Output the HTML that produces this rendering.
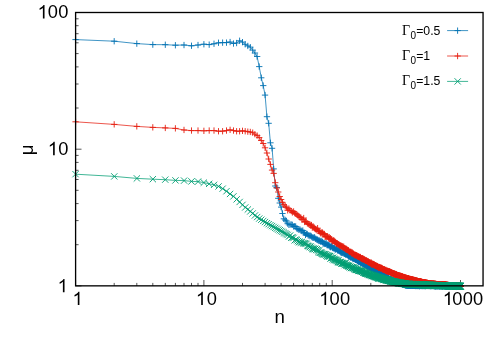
<!DOCTYPE html>
<html><head><meta charset="utf-8"><style>
html,body{margin:0;padding:0;background:#fff}
body{width:498px;height:337px;position:relative;overflow:hidden;font-family:"Liberation Sans",sans-serif;color:#000}
.t{position:absolute;font-size:18px;line-height:20px;height:20px;white-space:nowrap;letter-spacing:-0.25px;transform:scaleY(1.055);transform-origin:center;will-change:transform}
.k{position:absolute;font-size:12.3px;line-height:14px;height:14px;white-space:nowrap;transform:scaleY(1.09);transform-origin:center;will-change:transform}
.k i{font-style:normal;font-family:"Liberation Serif",serif;font-size:14px}
.k sub{font-size:10px;vertical-align:baseline;position:relative;top:3px;margin:0 0 0 0.5px}
</style></head><body>
<svg width="498" height="337" viewBox="0 0 498 337" style="position:absolute;left:0;top:0;will-change:transform">
<path d="M75.6 285.9h5.9M75.6 244.7h3M75.6 220.6h3M75.6 203.6h3M75.6 190.3h3M75.6 179.5h3M75.6 170.3h3M75.6 162.4h3M75.6 155.4h3M75.6 149.2h5.9M75.6 108h3M75.6 84h3M75.6 66.9h3M75.6 53.6h3M75.6 42.8h3M75.6 33.7h3M75.6 25.7h3M75.6 18.8h3M75.6 12.5h5.9M75.6 285.9v-5.9M114.2 285.9v-3M136.8 285.9v-3M152.8 285.9v-3M165.3 285.9v-3M175.4 285.9v-3M184 285.9v-3M191.5 285.9v-3M198 285.9v-3M203.9 285.9v-5.9M242.5 285.9v-3M265.1 285.9v-3M281.1 285.9v-3M293.6 285.9v-3M303.7 285.9v-3M312.3 285.9v-3M319.7 285.9v-3M326.3 285.9v-3M332.2 285.9v-5.9M370.8 285.9v-3M393.4 285.9v-3M409.4 285.9v-3M421.8 285.9v-3M432 285.9v-3M440.6 285.9v-3M448 285.9v-3M454.6 285.9v-3M460.5 285.9v-5.9" stroke="#000" stroke-width="0.67" fill="none"/>
<path d="M75.6 39.6 L114.2 41.2 L136.8 43.6 L152.8 44.6 L165.3 44.7 L175.4 45.2 L184 45 L191.5 45.8 L198 45 L203.9 44.2 L209.2 44.6 L214 43.8 L218.5 42.8 L222.6 42.6 L226.5 42.6 L230.1 42 L233.5 43.5 L236.6 43 L239.6 40.8 L242.5 42.1 L245.2 44.3 L247.8 45.9 L250.3 47.1 L252.7 50.1 L254.9 53 L257.1 56.5 L259.2 66.6 L261.3 77.8 L263.2 85.6 L265.1 95.1 L266.9 116.7 L268.7 123.3 L270.4 142.8 L272.1 148.3 L273.7 168.9 L275.3 186 L276.8 187.5 L278.3 198.3 L279.7 203 L281.1 207.1 L282.5 213.5 L283.8 218.8 L285.2 220 L286.4 220.9 L287.7 223.7 L288.9 224.9 L290.1 224.5 L291.3 224.5 L292.4 224.8 L293.6 226.4 L294.7 226.2 L295.7 226.5 L296.8 228.4 L297.8 229 L298.9 229.9 L299.9 229.3 L300.9 230.6 L301.8 231.1 L302.8 230.5 L303.7 232.6 L304.6 232.9 L305.5 234.9 L306.4 233.8 L307.3 234 L308.2 235.5 L309 235.2 L309.9 236.1 L310.7 235.7 L311.5 236.5 L312.3 237.5 L313.1 237.7 L313.9 237.7 L314.6 237.3 L315.4 238.7 L316.1 238.9 L316.9 239.7 L317.6 239.8 L318.3 240.7 L319 240.4 L319.7 240.9 L320.4 241.5 L321.1 240.8 L321.8 241.6 L322.5 241.9 L323.1 243.7 L323.8 242.8 L324.4 243.6 L325.1 243.9 L325.7 243.7 L326.3 243.3 L326.9 245.1 L327.5 244.6 L328.1 245.6 L328.7 244.8 L329.3 245.6 L329.9 246.8 L330.5 247.2 L331 246 L331.6 246.3 L332.2 247.3 L332.7 248 L333.3 248 L333.8 248.3 L334.4 247.9 L334.9 249 L335.4 249.6 L335.9 249.1 L336.5 248.8 L337 249.4 L337.5 250.5 L338 249.5 L338.5 250.6 L339 250.4 L339.5 251.1 L340 251.3 L340.4 251.6 L340.9 252.6 L341.4 252.3 L341.9 253 L342.3 252.6 L342.8 252.7 L343.3 253.3 L343.7 252.1 L344.2 253.6 L344.6 253.9 L345 253.5 L345.5 254.5 L345.9 254.3 L346.4 253.7 L346.8 254.9 L347.2 254.8 L347.6 255.2 L348.1 255.6 L348.5 256.4 L348.9 256.1 L349.3 256.3 L349.7 256.7 L350.1 256 L350.5 257.5 L350.9 256.7 L351.3 257.6 L351.7 257.1 L352.1 257.4 L352.5 257.8 L352.9 259 L353.3 258.7 L353.6 258.4 L354 258.7 L354.4 258.6 L354.8 259.2 L355.1 259.2 L355.5 259.9 L355.9 259.3 L356.2 259.9 L356.6 259.9 L356.9 260.1 L357.3 260.8 L357.7 260.8 L358 261.2 L358.4 261.6 L358.7 261.8 L359.1 261 L359.4 261.9 L359.7 261.2 L360.1 262 L360.4 262.9 L360.7 262.4 L361.1 262.5 L361.4 262.8 L361.7 263 L362.1 263.2 L362.4 263 L362.7 263.9 L363 264 L363.4 263.8 L363.7 264.1 L364 264.4 L364.3 264.7 L364.6 264.7 L364.9 264.9 L365.2 264.8 L365.5 264.7 L365.8 265 L366.1 265.7 L366.4 265.9 L366.7 265.8 L367 265.7 L367.3 266.1 L367.6 266.8 L367.9 266.8 L368.2 266.3 L368.5 266.7 L368.8 266.4 L369.1 266.6 L369.4 267.2 L369.7 267.3 L369.9 267.8 L370.2 268 L370.5 268.1 L370.8 268.4 L371.1 267.9 L371.3 267.9 L371.6 268.6 L371.9 269.4 L372.2 268.8 L372.4 268.5 L372.7 269.1 L373 269.6 L373.2 269 L373.5 269.7 L373.8 269.4 L374 270.2 L374.3 270.2 L374.6 270.2 L374.8 270.8 L375.1 270.2 L375.3 270.3 L375.6 271.2 L375.8 270.5 L376.1 271.6 L376.4 271.1 L376.6 270.9 L376.9 271.4 L377.1 271.6 L377.4 271.7 L377.6 271.7 L377.8 272.3 L378.1 271.4 L378.3 272.1 L378.6 272.3 L378.8 273 L379.1 272.1 L379.3 272.7 L379.5 272.6 L379.8 272.9 L380 273.4 L380.2 273.4 L380.5 273.9 L380.7 273.4 L380.9 273.8 L381.2 274.2 L381.4 274.3 L381.6 274.1 L381.9 274.6 L382.1 274.2 L382.3 275.1 L382.6 274.8 L382.8 274.8 L383 275.1 L383.2 275.4 L383.4 275.8 L383.7 275.4 L383.9 275.5 L384.1 275.9 L384.3 275.6 L384.5 275.5 L384.8 276.3 L385 276.2 L385.2 276.7 L385.4 276.2 L385.6 275.9 L385.8 276.9 L386 277 L386.3 277.5 L386.5 277.3 L386.7 277.4 L386.9 277.6 L387.1 277.4 L387.3 277.7 L387.5 277.4 L387.7 278 L387.9 277.8 L388.1 278 L388.3 278.4 L388.5 278.6 L388.7 278.2 L388.9 279.1 L389.1 278.5 L389.3 279 L389.5 279.1 L389.7 279 L389.9 279.1 L390.1 279.6 L390.3 279.5 L390.5 279.4 L390.7 279 L390.9 279.3 L391.1 279.9 L391.3 279.7 L391.5 279.5 L391.7 279.7 L391.9 279.8 L392.1 280.2 L392.3 280.2 L392.4 280.4 L392.6 280 L392.8 280.6 L393 280.3 L393.2 280.4 L393.4 281 L393.6 280.6 L393.8 280.6 L393.9 280.7 L394.1 280.7 L394.3 281.3 L394.5 281.3 L394.7 281.2 L394.8 281.1 L395 281.4 L395.2 281.2 L395.4 281.4 L395.6 281.5 L395.7 281.4 L395.9 281.9 L396.1 282 L396.3 281.9 L396.5 281.2 L396.6 282.2 L396.8 282 L397 281.8 L397.2 281.9 L397.3 282.3 L397.5 282.3 L397.7 282.3 L397.8 282.2 L398 282.3 L398.2 282.5 L398.4 282.4 L398.5 282.2 L398.7 282.4 L398.9 282.5 L399 282.7 L399.2 283.2 L399.4 282.4 L399.5 282.9 L399.7 282.9 L399.9 283 L400 283.3 L400.2 283.4 L400.4 283.1 L400.5 283.1 L400.7 283 L400.8 283.3 L401 283.7 L401.2 283.4 L401.3 283.7 L401.5 283.8 L401.7 283.8 L401.8 284 L402 283.8 L402.1 283.7 L402.3 283.7 L402.4 284.3 L402.6 284 L402.8 284.1 L402.9 284.4 L403.1 284.1 L403.2 284.8 L403.4 284.6 L403.5 284.4 L403.7 284.4 L403.8 284.8 L404 284.4 L404.2 284.6 L404.3 284.7 L404.5 284.8 L404.6 284.8 L404.8 284.9 L404.9 284.8 L405.1 284.9 L405.2 285.2 L405.4 285.1 L405.5 284.9 L405.7 285.4 L405.8 284.6 L406 285.1 L406.1 285.2 L406.3 285.3 L406.4 285.2 L406.6 285.1 L406.7 285.3 L406.8 285.2 L407 285.3 L407.1 284.7 L407.3 285.3 L407.4 285.1 L407.6 285.5 L407.7 285.5 L407.9 285.5 L408 285.3 L408.1 285.5 L408.3 285.3 L408.4 285.4 L408.6 285.4 L408.7 285.2 L408.8 285.8 L409 285.6 L409.1 285 L409.3 285.6 L409.4 285.2 L409.5 285.4 L409.7 285.4 L409.8 285.4 L410 285.5 L410.1 285.4 L410.2 285.2 L410.4 285.5 L410.5 285.6 L410.6 285.9 L410.8 285.4 L410.9 285.3 L411.1 285.5 L411.2 285.7 L411.3 285.4 L411.5 285.4 L411.6 285.7 L411.7 285.5 L411.9 285.6 L412 285.4 L412.1 285.4 L412.3 285.5 L412.4 285.5 L412.5 285.5 L412.7 285.7 L412.8 285.7 L412.9 285.7 L413 285.7 L413.2 285.4 L413.3 285.4 L413.4 285.7 L413.6 285.6 L413.7 285.6 L413.8 285.4 L414 285.6 L414.1 285.5 L414.2 285.4 L414.3 285.5 L414.5 285.3 L414.6 285.6 L414.7 285.8 L414.8 285.5 L415 285.6 L415.1 285.4 L415.2 285.8 L415.3 286 L415.5 285.4 L415.6 285.6 L415.7 285.9 L415.8 285.7 L416 285.7 L416.1 285.3 L416.2 285.6 L416.3 285.8 L416.5 285.9 L416.6 285.8 L416.7 285.6 L416.8 285.5 L417 285.3 L417.1 285.5 L417.2 285.9 L417.3 285.6 L417.4 285.4 L417.6 285.9 L417.7 285.4 L417.8 285.9 L417.9 285.6 L418 285.7 L418.2 285.8 L418.3 285.7 L418.4 285.9 L418.5 285.7 L418.6 285.6 L418.7 285.6 L418.9 285.4 L419 285.6 L419.1 285.9 L419.2 285.8 L419.3 285.9 L419.5 286.2 L419.6 285.8 L419.7 285.8 L419.8 285.5 L419.9 285.7 L420 286.1 L420.1 285.8 L420.3 285.7 L420.4 285.8 L420.5 285.4 L420.6 285.6 L420.7 285.5 L420.8 285.3 L420.9 285.8 L421.1 285.9 L421.2 285.7 L421.3 285.8 L421.4 285.5 L421.5 285.8 L421.6 285.9 L421.7 286 L421.8 286 L422 285.8 L422.1 285.7 L422.2 285.6 L422.3 285.6 L422.4 285.8 L422.5 285.8 L422.6 285.7 L422.7 286 L422.8 285.8 L422.9 285.7 L423.1 285.7 L423.2 285.8 L423.3 285.6 L423.4 285.6 L423.5 285.8 L423.6 285.6 L423.7 285.7 L423.8 285.9 L423.9 285.7 L424 286 L424.1 285.7 L424.2 286 L424.3 285.8 L424.5 285.5 L424.6 286 L424.7 285.7 L424.8 285.4 L424.9 285.8 L425 285.8 L425.1 285.5 L425.2 285.7 L425.3 285.8 L425.4 286 L425.5 285.9 L425.6 286 L425.7 285.9 L425.8 285.4 L425.9 285.6 L426 285.8 L426.1 285.3 L426.2 285.9 L426.3 285.9 L426.4 285.6 L426.5 285.7 L426.6 285.6 L426.7 285.8 L426.8 285.8 L426.9 285.8 L427.1 285.6 L427.2 285.8 L427.3 285.7 L427.4 285.9 L427.5 285.8 L427.6 285.5 L427.7 285.6 L427.8 285.8 L427.9 285.7 L428 285.9 L428.1 285.9 L428.2 285.8 L428.3 285.5 L428.4 285.6 L428.5 285.9 L428.6 285.6 L428.7 286 L428.7 285.8 L428.8 285.9 L428.9 285.7 L429 285.8 L429.1 285.3 L429.2 285.8 L429.3 285.9 L429.4 285.7 L429.5 285.7 L429.6 285.8 L429.7 285.8 L429.8 285.7 L429.9 285.9 L430 285.5 L430.1 286 L430.2 285.6 L430.3 285.7 L430.4 286 L430.5 285.7 L430.6 285.6 L430.7 285.8 L430.8 285.7 L430.9 285.6 L431 285.7 L431.1 285.7 L431.2 285.7 L431.3 285.7 L431.3 286.1 L431.4 285.7 L431.5 286 L431.6 285.6 L431.7 285.9 L431.8 285.6 L431.9 285.7 L432 285.9 L432.1 285.7 L432.2 285.5 L432.3 285.7 L432.4 285.8 L432.5 285.9 L432.6 285.7 L432.6 285.8 L432.7 285.8 L432.8 285.6 L432.9 285.8 L433 285.7 L433.1 285.9 L433.2 285.8 L433.3 285.8 L433.4 285.5 L433.5 285.8 L433.6 285.8 L433.6 285.7 L433.7 285.8 L433.8 285.7 L433.9 285.9 L434 285.9 L434.1 285.9 L434.2 285.8 L434.3 286.1 L434.4 286 L434.5 285.7 L434.5 285.8 L434.6 285.6 L434.7 285.8 L434.8 285.9 L434.9 286 L435 285.8 L435.1 285.6 L435.2 285.8 L435.2 286 L435.3 285.9 L435.4 286 L435.5 286 L435.6 286.1 L435.7 285.9 L435.8 285.8 L435.9 285.9 L435.9 286.2 L436 285.8 L436.1 285.6 L436.2 286.2 L436.3 285.9 L436.4 285.8 L436.5 285.8 L436.5 285.6 L436.6 286 L436.7 285.9 L436.8 285.8 L436.9 285.8 L437 285.8 L437.1 286 L437.1 285.8 L437.2 286.1 L437.3 285.7 L437.4 285.8 L437.5 285.8 L437.6 285.8 L437.6 285.9 L437.7 286 L437.8 286 L437.9 285.7 L438 286 L438.1 285.9 L438.1 286.1 L438.2 285.9 L438.3 285.8 L438.4 286 L438.5 286 L438.6 285.8 L438.6 285.9 L438.7 285.9 L438.8 285.9 L438.9 285.6 L439 285.7 L439.1 285.9 L439.1 285.9 L439.2 285.8 L439.3 285.6 L439.4 286.1 L439.5 285.8 L439.5 285.7 L439.6 286.1 L439.7 286 L439.8 286 L439.9 286 L439.9 286 L440 285.8 L440.1 285.9 L440.2 285.9 L440.3 286 L440.3 286 L440.4 285.8 L440.5 285.8 L440.6 285.8 L440.7 285.9 L440.7 285.8 L440.8 285.7 L440.9 285.7 L441 285.9 L441.1 285.9 L441.1 286 L441.2 285.6 L441.3 285.8 L441.4 286 L441.5 285.6 L441.5 285.8 L441.6 285.7 L441.7 286.1 L441.8 285.9 L441.8 285.8 L441.9 285.9 L442 285.9 L442.1 286 L442.2 286.1 L442.2 286 L442.3 286 L442.4 286 L442.5 286 L442.5 286.1 L442.6 285.7 L442.7 286 L442.8 285.9 L442.8 285.9 L442.9 285.9 L443 285.9 L443.1 286 L443.2 285.9 L443.2 285.9 L443.3 285.8 L443.4 285.8 L443.5 285.8 L443.5 285.7 L443.6 285.9 L443.7 285.8 L443.8 285.7 L443.8 285.7 L443.9 285.9 L444 285.8 L444.1 286.2 L444.1 286 L444.2 285.8 L444.3 285.9 L444.4 285.8 L444.4 285.8 L444.5 285.9 L444.6 285.9 L444.7 285.8 L444.7 286 L444.8 286 L444.9 286.2 L444.9 285.8 L445 286 L445.1 285.9 L445.2 285.7 L445.2 285.9 L445.3 285.7 L445.4 285.9 L445.5 286.3 L445.5 286.1 L445.6 286.2 L445.7 286.1 L445.8 285.7 L445.8 286 L445.9 286 L446 286 L446 285.8 L446.1 285.7 L446.2 286.2 L446.3 286.1 L446.3 286 L446.4 285.9 L446.5 286 L446.5 285.8 L446.6 286.1 L446.7 286 L446.8 285.9 L446.8 285.9 L446.9 285.9 L447 286 L447 285.9 L447.1 286.1 L447.2 286 L447.3 285.9 L447.3 285.8 L447.4 286.1 L447.5 286.1 L447.5 286 L447.6 285.7 L447.7 285.9 L447.7 286.1 L447.8 286 L447.9 286.1 L448 285.9 L448 286 L448.1 286 L448.2 285.7 L448.2 285.9 L448.3 285.9 L448.4 285.9 L448.4 285.8 L448.5 286.1 L448.6 285.9 L448.7 286 L448.7 285.8 L448.8 285.7 L448.9 285.9 L448.9 286 L449 285.9 L449.1 286 L449.1 286.1 L449.2 285.9 L449.3 285.9 L449.3 285.9 L449.4 286.1 L449.5 286.2 L449.5 286 L449.6 285.9 L449.7 285.9 L449.7 285.9 L449.8 286.1 L449.9 285.9 L449.9 286.1 L450 285.8 L450.1 286 L450.1 286.1 L450.2 286.2 L450.3 285.9 L450.3 286.1 L450.4 286.3 L450.5 286.1 L450.5 285.7 L450.6 286 L450.7 286.2 L450.7 285.8 L450.8 286.1 L450.9 285.7 L450.9 286.2 L451 285.9 L451.1 286.1 L451.1 286.1 L451.2 285.6 L451.3 285.8 L451.3 286 L451.4 285.8 L451.5 286 L451.5 285.9 L451.6 286.1 L451.7 285.9 L451.7 285.9 L451.8 286 L451.9 286.1 L451.9 286 L452 286 L452.1 286 L452.1 285.9 L452.2 285.8 L452.3 286 L452.3 285.9 L452.4 285.8 L452.4 286.1 L452.5 286 L452.6 286 L452.6 285.9 L452.7 285.9 L452.8 286 L452.8 286 L452.9 285.9 L453 285.9 L453 286 L453.1 286 L453.1 286.1 L453.2 285.8 L453.3 286.1 L453.3 286.2 L453.4 286.1 L453.5 286 L453.5 286.1 L453.6 285.8 L453.7 285.9 L453.7 286.2 L453.8 285.8 L453.8 285.8 L453.9 286.1 L454 285.9 L454 285.9 L454.1 285.9 L454.2 286.2 L454.2 285.9 L454.3 286 L454.3 285.8 L454.4 286.1 L454.5 286 L454.5 286 L454.6 286.2 L454.7 286 L454.7 285.9 L454.8 285.9 L454.8 286 L454.9 286.1 L455 285.9 L455 286 L455.1 286 L455.1 286.1 L455.2 285.9 L455.3 286 L455.3 286.1 L455.4 286 L455.4 286 L455.5 286.1 L455.6 286.1 L455.6 286.1 L455.7 285.9 L455.8 286.1 L455.8 286 L455.9 285.9 L455.9 285.9 L456 285.9 L456.1 286 L456.1 286.1 L456.2 285.7 L456.2 285.9 L456.3 286.1 L456.4 286 L456.4 286.1 L456.5 285.8 L456.5 286 L456.6 285.7 L456.7 285.9 L456.7 286.1 L456.8 286.1 L456.8 286.2 L456.9 286 L457 285.9 L457 286 L457.1 285.8 L457.1 286.1 L457.2 286.1 L457.2 285.9 L457.3 286.2 L457.4 285.8 L457.4 286.1 L457.5 285.9 L457.5 285.8 L457.6 286 L457.7 285.9 L457.7 286.1 L457.8 285.9 L457.8 286 L457.9 285.9 L458 286 L458 285.9 L458.1 286.1 L458.1 286.1 L458.2 286 L458.2 286 L458.3 286.2 L458.4 285.9 L458.4 285.9 L458.5 286.1 L458.5 286 L458.6 285.8 L458.6 286 L458.7 286 L458.8 285.9 L458.8 286 L458.9 285.9 L458.9 286 L459 285.9 L459 286.2 L459.1 286 L459.2 286 L459.2 286 L459.3 286.1 L459.3 286 L459.4 286.1 L459.4 286 L459.5 285.7 L459.6 286 L459.6 285.9 L459.7 286.1 L459.7 286 L459.8 286 L459.8 285.7 L459.9 285.8 L460 285.9 L460 286 L460.1 285.9 L460.1 286.2 L460.2 286 L460.2 286 L460.3 285.9 L460.3 286 L460.4 286 L460.5 286" stroke="#0072b2" stroke-width="0.75" fill="none" stroke-linejoin="round"/>
<path d="M72.4 39.6h6.3M75.6 36.5v6.3M111.1 41.2h6.3M114.2 38.1v6.3M133.7 43.6h6.3M136.8 40.5v6.3M149.7 44.6h6.3M152.8 41.5v6.3M162.1 44.7h6.3M165.3 41.6v6.3M172.3 45.2h6.3M175.4 42.1v6.3M180.9 45h6.3M184 41.9v6.3M188.3 45.8h6.3M191.5 42.6v6.3M194.9 45h6.3M198 41.9v6.3M200.7 44.2h6.3M203.9 41.1v6.3M206 44.6h6.3M209.2 41.5v6.3M210.9 43.8h6.3M214 40.6v6.3M215.4 42.8h6.3M218.5 39.6v6.3M219.5 42.6h6.3M222.6 39.5v6.3M223.3 42.6h6.3M226.5 39.5v6.3M226.9 42h6.3M230.1 38.9v6.3M230.3 43.5h6.3M233.5 40.4v6.3M233.5 43h6.3M236.6 39.9v6.3M236.5 40.8h6.3M239.6 37.6v6.3M239.4 42.1h6.3M242.5 39v6.3M242.1 44.3h6.3M245.2 41.1v6.3M244.7 45.9h6.3M247.8 42.8v6.3M247.1 47.1h6.3M250.3 44v6.3M249.5 50.1h6.3M252.7 47v6.3M251.8 53h6.3M254.9 49.9v6.3M254 56.5h6.3M257.1 53.4v6.3M256.1 66.6h6.3M259.2 63.4v6.3M258.1 77.8h6.3M261.3 74.6v6.3M260.1 85.6h6.3M263.2 82.4v6.3M261.9 95.1h6.3M265.1 91.9v6.3M263.8 116.7h6.3M266.9 113.5v6.3M265.5 123.3h6.3M268.7 120.1v6.3M267.3 142.8h6.3M270.4 139.7v6.3M268.9 148.3h6.3M272.1 145.2v6.3M270.5 168.9h6.3M273.7 165.8v6.3M272.1 186h6.3M275.3 182.8v6.3M273.6 187.5h6.3M276.8 184.3v6.3M275.1 198.3h6.3M278.3 195.2v6.3M276.6 203h6.3M279.7 199.8v6.3M278 207.1h6.3M281.1 203.9v6.3M279.3 213.5h6.3M282.5 210.3v6.3M280.7 218.8h6.3M283.8 215.7v6.3M282 220h6.3M285.2 216.8v6.3M283.3 220.9h6.3M286.4 217.8v6.3M284.5 223.7h6.3M287.7 220.5v6.3M285.8 224.9h6.3M288.9 221.7v6.3M287 224.5h6.3M290.1 221.4v6.3M288.1 224.5h6.3M291.3 221.4v6.3M289.3 224.8h6.3M292.4 221.7v6.3M290.4 226.4h6.3M293.6 223.3v6.3M291.5 226.2h6.3M294.7 223v6.3M292.6 226.5h6.3M295.7 223.3v6.3M293.7 228.4h6.3M296.8 225.3v6.3M294.7 229h6.3M297.8 225.8v6.3M295.7 229.9h6.3M298.9 226.7v6.3M296.7 229.3h6.3M299.9 226.2v6.3M297.7 230.6h6.3M300.9 227.4v6.3M298.7 231.1h6.3M301.8 227.9v6.3M299.6 230.5h6.3M302.8 227.4v6.3M300.6 232.6h6.3M303.7 229.4v6.3M301.5 232.9h6.3M304.6 229.7v6.3M302.4 234.9h6.3M305.5 231.8v6.3M303.3 233.8h6.3M306.4 230.6v6.3M304.2 234h6.3M307.3 230.9v6.3M305 235.5h6.3M308.2 232.3v6.3M305.9 235.2h6.3M309 232v6.3M306.7 236.1h6.3M309.9 233v6.3M307.5 235.7h6.3M310.7 232.5v6.3M308.3 236.5h6.3M311.5 233.4v6.3M309.2 237.5h6.3M312.3 234.3v6.3M309.9 237.7h6.3M313.1 234.5v6.3M310.7 237.7h6.3M313.9 234.6v6.3M311.5 237.3h6.3M314.6 234.2v6.3M312.2 238.7h6.3M315.4 235.6v6.3M313 238.9h6.3M316.1 235.8v6.3M313.7 239.7h6.3M316.9 236.6v6.3M314.5 239.8h6.3M317.6 236.6v6.3M315.2 240.7h6.3M318.3 237.5v6.3M315.9 240.4h6.3M319 237.2v6.3M316.6 240.9h6.3M319.7 237.7v6.3M317.3 241.5h6.3M320.4 238.4v6.3M318 240.8h6.3M321.1 237.7v6.3M318.6 241.6h6.3M321.8 238.5v6.3M319.3 241.9h6.3M322.5 238.8v6.3M320 243.7h6.3M323.1 240.6v6.3M320.6 242.8h6.3M323.8 239.7v6.3M321.3 243.6h6.3M324.4 240.5v6.3M321.9 243.9h6.3M325.1 240.8v6.3M322.5 243.7h6.3M325.7 240.6v6.3M323.2 243.3h6.3M326.3 240.2v6.3M323.8 245.1h6.3M326.9 241.9v6.3M324.4 244.6h6.3M327.5 241.5v6.3M325 245.6h6.3M328.1 242.4v6.3M325.6 244.8h6.3M328.7 241.6v6.3M326.2 245.6h6.3M329.3 242.4v6.3M326.7 246.8h6.3M329.9 243.6v6.3M327.3 247.2h6.3M330.5 244v6.3M327.9 246h6.3M331 242.9v6.3M328.5 246.3h6.3M331.6 243.2v6.3M329 247.3h6.3M332.2 244.1v6.3M329.6 248h6.3M332.7 244.8v6.3M330.1 248h6.3M333.3 244.8v6.3M330.7 248.3h6.3M333.8 245.2v6.3M331.2 247.9h6.3M334.4 244.8v6.3M331.7 249h6.3M334.9 245.9v6.3M332.3 249.6h6.3M335.4 246.4v6.3M332.8 249.1h6.3M335.9 245.9v6.3M333.3 248.8h6.3M336.5 245.7v6.3M333.8 249.4h6.3M337 246.3v6.3M334.3 250.5h6.3M337.5 247.3v6.3M334.8 249.5h6.3M338 246.4v6.3M335.3 250.6h6.3M338.5 247.4v6.3M335.8 250.4h6.3M339 247.2v6.3M336.3 251.1h6.3M339.5 247.9v6.3M336.8 251.3h6.3M340 248.1v6.3M337.3 251.6h6.3M340.4 248.5v6.3M337.8 252.6h6.3M340.9 249.4v6.3M338.2 252.3h6.3M341.4 249.2v6.3M338.7 253h6.3M341.9 249.9v6.3M339.2 252.6h6.3M342.3 249.4v6.3M339.6 252.7h6.3M342.8 249.5v6.3M340.1 253.3h6.3M343.3 250.1v6.3M340.6 252.1h6.3M343.7 248.9v6.3M341 253.6h6.3M344.2 250.4v6.3M341.5 253.9h6.3M344.6 250.7v6.3M341.9 253.5h6.3M345 250.4v6.3M342.3 254.5h6.3M345.5 251.3v6.3M342.8 254.3h6.3M345.9 251.1v6.3M343.2 253.7h6.3M346.4 250.5v6.3M343.6 254.9h6.3M346.8 251.7v6.3M344.1 254.8h6.3M347.2 251.6v6.3M344.5 255.2h6.3M347.6 252v6.3M344.9 255.6h6.3M348.1 252.4v6.3M345.3 256.4h6.3M348.5 253.2v6.3M345.7 256.1h6.3M348.9 253v6.3M346.2 256.3h6.3M349.3 253.1v6.3M346.6 256.7h6.3M349.7 253.5v6.3M347 256h6.3M350.1 252.8v6.3M347.4 257.5h6.3M350.5 254.3v6.3M347.8 256.7h6.3M350.9 253.6v6.3M348.2 257.6h6.3M351.3 254.4v6.3M348.6 257.1h6.3M351.7 254v6.3M349 257.4h6.3M352.1 254.2v6.3M349.3 257.8h6.3M352.5 254.7v6.3M349.7 259h6.3M352.9 255.8v6.3M350.1 258.7h6.3M353.3 255.5v6.3M350.5 258.4h6.3M353.6 255.2v6.3M350.9 258.7h6.3M354 255.5v6.3M351.2 258.6h6.3M354.4 255.4v6.3M351.6 259.2h6.3M354.8 256v6.3M352 259.2h6.3M355.1 256v6.3M352.4 259.9h6.3M355.5 256.7v6.3M352.7 259.3h6.3M355.9 256.1v6.3M353.1 259.9h6.3M356.2 256.7v6.3M353.4 259.9h6.3M356.6 256.7v6.3M353.8 260.1h6.3M356.9 257v6.3M354.2 260.8h6.3M357.3 257.7v6.3M354.5 260.8h6.3M357.7 257.7v6.3M354.9 261.2h6.3M358 258v6.3M355.2 261.6h6.3M358.4 258.4v6.3M355.6 261.8h6.3M358.7 258.6v6.3M355.9 261h6.3M359.1 257.8v6.3M356.2 261.9h6.3M359.4 258.7v6.3M356.6 261.2h6.3M359.7 258.1v6.3M356.9 262h6.3M360.1 258.9v6.3M357.3 262.9h6.3M360.4 259.8v6.3M357.6 262.4h6.3M360.7 259.2v6.3M357.9 262.5h6.3M361.1 259.3v6.3M358.3 262.8h6.3M361.4 259.7v6.3M358.6 263h6.3M361.7 259.8v6.3M358.9 263.2h6.3M362.1 260v6.3M359.2 263h6.3M362.4 259.9v6.3M359.6 263.9h6.3M362.7 260.7v6.3M359.9 264h6.3M363 260.8v6.3M360.2 263.8h6.3M363.4 260.6v6.3M360.5 264.1h6.3M363.7 261v6.3M360.8 264.4h6.3M364 261.3v6.3M361.1 264.7h6.3M364.3 261.6v6.3M361.5 264.7h6.3M364.6 261.5v6.3M361.8 264.9h6.3M364.9 261.8v6.3M362.1 264.8h6.3M365.2 261.6v6.3M362.4 264.7h6.3M365.5 261.5v6.3M362.7 265h6.3M365.8 261.9v6.3M363 265.7h6.3M366.1 262.6v6.3M363.3 265.9h6.3M366.4 262.7v6.3M363.6 265.8h6.3M366.7 262.6v6.3M363.9 265.7h6.3M367 262.5v6.3M364.2 266.1h6.3M367.3 263v6.3M364.5 266.8h6.3M367.6 263.6v6.3M364.8 266.8h6.3M367.9 263.7v6.3M365.1 266.3h6.3M368.2 263.1v6.3M365.4 266.7h6.3M368.5 263.5v6.3M365.7 266.4h6.3M368.8 263.2v6.3M365.9 266.6h6.3M369.1 263.5v6.3M366.2 267.2h6.3M369.4 264.1v6.3M366.5 267.3h6.3M369.7 264.2v6.3M366.8 267.8h6.3M369.9 264.6v6.3M367.1 268h6.3M370.2 264.9v6.3M367.4 268.1h6.3M370.5 264.9v6.3M367.6 268.4h6.3M370.8 265.2v6.3M367.9 267.9h6.3M371.1 264.8v6.3M368.2 267.9h6.3M371.3 264.7v6.3M368.5 268.6h6.3M371.6 265.4v6.3M368.7 269.4h6.3M371.9 266.3v6.3M369 268.8h6.3M372.2 265.7v6.3M369.3 268.5h6.3M372.4 265.4v6.3M369.6 269.1h6.3M372.7 265.9v6.3M369.8 269.6h6.3M373 266.5v6.3M370.1 269h6.3M373.2 265.9v6.3M370.4 269.7h6.3M373.5 266.6v6.3M370.6 269.4h6.3M373.8 266.3v6.3M370.9 270.2h6.3M374 267v6.3M371.1 270.2h6.3M374.3 267v6.3M371.4 270.2h6.3M374.6 267v6.3M371.7 270.8h6.3M374.8 267.7v6.3M371.9 270.2h6.3M375.1 267.1v6.3M372.2 270.3h6.3M375.3 267.1v6.3M372.4 271.2h6.3M375.6 268.1v6.3M372.7 270.5h6.3M375.8 267.4v6.3M373 271.6h6.3M376.1 268.5v6.3M373.2 271.1h6.3M376.4 267.9v6.3M373.5 270.9h6.3M376.6 267.8v6.3M373.7 271.4h6.3M376.9 268.2v6.3M374 271.6h6.3M377.1 268.4v6.3M374.2 271.7h6.3M377.4 268.6v6.3M374.5 271.7h6.3M377.6 268.6v6.3M374.7 272.3h6.3M377.8 269.1v6.3M374.9 271.4h6.3M378.1 268.2v6.3M375.2 272.1h6.3M378.3 268.9v6.3M375.4 272.3h6.3M378.6 269.1v6.3M375.7 273h6.3M378.8 269.9v6.3M375.9 272.1h6.3M379.1 268.9v6.3M376.2 272.7h6.3M379.3 269.5v6.3M376.4 272.6h6.3M379.5 269.4v6.3M376.6 272.9h6.3M379.8 269.7v6.3M376.9 273.4h6.3M380 270.2v6.3M377.1 273.4h6.3M380.2 270.3v6.3M377.3 273.9h6.3M380.5 270.7v6.3M377.6 273.4h6.3M380.7 270.3v6.3M377.8 273.8h6.3M380.9 270.7v6.3M378 274.2h6.3M381.2 271.1v6.3M378.3 274.3h6.3M381.4 271.1v6.3M378.5 274.1h6.3M381.6 270.9v6.3M378.7 274.6h6.3M381.9 271.5v6.3M378.9 274.2h6.3M382.1 271v6.3M379.2 275.1h6.3M382.3 271.9v6.3M379.4 274.8h6.3M382.6 271.6v6.3M379.6 274.8h6.3M382.8 271.7v6.3M379.9 275.1h6.3M383 271.9v6.3M380.1 275.4h6.3M383.2 272.2v6.3M380.3 275.8h6.3M383.4 272.6v6.3M380.5 275.4h6.3M383.7 272.2v6.3M380.7 275.5h6.3M383.9 272.3v6.3M381 275.9h6.3M384.1 272.7v6.3M381.2 275.6h6.3M384.3 272.5v6.3M381.4 275.5h6.3M384.5 272.4v6.3M381.6 276.3h6.3M384.8 273.2v6.3M381.8 276.2h6.3M385 273v6.3M382 276.7h6.3M385.2 273.5v6.3M382.3 276.2h6.3M385.4 273.1v6.3M382.5 275.9h6.3M385.6 272.7v6.3M382.7 276.9h6.3M385.8 273.7v6.3M382.9 277h6.3M386 273.8v6.3M383.1 277.5h6.3M386.3 274.3v6.3M383.3 277.3h6.3M386.5 274.2v6.3M383.5 277.4h6.3M386.7 274.2v6.3M383.7 277.6h6.3M386.9 274.4v6.3M383.9 277.4h6.3M387.1 274.3v6.3M384.2 277.7h6.3M387.3 274.5v6.3M384.4 277.4h6.3M387.5 274.3v6.3M384.6 278h6.3M387.7 274.9v6.3M384.8 277.8h6.3M387.9 274.7v6.3M385 278h6.3M388.1 274.9v6.3M385.2 278.4h6.3M388.3 275.3v6.3M385.4 278.6h6.3M388.5 275.4v6.3M385.6 278.2h6.3M388.7 275v6.3M385.8 279.1h6.3M388.9 275.9v6.3M386 278.5h6.3M389.1 275.4v6.3M386.2 279h6.3M389.3 275.8v6.3M386.4 279.1h6.3M389.5 276v6.3M386.6 279h6.3M389.7 275.9v6.3M386.8 279.1h6.3M389.9 276v6.3M387 279.6h6.3M390.1 276.5v6.3M387.2 279.5h6.3M390.3 276.3v6.3M387.4 279.4h6.3M390.5 276.3v6.3M387.6 279h6.3M390.7 275.8v6.3M387.8 279.3h6.3M390.9 276.2v6.3M388 279.9h6.3M391.1 276.7v6.3M388.2 279.7h6.3M391.3 276.6v6.3M388.3 279.5h6.3M391.5 276.4v6.3M388.5 279.7h6.3M391.7 276.5v6.3M388.7 279.8h6.3M391.9 276.7v6.3M388.9 280.2h6.3M392.1 277v6.3M389.1 280.2h6.3M392.3 277v6.3M389.3 280.4h6.3M392.4 277.3v6.3M389.5 280h6.3M392.6 276.9v6.3M389.7 280.6h6.3M392.8 277.4v6.3M389.9 280.3h6.3M393 277.1v6.3M390 280.4h6.3M393.2 277.2v6.3M390.2 281h6.3M393.4 277.8v6.3M390.4 280.6h6.3M393.6 277.5v6.3M390.6 280.6h6.3M393.8 277.5v6.3M390.8 280.7h6.3M393.9 277.5v6.3M391 280.7h6.3M394.1 277.6v6.3M391.2 281.3h6.3M394.3 278.1v6.3M391.3 281.3h6.3M394.5 278.1v6.3M391.5 281.2h6.3M394.7 278v6.3M391.7 281.1h6.3M394.8 278v6.3M391.9 281.4h6.3M395 278.3v6.3M392.1 281.2h6.3M395.2 278.1v6.3M392.2 281.4h6.3M395.4 278.3v6.3M392.4 281.5h6.3M395.6 278.3v6.3M392.6 281.4h6.3M395.7 278.3v6.3M392.8 281.9h6.3M395.9 278.7v6.3M392.9 282h6.3M396.1 278.8v6.3M393.1 281.9h6.3M396.3 278.8v6.3M393.3 281.2h6.3M396.5 278.1v6.3M393.5 282.2h6.3M396.6 279v6.3M393.7 282h6.3M396.8 278.8v6.3M393.8 281.8h6.3M397 278.6v6.3M394 281.9h6.3M397.2 278.8v6.3M394.2 282.3h6.3M397.3 279.1v6.3M394.3 282.3h6.3M397.5 279.2v6.3M394.5 282.3h6.3M397.7 279.2v6.3M394.7 282.2h6.3M397.8 279.1v6.3M394.9 282.3h6.3M398 279.1v6.3M395 282.5h6.3M398.2 279.4v6.3M395.2 282.4h6.3M398.4 279.2v6.3M395.4 282.2h6.3M398.5 279.1v6.3M395.5 282.4h6.3M398.7 279.2v6.3M395.7 282.5h6.3M398.9 279.4v6.3M395.9 282.7h6.3M399 279.6v6.3M396 283.2h6.3M399.2 280.1v6.3M396.2 282.4h6.3M399.4 279.3v6.3M396.4 282.9h6.3M399.5 279.8v6.3M396.5 282.9h6.3M399.7 279.7v6.3M396.7 283h6.3M399.9 279.9v6.3M396.9 283.3h6.3M400 280.2v6.3M397 283.4h6.3M400.2 280.2v6.3M397.2 283.1h6.3M400.4 280v6.3M397.4 283.1h6.3M400.5 279.9v6.3M397.5 283h6.3M400.7 279.8v6.3M397.7 283.3h6.3M400.8 280.2v6.3M397.9 283.7h6.3M401 280.5v6.3M398 283.4h6.3M401.2 280.3v6.3M398.2 283.7h6.3M401.3 280.6v6.3M398.3 283.8h6.3M401.5 280.6v6.3M398.5 283.8h6.3M401.7 280.6v6.3M398.7 284h6.3M401.8 280.9v6.3M398.8 283.8h6.3M402 280.7v6.3M399 283.7h6.3M402.1 280.6v6.3M399.1 283.7h6.3M402.3 280.6v6.3M399.3 284.3h6.3M402.4 281.1v6.3M399.5 284h6.3M402.6 280.9v6.3M399.6 284.1h6.3M402.8 281v6.3M399.8 284.4h6.3M402.9 281.3v6.3M399.9 284.1h6.3M403.1 281v6.3M400.1 284.8h6.3M403.2 281.6v6.3M400.2 284.6h6.3M403.4 281.4v6.3M400.4 284.4h6.3M403.5 281.2v6.3M400.5 284.4h6.3M403.7 281.3v6.3M400.7 284.8h6.3M403.8 281.7v6.3M400.9 284.4h6.3M404 281.2v6.3M401 284.6h6.3M404.2 281.4v6.3M401.2 284.7h6.3M404.3 281.6v6.3M401.3 284.8h6.3M404.5 281.7v6.3M401.5 284.8h6.3M404.6 281.7v6.3M401.6 284.9h6.3M404.8 281.8v6.3M401.8 284.8h6.3M404.9 281.7v6.3M401.9 284.9h6.3M405.1 281.7v6.3M402.1 285.2h6.3M405.2 282.1v6.3M402.2 285.1h6.3M405.4 282v6.3M402.4 284.9h6.3M405.5 281.7v6.3M402.5 285.4h6.3M405.7 282.2v6.3M402.7 284.6h6.3M405.8 281.5v6.3M402.8 285.1h6.3M406 281.9v6.3M403 285.2h6.3M406.1 282.1v6.3M403.1 285.3h6.3M406.3 282.2v6.3M403.3 285.2h6.3M406.4 282v6.3M403.4 285.1h6.3M406.6 281.9v6.3M403.5 285.3h6.3M406.7 282.2v6.3M403.7 285.2h6.3M406.8 282v6.3M403.8 285.3h6.3M407 282.2v6.3M404 284.7h6.3M407.1 281.5v6.3M404.1 285.3h6.3M407.3 282.2v6.3M404.3 285.1h6.3M407.4 282v6.3M404.4 285.5h6.3M407.6 282.3v6.3M404.6 285.5h6.3M407.7 282.3v6.3M404.7 285.5h6.3M407.9 282.3v6.3M404.8 285.3h6.3M408 282.1v6.3M405 285.5h6.3M408.1 282.3v6.3M405.1 285.3h6.3M408.3 282.2v6.3M405.3 285.4h6.3M408.4 282.3v6.3M405.4 285.4h6.3M408.6 282.2v6.3M405.6 285.2h6.3M408.7 282.1v6.3M405.7 285.8h6.3M408.8 282.7v6.3M405.8 285.6h6.3M409 282.4v6.3M406 285h6.3M409.1 281.9v6.3M406.1 285.6h6.3M409.3 282.5v6.3M406.3 285.2h6.3M409.4 282v6.3M406.4 285.4h6.3M409.5 282.3v6.3M406.5 285.4h6.3M409.7 282.2v6.3M406.7 285.4h6.3M409.8 282.2v6.3M406.8 285.5h6.3M410 282.4v6.3M407 285.4h6.3M410.1 282.3v6.3M407.1 285.2h6.3M410.2 282.1v6.3M407.2 285.5h6.3M410.4 282.4v6.3M407.4 285.6h6.3M410.5 282.4v6.3M407.5 285.9h6.3M410.6 282.7v6.3M407.6 285.4h6.3M410.8 282.3v6.3M407.8 285.3h6.3M410.9 282.1v6.3M407.9 285.5h6.3M411.1 282.3v6.3M408 285.7h6.3M411.2 282.5v6.3M408.2 285.4h6.3M411.3 282.2v6.3M408.3 285.4h6.3M411.5 282.3v6.3M408.4 285.7h6.3M411.6 282.5v6.3M408.6 285.5h6.3M411.7 282.4v6.3M408.7 285.6h6.3M411.9 282.4v6.3M408.8 285.4h6.3M412 282.3v6.3M409 285.4h6.3M412.1 282.3v6.3M409.1 285.5h6.3M412.3 282.4v6.3M409.2 285.5h6.3M412.4 282.4v6.3M409.4 285.5h6.3M412.5 282.4v6.3M409.5 285.7h6.3M412.7 282.5v6.3M409.6 285.7h6.3M412.8 282.5v6.3M409.8 285.7h6.3M412.9 282.5v6.3M409.9 285.7h6.3M413 282.5v6.3M410 285.4h6.3M413.2 282.3v6.3M410.2 285.4h6.3M413.3 282.2v6.3M410.3 285.7h6.3M413.4 282.6v6.3M410.4 285.6h6.3M413.6 282.4v6.3M410.5 285.6h6.3M413.7 282.5v6.3M410.7 285.4h6.3M413.8 282.2v6.3M410.8 285.6h6.3M414 282.4v6.3M410.9 285.5h6.3M414.1 282.3v6.3M411.1 285.4h6.3M414.2 282.3v6.3M411.2 285.5h6.3M414.3 282.3v6.3M411.3 285.3h6.3M414.5 282.2v6.3M411.4 285.6h6.3M414.6 282.5v6.3M411.6 285.8h6.3M414.7 282.7v6.3M411.7 285.5h6.3M414.8 282.3v6.3M411.8 285.6h6.3M415 282.5v6.3M411.9 285.4h6.3M415.1 282.3v6.3M412.1 285.8h6.3M415.2 282.6v6.3M412.2 286h6.3M415.3 282.8v6.3M412.3 285.4h6.3M415.5 282.3v6.3M412.4 285.6h6.3M415.6 282.4v6.3M412.6 285.9h6.3M415.7 282.8v6.3M412.7 285.7h6.3M415.8 282.6v6.3M412.8 285.7h6.3M416 282.5v6.3M412.9 285.3h6.3M416.1 282.1v6.3M413.1 285.6h6.3M416.2 282.5v6.3M413.2 285.8h6.3M416.3 282.7v6.3M413.3 285.9h6.3M416.5 282.8v6.3M413.4 285.8h6.3M416.6 282.6v6.3M413.6 285.6h6.3M416.7 282.4v6.3M413.7 285.5h6.3M416.8 282.4v6.3M413.8 285.3h6.3M417 282.2v6.3M413.9 285.5h6.3M417.1 282.3v6.3M414 285.9h6.3M417.2 282.7v6.3M414.2 285.6h6.3M417.3 282.5v6.3M414.3 285.4h6.3M417.4 282.3v6.3M414.4 285.9h6.3M417.6 282.8v6.3M414.5 285.4h6.3M417.7 282.2v6.3M414.6 285.9h6.3M417.8 282.8v6.3M414.8 285.6h6.3M417.9 282.5v6.3M414.9 285.7h6.3M418 282.6v6.3M415 285.8h6.3M418.2 282.7v6.3M415.1 285.7h6.3M418.3 282.6v6.3M415.2 285.9h6.3M418.4 282.8v6.3M415.4 285.7h6.3M418.5 282.5v6.3M415.5 285.6h6.3M418.6 282.5v6.3M415.6 285.6h6.3M418.7 282.4v6.3M415.7 285.4h6.3M418.9 282.3v6.3M415.8 285.6h6.3M419 282.4v6.3M416 285.9h6.3M419.1 282.7v6.3M416.1 285.8h6.3M419.2 282.7v6.3M416.2 285.9h6.3M419.3 282.8v6.3M416.3 286.2h6.3M419.5 283v6.3M416.4 285.8h6.3M419.6 282.7v6.3M416.5 285.8h6.3M419.7 282.6v6.3M416.6 285.5h6.3M419.8 282.3v6.3M416.8 285.7h6.3M419.9 282.5v6.3M416.9 286.1h6.3M420 282.9v6.3M417 285.8h6.3M420.1 282.6v6.3M417.1 285.7h6.3M420.3 282.5v6.3M417.2 285.8h6.3M420.4 282.6v6.3M417.3 285.4h6.3M420.5 282.2v6.3M417.5 285.6h6.3M420.6 282.4v6.3M417.6 285.5h6.3M420.7 282.3v6.3M417.7 285.3h6.3M420.8 282.2v6.3M417.8 285.8h6.3M420.9 282.7v6.3M417.9 285.9h6.3M421.1 282.7v6.3M418 285.7h6.3M421.2 282.5v6.3M418.1 285.8h6.3M421.3 282.6v6.3M418.2 285.5h6.3M421.4 282.4v6.3M418.4 285.8h6.3M421.5 282.6v6.3M418.5 285.9h6.3M421.6 282.7v6.3M418.6 286h6.3M421.7 282.8v6.3M418.7 286h6.3M421.8 282.8v6.3M418.8 285.8h6.3M422 282.7v6.3M418.9 285.7h6.3M422.1 282.6v6.3M419 285.6h6.3M422.2 282.4v6.3M419.1 285.6h6.3M422.3 282.5v6.3M419.2 285.8h6.3M422.4 282.7v6.3M419.4 285.8h6.3M422.5 282.7v6.3M419.5 285.7h6.3M422.6 282.6v6.3M419.6 286h6.3M422.7 282.9v6.3M419.7 285.8h6.3M422.8 282.7v6.3M419.8 285.7h6.3M422.9 282.6v6.3M419.9 285.7h6.3M423.1 282.6v6.3M420 285.8h6.3M423.2 282.6v6.3M420.1 285.6h6.3M423.3 282.4v6.3M420.2 285.6h6.3M423.4 282.4v6.3M420.3 285.8h6.3M423.5 282.7v6.3M420.4 285.6h6.3M423.6 282.5v6.3M420.6 285.7h6.3M423.7 282.5v6.3M420.7 285.9h6.3M423.8 282.8v6.3M420.8 285.7h6.3M423.9 282.6v6.3M420.9 286h6.3M424 282.8v6.3M421 285.7h6.3M424.1 282.6v6.3M421.1 286h6.3M424.2 282.8v6.3M421.2 285.8h6.3M424.3 282.7v6.3M421.3 285.5h6.3M424.5 282.3v6.3M421.4 286h6.3M424.6 282.8v6.3M421.5 285.7h6.3M424.7 282.6v6.3M421.6 285.4h6.3M424.8 282.3v6.3M421.7 285.8h6.3M424.9 282.6v6.3M421.8 285.8h6.3M425 282.6v6.3M421.9 285.5h6.3M425.1 282.4v6.3M422 285.7h6.3M425.2 282.5v6.3M422.1 285.8h6.3M425.3 282.7v6.3M422.3 286h6.3M425.4 282.8v6.3M422.4 285.9h6.3M425.5 282.8v6.3M422.5 286h6.3M425.6 282.8v6.3M422.6 285.9h6.3M425.7 282.8v6.3M422.7 285.4h6.3M425.8 282.2v6.3M422.8 285.6h6.3M425.9 282.5v6.3M422.9 285.8h6.3M426 282.6v6.3M423 285.3h6.3M426.1 282.2v6.3M423.1 285.9h6.3M426.2 282.7v6.3M423.2 285.9h6.3M426.3 282.8v6.3M423.3 285.6h6.3M426.4 282.5v6.3M423.4 285.7h6.3M426.5 282.6v6.3M423.5 285.6h6.3M426.6 282.5v6.3M423.6 285.8h6.3M426.7 282.6v6.3M423.7 285.8h6.3M426.8 282.6v6.3M423.8 285.8h6.3M426.9 282.6v6.3M423.9 285.6h6.3M427.1 282.5v6.3M424 285.8h6.3M427.2 282.7v6.3M424.1 285.7h6.3M427.3 282.6v6.3M424.2 285.9h6.3M427.4 282.8v6.3M424.3 285.8h6.3M427.5 282.7v6.3M424.4 285.5h6.3M427.6 282.4v6.3M424.5 285.6h6.3M427.7 282.4v6.3M424.6 285.8h6.3M427.8 282.6v6.3M424.7 285.7h6.3M427.9 282.6v6.3M424.8 285.9h6.3M428 282.7v6.3M424.9 285.9h6.3M428.1 282.8v6.3M425 285.8h6.3M428.2 282.6v6.3M425.1 285.5h6.3M428.3 282.4v6.3M425.2 285.6h6.3M428.4 282.4v6.3M425.3 285.9h6.3M428.5 282.7v6.3M425.4 285.6h6.3M428.6 282.5v6.3M425.5 286h6.3M428.7 282.8v6.3M425.6 285.8h6.3M428.7 282.6v6.3M425.7 285.9h6.3M428.8 282.7v6.3M425.8 285.7h6.3M428.9 282.5v6.3M425.9 285.8h6.3M429 282.6v6.3M426 285.3h6.3M429.1 282.2v6.3M426.1 285.8h6.3M429.2 282.6v6.3M426.2 285.9h6.3M429.3 282.7v6.3M426.3 285.7h6.3M429.4 282.5v6.3M426.4 285.7h6.3M429.5 282.5v6.3M426.5 285.8h6.3M429.6 282.6v6.3M426.6 285.8h6.3M429.7 282.7v6.3M426.7 285.7h6.3M429.8 282.5v6.3M426.8 285.9h6.3M429.9 282.8v6.3M426.9 285.5h6.3M430 282.4v6.3M427 286h6.3M430.1 282.8v6.3M427.1 285.6h6.3M430.2 282.4v6.3M427.2 285.7h6.3M430.3 282.5v6.3M427.2 286h6.3M430.4 282.9v6.3M427.3 285.7h6.3M430.5 282.5v6.3M427.4 285.6h6.3M430.6 282.4v6.3M427.5 285.8h6.3M430.7 282.7v6.3M427.6 285.7h6.3M430.8 282.5v6.3M427.7 285.6h6.3M430.9 282.5v6.3M427.8 285.7h6.3M431 282.6v6.3M427.9 285.7h6.3M431.1 282.5v6.3M428 285.7h6.3M431.2 282.5v6.3M428.1 285.7h6.3M431.3 282.5v6.3M428.2 286.1h6.3M431.3 282.9v6.3M428.3 285.7h6.3M431.4 282.6v6.3M428.4 286h6.3M431.5 282.8v6.3M428.5 285.6h6.3M431.6 282.5v6.3M428.6 285.9h6.3M431.7 282.7v6.3M428.7 285.6h6.3M431.8 282.5v6.3M428.8 285.7h6.3M431.9 282.6v6.3M428.8 285.9h6.3M432 282.8v6.3M428.9 285.7h6.3M432.1 282.6v6.3M429 285.5h6.3M432.2 282.4v6.3M429.1 285.7h6.3M432.3 282.6v6.3M429.2 285.8h6.3M432.4 282.6v6.3M429.3 285.9h6.3M432.5 282.8v6.3M429.4 285.7h6.3M432.6 282.5v6.3M429.5 285.8h6.3M432.6 282.6v6.3M429.6 285.8h6.3M432.7 282.7v6.3M429.7 285.6h6.3M432.8 282.4v6.3M429.8 285.8h6.3M432.9 282.7v6.3M429.9 285.7h6.3M433 282.6v6.3M430 285.9h6.3M433.1 282.7v6.3M430 285.8h6.3M433.2 282.7v6.3M430.1 285.8h6.3M433.3 282.7v6.3M430.2 285.5h6.3M433.4 282.3v6.3M430.3 285.8h6.3M433.5 282.7v6.3M430.4 285.8h6.3M433.6 282.6v6.3M430.5 285.7h6.3M433.6 282.5v6.3M430.6 285.8h6.3M433.7 282.6v6.3M430.7 285.7h6.3M433.8 282.5v6.3M430.8 285.9h6.3M433.9 282.7v6.3M430.9 285.9h6.3M434 282.8v6.3M430.9 285.9h6.3M434.1 282.8v6.3M431 285.8h6.3M434.2 282.6v6.3M431.1 286.1h6.3M434.3 282.9v6.3M431.2 286h6.3M434.4 282.8v6.3M431.3 285.7h6.3M434.5 282.6v6.3M431.4 285.8h6.3M434.5 282.7v6.3M431.5 285.6h6.3M434.6 282.5v6.3M431.6 285.8h6.3M434.7 282.7v6.3M431.7 285.9h6.3M434.8 282.8v6.3M431.7 286h6.3M434.9 282.9v6.3M431.8 285.8h6.3M435 282.6v6.3M431.9 285.6h6.3M435.1 282.4v6.3M432 285.8h6.3M435.2 282.7v6.3M432.1 286h6.3M435.2 282.9v6.3M432.2 285.9h6.3M435.3 282.7v6.3M432.3 286h6.3M435.4 282.9v6.3M432.4 286h6.3M435.5 282.8v6.3M432.4 286.1h6.3M435.6 282.9v6.3M432.5 285.9h6.3M435.7 282.8v6.3M432.6 285.8h6.3M435.8 282.6v6.3M432.7 285.9h6.3M435.9 282.8v6.3M432.8 286.2h6.3M435.9 283.1v6.3M432.9 285.8h6.3M436 282.6v6.3M433 285.6h6.3M436.1 282.4v6.3M433.1 286.2h6.3M436.2 283v6.3M433.1 285.9h6.3M436.3 282.8v6.3M433.2 285.8h6.3M436.4 282.6v6.3M433.3 285.8h6.3M436.5 282.6v6.3M433.4 285.6h6.3M436.5 282.5v6.3M433.5 286h6.3M436.6 282.8v6.3M433.6 285.9h6.3M436.7 282.7v6.3M433.7 285.8h6.3M436.8 282.6v6.3M433.7 285.8h6.3M436.9 282.7v6.3M433.8 285.8h6.3M437 282.7v6.3M433.9 286h6.3M437.1 282.9v6.3M434 285.8h6.3M437.1 282.7v6.3M434.1 286.1h6.3M437.2 282.9v6.3M434.2 285.7h6.3M437.3 282.6v6.3M434.2 285.8h6.3M437.4 282.6v6.3M434.3 285.8h6.3M437.5 282.7v6.3M434.4 285.8h6.3M437.6 282.6v6.3M434.5 285.9h6.3M437.6 282.7v6.3M434.6 286h6.3M437.7 282.9v6.3M434.7 286h6.3M437.8 282.9v6.3M434.7 285.7h6.3M437.9 282.6v6.3M434.8 286h6.3M438 282.9v6.3M434.9 285.9h6.3M438.1 282.7v6.3M435 286.1h6.3M438.1 282.9v6.3M435.1 285.9h6.3M438.2 282.7v6.3M435.2 285.8h6.3M438.3 282.6v6.3M435.2 286h6.3M438.4 282.8v6.3M435.3 286h6.3M438.5 282.8v6.3M435.4 285.8h6.3M438.6 282.7v6.3M435.5 285.9h6.3M438.6 282.7v6.3M435.6 285.9h6.3M438.7 282.7v6.3M435.7 285.9h6.3M438.8 282.8v6.3M435.7 285.6h6.3M438.9 282.5v6.3M435.8 285.7h6.3M439 282.6v6.3M435.9 285.9h6.3M439.1 282.7v6.3M436 285.9h6.3M439.1 282.8v6.3M436.1 285.8h6.3M439.2 282.7v6.3M436.1 285.6h6.3M439.3 282.5v6.3M436.2 286.1h6.3M439.4 282.9v6.3M436.3 285.8h6.3M439.5 282.7v6.3M436.4 285.7h6.3M439.5 282.6v6.3M436.5 286.1h6.3M439.6 283v6.3M436.6 286h6.3M439.7 282.9v6.3M436.6 286h6.3M439.8 282.9v6.3M436.7 286h6.3M439.9 282.9v6.3M436.8 286h6.3M439.9 282.8v6.3M436.9 285.8h6.3M440 282.6v6.3M437 285.9h6.3M440.1 282.7v6.3M437 285.9h6.3M440.2 282.8v6.3M437.1 286h6.3M440.3 282.8v6.3M437.2 286h6.3M440.3 282.8v6.3M437.3 285.8h6.3M440.4 282.6v6.3M437.4 285.8h6.3M440.5 282.7v6.3M437.4 285.8h6.3M440.6 282.7v6.3M437.5 285.9h6.3M440.7 282.7v6.3M437.6 285.8h6.3M440.7 282.6v6.3M437.7 285.7h6.3M440.8 282.5v6.3M437.8 285.7h6.3M440.9 282.6v6.3M437.8 285.9h6.3M441 282.8v6.3M437.9 285.9h6.3M441.1 282.7v6.3M438 286h6.3M441.1 282.8v6.3M438.1 285.6h6.3M441.2 282.5v6.3M438.1 285.8h6.3M441.3 282.7v6.3M438.2 286h6.3M441.4 282.9v6.3M438.3 285.6h6.3M441.5 282.5v6.3M438.4 285.8h6.3M441.5 282.6v6.3M438.5 285.7h6.3M441.6 282.5v6.3M438.5 286.1h6.3M441.7 282.9v6.3M438.6 285.9h6.3M441.8 282.8v6.3M438.7 285.8h6.3M441.8 282.7v6.3M438.8 285.9h6.3M441.9 282.8v6.3M438.9 285.9h6.3M442 282.7v6.3M438.9 286h6.3M442.1 282.9v6.3M439 286.1h6.3M442.2 282.9v6.3M439.1 286h6.3M442.2 282.9v6.3M439.2 286h6.3M442.3 282.8v6.3M439.2 286h6.3M442.4 282.9v6.3M439.3 286h6.3M442.5 282.9v6.3M439.4 286.1h6.3M442.5 282.9v6.3M439.5 285.7h6.3M442.6 282.5v6.3M439.5 286h6.3M442.7 282.8v6.3M439.6 285.9h6.3M442.8 282.8v6.3M439.7 285.9h6.3M442.8 282.8v6.3M439.8 285.9h6.3M442.9 282.7v6.3M439.9 285.9h6.3M443 282.8v6.3M439.9 286h6.3M443.1 282.8v6.3M440 285.9h6.3M443.2 282.8v6.3M440.1 285.9h6.3M443.2 282.8v6.3M440.2 285.8h6.3M443.3 282.6v6.3M440.2 285.8h6.3M443.4 282.6v6.3M440.3 285.8h6.3M443.5 282.7v6.3M440.4 285.7h6.3M443.5 282.5v6.3M440.5 285.9h6.3M443.6 282.7v6.3M440.5 285.8h6.3M443.7 282.7v6.3M440.6 285.7h6.3M443.8 282.5v6.3M440.7 285.7h6.3M443.8 282.5v6.3M440.8 285.9h6.3M443.9 282.7v6.3M440.8 285.8h6.3M444 282.7v6.3M440.9 286.2h6.3M444.1 283.1v6.3M441 286h6.3M444.1 282.9v6.3M441.1 285.8h6.3M444.2 282.7v6.3M441.1 285.9h6.3M444.3 282.7v6.3M441.2 285.8h6.3M444.4 282.6v6.3M441.3 285.8h6.3M444.4 282.7v6.3M441.4 285.9h6.3M444.5 282.7v6.3M441.4 285.9h6.3M444.6 282.8v6.3M441.5 285.8h6.3M444.7 282.7v6.3M441.6 286h6.3M444.7 282.9v6.3M441.7 286h6.3M444.8 282.9v6.3M441.7 286.2h6.3M444.9 283v6.3M441.8 285.8h6.3M444.9 282.6v6.3M441.9 286h6.3M445 282.9v6.3M441.9 285.9h6.3M445.1 282.7v6.3M442 285.7h6.3M445.2 282.6v6.3M442.1 285.9h6.3M445.2 282.7v6.3M442.2 285.7h6.3M445.3 282.6v6.3M442.2 285.9h6.3M445.4 282.8v6.3M442.3 286.3h6.3M445.5 283.1v6.3M442.4 286.1h6.3M445.5 282.9v6.3M442.5 286.2h6.3M445.6 283v6.3M442.5 286.1h6.3M445.7 282.9v6.3M442.6 285.7h6.3M445.8 282.6v6.3M442.7 286h6.3M445.8 282.8v6.3M442.7 286h6.3M445.9 282.8v6.3M442.8 286h6.3M446 282.8v6.3M442.9 285.8h6.3M446 282.7v6.3M443 285.7h6.3M446.1 282.5v6.3M443 286.2h6.3M446.2 283v6.3M443.1 286.1h6.3M446.3 282.9v6.3M443.2 286h6.3M446.3 282.8v6.3M443.3 285.9h6.3M446.4 282.7v6.3M443.3 286h6.3M446.5 282.8v6.3M443.4 285.8h6.3M446.5 282.6v6.3M443.5 286.1h6.3M446.6 282.9v6.3M443.5 286h6.3M446.7 282.8v6.3M443.6 285.9h6.3M446.8 282.8v6.3M443.7 285.9h6.3M446.8 282.7v6.3M443.8 285.9h6.3M446.9 282.8v6.3M443.8 286h6.3M447 282.8v6.3M443.9 285.9h6.3M447 282.7v6.3M444 286.1h6.3M447.1 282.9v6.3M444 286h6.3M447.2 282.8v6.3M444.1 285.9h6.3M447.3 282.8v6.3M444.2 285.8h6.3M447.3 282.7v6.3M444.2 286.1h6.3M447.4 282.9v6.3M444.3 286.1h6.3M447.5 283v6.3M444.4 286h6.3M447.5 282.9v6.3M444.5 285.7h6.3M447.6 282.6v6.3M444.5 285.9h6.3M447.7 282.8v6.3M444.6 286.1h6.3M447.7 282.9v6.3M444.7 286h6.3M447.8 282.8v6.3M444.7 286.1h6.3M447.9 283v6.3M444.8 285.9h6.3M448 282.7v6.3M444.9 286h6.3M448 282.9v6.3M444.9 286h6.3M448.1 282.9v6.3M445 285.7h6.3M448.2 282.5v6.3M445.1 285.9h6.3M448.2 282.8v6.3M445.2 285.9h6.3M448.3 282.8v6.3M445.2 285.9h6.3M448.4 282.7v6.3M445.3 285.8h6.3M448.4 282.7v6.3M445.4 286.1h6.3M448.5 283v6.3M445.4 285.9h6.3M448.6 282.8v6.3M445.5 286h6.3M448.7 282.9v6.3M445.6 285.8h6.3M448.7 282.6v6.3M445.6 285.7h6.3M448.8 282.6v6.3M445.7 285.9h6.3M448.9 282.7v6.3M445.8 286h6.3M448.9 282.9v6.3M445.8 285.9h6.3M449 282.7v6.3M445.9 286h6.3M449.1 282.9v6.3M446 286.1h6.3M449.1 282.9v6.3M446 285.9h6.3M449.2 282.8v6.3M446.1 285.9h6.3M449.3 282.8v6.3M446.2 285.9h6.3M449.3 282.7v6.3M446.3 286.1h6.3M449.4 282.9v6.3M446.3 286.2h6.3M449.5 283v6.3M446.4 286h6.3M449.5 282.9v6.3M446.5 285.9h6.3M449.6 282.7v6.3M446.5 285.9h6.3M449.7 282.7v6.3M446.6 285.9h6.3M449.7 282.8v6.3M446.7 286.1h6.3M449.8 282.9v6.3M446.7 285.9h6.3M449.9 282.7v6.3M446.8 286.1h6.3M449.9 283v6.3M446.9 285.8h6.3M450 282.7v6.3M446.9 286h6.3M450.1 282.8v6.3M447 286.1h6.3M450.1 283v6.3M447.1 286.2h6.3M450.2 283v6.3M447.1 285.9h6.3M450.3 282.8v6.3M447.2 286.1h6.3M450.3 282.9v6.3M447.3 286.3h6.3M450.4 283.1v6.3M447.3 286.1h6.3M450.5 283v6.3M447.4 285.7h6.3M450.5 282.6v6.3M447.5 286h6.3M450.6 282.8v6.3M447.5 286.2h6.3M450.7 283.1v6.3M447.6 285.8h6.3M450.7 282.7v6.3M447.7 286.1h6.3M450.8 282.9v6.3M447.7 285.7h6.3M450.9 282.6v6.3M447.8 286.2h6.3M450.9 283v6.3M447.9 285.9h6.3M451 282.7v6.3M447.9 286.1h6.3M451.1 282.9v6.3M448 286.1h6.3M451.1 282.9v6.3M448.1 285.6h6.3M451.2 282.5v6.3M448.1 285.8h6.3M451.3 282.7v6.3M448.2 286h6.3M451.3 282.9v6.3M448.3 285.8h6.3M451.4 282.6v6.3M448.3 286h6.3M451.5 282.8v6.3M448.4 285.9h6.3M451.5 282.7v6.3M448.5 286.1h6.3M451.6 283v6.3M448.5 285.9h6.3M451.7 282.8v6.3M448.6 285.9h6.3M451.7 282.7v6.3M448.6 286h6.3M451.8 282.9v6.3M448.7 286.1h6.3M451.9 283v6.3M448.8 286h6.3M451.9 282.8v6.3M448.8 286h6.3M452 282.9v6.3M448.9 286h6.3M452.1 282.9v6.3M449 285.9h6.3M452.1 282.8v6.3M449 285.8h6.3M452.2 282.7v6.3M449.1 286h6.3M452.3 282.9v6.3M449.2 285.9h6.3M452.3 282.8v6.3M449.2 285.8h6.3M452.4 282.7v6.3M449.3 286.1h6.3M452.4 282.9v6.3M449.4 286h6.3M452.5 282.9v6.3M449.4 286h6.3M452.6 282.8v6.3M449.5 285.9h6.3M452.6 282.7v6.3M449.6 285.9h6.3M452.7 282.8v6.3M449.6 286h6.3M452.8 282.9v6.3M449.7 286h6.3M452.8 282.9v6.3M449.7 285.9h6.3M452.9 282.7v6.3M449.8 285.9h6.3M453 282.7v6.3M449.9 286h6.3M453 282.9v6.3M449.9 286h6.3M453.1 282.8v6.3M450 286.1h6.3M453.1 282.9v6.3M450.1 285.8h6.3M453.2 282.7v6.3M450.1 286.1h6.3M453.3 282.9v6.3M450.2 286.2h6.3M453.3 283v6.3M450.3 286.1h6.3M453.4 282.9v6.3M450.3 286h6.3M453.5 282.8v6.3M450.4 286.1h6.3M453.5 282.9v6.3M450.4 285.8h6.3M453.6 282.7v6.3M450.5 285.9h6.3M453.7 282.8v6.3M450.6 286.2h6.3M453.7 283.1v6.3M450.6 285.8h6.3M453.8 282.6v6.3M450.7 285.8h6.3M453.8 282.7v6.3M450.8 286.1h6.3M453.9 282.9v6.3M450.8 285.9h6.3M454 282.8v6.3M450.9 285.9h6.3M454 282.8v6.3M450.9 285.9h6.3M454.1 282.7v6.3M451 286.2h6.3M454.2 283v6.3M451.1 285.9h6.3M454.2 282.8v6.3M451.1 286h6.3M454.3 282.8v6.3M451.2 285.8h6.3M454.3 282.6v6.3M451.3 286.1h6.3M454.4 282.9v6.3M451.3 286h6.3M454.5 282.8v6.3M451.4 286h6.3M454.5 282.9v6.3M451.4 286.2h6.3M454.6 283v6.3M451.5 286h6.3M454.7 282.9v6.3M451.6 285.9h6.3M454.7 282.7v6.3M451.6 285.9h6.3M454.8 282.7v6.3M451.7 286h6.3M454.8 282.8v6.3M451.7 286.1h6.3M454.9 283v6.3M451.8 285.9h6.3M455 282.7v6.3M451.9 286h6.3M455 282.8v6.3M451.9 286h6.3M455.1 282.8v6.3M452 286.1h6.3M455.1 282.9v6.3M452.1 285.9h6.3M455.2 282.7v6.3M452.1 286h6.3M455.3 282.9v6.3M452.2 286.1h6.3M455.3 282.9v6.3M452.2 286h6.3M455.4 282.8v6.3M452.3 286h6.3M455.4 282.8v6.3M452.4 286.1h6.3M455.5 282.9v6.3M452.4 286.1h6.3M455.6 282.9v6.3M452.5 286.1h6.3M455.6 283v6.3M452.5 285.9h6.3M455.7 282.7v6.3M452.6 286.1h6.3M455.8 283v6.3M452.7 286h6.3M455.8 282.8v6.3M452.7 285.9h6.3M455.9 282.7v6.3M452.8 285.9h6.3M455.9 282.8v6.3M452.8 285.9h6.3M456 282.7v6.3M452.9 286h6.3M456.1 282.8v6.3M453 286.1h6.3M456.1 283v6.3M453 285.7h6.3M456.2 282.6v6.3M453.1 285.9h6.3M456.2 282.7v6.3M453.1 286.1h6.3M456.3 282.9v6.3M453.2 286h6.3M456.4 282.8v6.3M453.3 286.1h6.3M456.4 282.9v6.3M453.3 285.8h6.3M456.5 282.7v6.3M453.4 286h6.3M456.5 282.8v6.3M453.4 285.7h6.3M456.6 282.6v6.3M453.5 285.9h6.3M456.7 282.7v6.3M453.6 286.1h6.3M456.7 282.9v6.3M453.6 286.1h6.3M456.8 283v6.3M453.7 286.2h6.3M456.8 283v6.3M453.7 286h6.3M456.9 282.8v6.3M453.8 285.9h6.3M457 282.7v6.3M453.9 286h6.3M457 282.8v6.3M453.9 285.8h6.3M457.1 282.6v6.3M454 286.1h6.3M457.1 283v6.3M454 286.1h6.3M457.2 283v6.3M454.1 285.9h6.3M457.2 282.7v6.3M454.2 286.2h6.3M457.3 283v6.3M454.2 285.8h6.3M457.4 282.7v6.3M454.3 286.1h6.3M457.4 282.9v6.3M454.3 285.9h6.3M457.5 282.8v6.3M454.4 285.8h6.3M457.5 282.7v6.3M454.5 286h6.3M457.6 282.9v6.3M454.5 285.9h6.3M457.7 282.7v6.3M454.6 286.1h6.3M457.7 283v6.3M454.6 285.9h6.3M457.8 282.7v6.3M454.7 286h6.3M457.8 282.9v6.3M454.7 285.9h6.3M457.9 282.8v6.3M454.8 286h6.3M458 282.9v6.3M454.9 285.9h6.3M458 282.8v6.3M454.9 286.1h6.3M458.1 282.9v6.3M455 286.1h6.3M458.1 282.9v6.3M455 286h6.3M458.2 282.9v6.3M455.1 286h6.3M458.2 282.8v6.3M455.2 286.2h6.3M458.3 283.1v6.3M455.2 285.9h6.3M458.4 282.8v6.3M455.3 285.9h6.3M458.4 282.8v6.3M455.3 286.1h6.3M458.5 282.9v6.3M455.4 286h6.3M458.5 282.8v6.3M455.4 285.8h6.3M458.6 282.7v6.3M455.5 286h6.3M458.6 282.8v6.3M455.6 286h6.3M458.7 282.8v6.3M455.6 285.9h6.3M458.8 282.7v6.3M455.7 286h6.3M458.8 282.9v6.3M455.7 285.9h6.3M458.9 282.7v6.3M455.8 286h6.3M458.9 282.8v6.3M455.8 285.9h6.3M459 282.7v6.3M455.9 286.2h6.3M459 283v6.3M456 286h6.3M459.1 282.8v6.3M456 286h6.3M459.2 282.9v6.3M456.1 286h6.3M459.2 282.9v6.3M456.1 286.1h6.3M459.3 282.9v6.3M456.2 286h6.3M459.3 282.8v6.3M456.2 286.1h6.3M459.4 282.9v6.3M456.3 286h6.3M459.4 282.9v6.3M456.4 285.7h6.3M459.5 282.6v6.3M456.4 286h6.3M459.6 282.9v6.3M456.5 285.9h6.3M459.6 282.7v6.3M456.5 286.1h6.3M459.7 282.9v6.3M456.6 286h6.3M459.7 282.9v6.3M456.6 286h6.3M459.8 282.8v6.3M456.7 285.7h6.3M459.8 282.6v6.3M456.7 285.8h6.3M459.9 282.6v6.3M456.8 285.9h6.3M460 282.7v6.3M456.9 286h6.3M460 282.8v6.3M456.9 285.9h6.3M460.1 282.7v6.3M457 286.2h6.3M460.1 283.1v6.3M457 286h6.3M460.2 282.9v6.3M457.1 286h6.3M460.2 282.8v6.3M457.1 285.9h6.3M460.3 282.7v6.3M457.2 286h6.3M460.3 282.8v6.3M457.3 286h6.3M460.4 282.8v6.3M457.3 286h6.3M460.5 282.8v6.3" stroke="#0072b2" stroke-width="0.9" fill="none"/>
<path d="M75.6 121.8 L114.2 124.4 L136.8 126.4 L152.8 127.4 L165.3 127.9 L175.4 128.4 L184 130 L191.5 130.6 L198 130.6 L203.9 130.8 L209.2 130.6 L214 130.6 L218.5 131.2 L222.6 131.2 L226.5 130.6 L230.1 129.8 L233.5 130.6 L236.6 131.2 L239.6 131.2 L242.5 130.8 L245.2 131.2 L247.8 131.7 L250.3 131.9 L252.7 132.7 L254.9 134.2 L257.1 135.6 L259.2 137.6 L261.3 140.5 L263.2 143.5 L265.1 147.8 L266.9 153 L268.7 159 L270.4 164.4 L272.1 170.1 L273.7 173.4 L275.3 182.7 L276.8 188 L278.3 192 L279.7 196.5 L281.1 199.5 L282.5 202.4 L283.8 204.7 L285.2 206.2 L286.4 207.4 L287.7 210.3 L288.9 208.7 L290.1 210.4 L291.3 211 L292.4 212.5 L293.6 211.5 L294.7 213.2 L295.7 213.8 L296.8 214.3 L297.8 215.3 L298.9 216.4 L299.9 217.3 L300.9 217.6 L301.8 219.4 L302.8 219.3 L303.7 218 L304.6 222 L305.5 221.5 L306.4 221.9 L307.3 223.3 L308.2 223.9 L309 224.3 L309.9 224.3 L310.7 225.6 L311.5 225 L312.3 227.6 L313.1 226.4 L313.9 227.7 L314.6 228.3 L315.4 229 L316.1 229.2 L316.9 230.2 L317.6 228.2 L318.3 230.8 L319 231.3 L319.7 231.6 L320.4 233.3 L321.1 232.2 L321.8 233.2 L322.5 232.5 L323.1 234.3 L323.8 233.7 L324.4 234.2 L325.1 236.9 L325.7 236.3 L326.3 236.4 L326.9 236.9 L327.5 236.4 L328.1 237 L328.7 238.2 L329.3 237.2 L329.9 238.9 L330.5 238.2 L331 239.6 L331.6 239.3 L332.2 241.2 L332.7 241.2 L333.3 240.7 L333.8 240.4 L334.4 241.3 L334.9 242 L335.4 241.9 L335.9 242.9 L336.5 243.6 L337 243.4 L337.5 243.5 L338 244.5 L338.5 244.3 L339 245.1 L339.5 244.9 L340 246.1 L340.4 245.5 L340.9 245.4 L341.4 246.3 L341.9 246.2 L342.3 246.4 L342.8 247.1 L343.3 247.8 L343.7 246.7 L344.2 247.9 L344.6 248.2 L345 248.5 L345.5 249.2 L345.9 248.5 L346.4 249.6 L346.8 249.5 L347.2 249.9 L347.6 250 L348.1 250.2 L348.5 250.4 L348.9 251 L349.3 252 L349.7 251.8 L350.1 252 L350.5 252.1 L350.9 251.9 L351.3 252.6 L351.7 253.4 L352.1 252.3 L352.5 253.4 L352.9 253.7 L353.3 253.6 L353.6 254 L354 254.5 L354.4 255 L354.8 254.9 L355.1 255.2 L355.5 254.9 L355.9 255.3 L356.2 255.3 L356.6 255.5 L356.9 255.4 L357.3 256.1 L357.7 256.6 L358 256.2 L358.4 256.5 L358.7 256.9 L359.1 256.8 L359.4 257.4 L359.7 257.3 L360.1 257 L360.4 257.2 L360.7 258 L361.1 258.2 L361.4 258.5 L361.7 258.4 L362.1 258.6 L362.4 258.1 L362.7 259.4 L363 258.7 L363.4 259.6 L363.7 259 L364 259.3 L364.3 259.8 L364.6 259.7 L364.9 259.8 L365.2 260.5 L365.5 260.6 L365.8 260.7 L366.1 260.6 L366.4 260.6 L366.7 260.9 L367 261 L367.3 261.3 L367.6 261.8 L367.9 261.6 L368.2 261.5 L368.5 261.8 L368.8 262.5 L369.1 262.3 L369.4 262.5 L369.7 262.7 L369.9 262.9 L370.2 262.9 L370.5 263.4 L370.8 263.4 L371.1 262.4 L371.3 263.4 L371.6 264.5 L371.9 263.3 L372.2 263.9 L372.4 264.3 L372.7 264.1 L373 264.7 L373.2 264 L373.5 264.1 L373.8 264.6 L374 264.6 L374.3 264.6 L374.6 265.2 L374.8 265.3 L375.1 265.3 L375.3 265.3 L375.6 265.6 L375.8 265.6 L376.1 265.6 L376.4 266.1 L376.6 266.2 L376.9 266.2 L377.1 266.5 L377.4 266.1 L377.6 266.5 L377.8 266.5 L378.1 267.2 L378.3 267 L378.6 267.6 L378.8 267.6 L379.1 267.1 L379.3 267 L379.5 267.6 L379.8 267.5 L380 267.6 L380.2 267.5 L380.5 268.1 L380.7 268.1 L380.9 268.2 L381.2 268.3 L381.4 268.1 L381.6 267.8 L381.9 268.5 L382.1 268.5 L382.3 268.6 L382.6 269.1 L382.8 268.9 L383 269.5 L383.2 269.2 L383.4 269.5 L383.7 269.5 L383.9 269.7 L384.1 269.2 L384.3 270 L384.5 269.8 L384.8 269.6 L385 270.1 L385.2 270.1 L385.4 270.5 L385.6 270.4 L385.8 270.4 L386 270 L386.3 271 L386.5 271 L386.7 270.9 L386.9 270.9 L387.1 271.2 L387.3 270.8 L387.5 271.3 L387.7 271.2 L387.9 271 L388.1 271.4 L388.3 271.5 L388.5 271.9 L388.7 271.8 L388.9 271.3 L389.1 271.3 L389.3 271.8 L389.5 271.9 L389.7 271.8 L389.9 271.7 L390.1 272.1 L390.3 272 L390.5 272.2 L390.7 272.6 L390.9 272.6 L391.1 272.4 L391.3 272.4 L391.5 272.7 L391.7 273.3 L391.9 272.8 L392.1 273.4 L392.3 272.9 L392.4 273.1 L392.6 273.4 L392.8 273.1 L393 273.4 L393.2 273.1 L393.4 273.7 L393.6 273.9 L393.8 273.5 L393.9 273.8 L394.1 273.7 L394.3 273.4 L394.5 274.6 L394.7 274.2 L394.8 274.3 L395 274.3 L395.2 274.3 L395.4 274.9 L395.6 274 L395.7 274.4 L395.9 274.5 L396.1 274.6 L396.3 274.9 L396.5 274.6 L396.6 274.5 L396.8 274.6 L397 275.1 L397.2 275.3 L397.3 275.3 L397.5 275.5 L397.7 275.1 L397.8 275.5 L398 275.5 L398.2 275.4 L398.4 275.3 L398.5 275.8 L398.7 275.5 L398.9 275.6 L399 275.5 L399.2 276.2 L399.4 275.8 L399.5 275.8 L399.7 275.9 L399.9 276 L400 276.1 L400.2 275.8 L400.4 275.9 L400.5 276.4 L400.7 276.6 L400.8 276.2 L401 276.5 L401.2 276.4 L401.3 276 L401.5 276.5 L401.7 276.4 L401.8 276.9 L402 276.7 L402.1 276.8 L402.3 276.5 L402.4 276.9 L402.6 276.5 L402.8 277.1 L402.9 277.4 L403.1 276.9 L403.2 277.3 L403.4 277.5 L403.5 277.2 L403.7 277.5 L403.8 277.4 L404 277.3 L404.2 277 L404.3 277.3 L404.5 277.2 L404.6 278.1 L404.8 277.7 L404.9 277.7 L405.1 277.5 L405.2 278.1 L405.4 277.6 L405.5 278.2 L405.7 278.1 L405.8 278 L406 277.9 L406.1 278 L406.3 277.8 L406.4 278.3 L406.6 278.5 L406.7 278.4 L406.8 278.5 L407 278.2 L407.1 278.4 L407.3 278.2 L407.4 278.4 L407.6 278.6 L407.7 279 L407.9 278.6 L408 278.6 L408.1 278.3 L408.3 278.7 L408.4 278.6 L408.6 278.5 L408.7 278.5 L408.8 278.9 L409 278.8 L409.1 279.1 L409.3 278.9 L409.4 279 L409.5 279.3 L409.7 279.3 L409.8 279.3 L410 279.5 L410.1 279.3 L410.2 279.1 L410.4 279.1 L410.5 279 L410.6 279.4 L410.8 279.3 L410.9 279.5 L411.1 279.6 L411.2 279.3 L411.3 279.6 L411.5 279.8 L411.6 279.6 L411.7 279.8 L411.9 279.7 L412 279.5 L412.1 279.7 L412.3 279.4 L412.4 280 L412.5 279.8 L412.7 280.2 L412.8 279.7 L412.9 280 L413 280.1 L413.2 280 L413.3 280.1 L413.4 280 L413.6 279.9 L413.7 279.9 L413.8 280.1 L414 280.1 L414.1 280.3 L414.2 280.2 L414.3 280.2 L414.5 280.2 L414.6 280.1 L414.7 280.4 L414.8 280.6 L415 280.3 L415.1 280.5 L415.2 280.7 L415.3 280.5 L415.5 280.7 L415.6 280.6 L415.7 281.2 L415.8 281 L416 281 L416.1 280.7 L416.2 280.9 L416.3 280.8 L416.5 280.9 L416.6 280.8 L416.7 281 L416.8 280.8 L417 281.1 L417.1 281.3 L417.2 280.8 L417.3 280.8 L417.4 281.2 L417.6 281.3 L417.7 281.1 L417.8 281.3 L417.9 281.3 L418 281.4 L418.2 281.5 L418.3 281.2 L418.4 281.5 L418.5 281.4 L418.6 281.3 L418.7 281.5 L418.9 281.2 L419 281.2 L419.1 281.7 L419.2 281.3 L419.3 281.9 L419.5 281.8 L419.6 281.5 L419.7 281.5 L419.8 281.3 L419.9 281.7 L420 281.4 L420.1 282 L420.3 281.5 L420.4 281.8 L420.5 281.3 L420.6 281.8 L420.7 282.1 L420.8 281.8 L420.9 281.8 L421.1 281.9 L421.2 282 L421.3 282.1 L421.4 282 L421.5 281.7 L421.6 282.1 L421.7 282.3 L421.8 282.5 L422 282.2 L422.1 282.2 L422.2 282.1 L422.3 282.3 L422.4 282.5 L422.5 282.1 L422.6 282.3 L422.7 282.1 L422.8 282.2 L422.9 282.3 L423.1 282.5 L423.2 282.3 L423.3 282.4 L423.4 282.7 L423.5 282.6 L423.6 282.6 L423.7 282.6 L423.8 282.5 L423.9 282.6 L424 282.7 L424.1 282.6 L424.2 282.8 L424.3 282.7 L424.5 282.8 L424.6 282.7 L424.7 282.8 L424.8 282.6 L424.9 282.7 L425 282.6 L425.1 283 L425.2 282.9 L425.3 282.9 L425.4 283 L425.5 282.8 L425.6 282.9 L425.7 282.8 L425.8 282.6 L425.9 282.9 L426 282.9 L426.1 283.2 L426.2 282.9 L426.3 283 L426.4 283.2 L426.5 283.1 L426.6 282.9 L426.7 283.2 L426.8 283 L426.9 283.4 L427.1 283 L427.2 283.1 L427.3 282.8 L427.4 283.1 L427.5 283.6 L427.6 283.3 L427.7 283.1 L427.8 283.4 L427.9 283.3 L428 283.3 L428.1 283.8 L428.2 283.7 L428.3 283.6 L428.4 283.7 L428.5 283.3 L428.6 283.1 L428.7 283.6 L428.7 283.5 L428.8 283.5 L428.9 283.5 L429 283.6 L429.1 283.6 L429.2 283.6 L429.3 283.6 L429.4 283.5 L429.5 283.5 L429.6 283.8 L429.7 283.6 L429.8 283.9 L429.9 283.7 L430 283.6 L430.1 283.8 L430.2 283.6 L430.3 283.6 L430.4 283.6 L430.5 283.7 L430.6 283.8 L430.7 284 L430.8 283.8 L430.9 283.6 L431 283.6 L431.1 283.5 L431.2 283.9 L431.3 283.9 L431.3 283.8 L431.4 283.8 L431.5 283.9 L431.6 283.9 L431.7 283.9 L431.8 283.9 L431.9 283.7 L432 284 L432.1 284.1 L432.2 283.6 L432.3 283.8 L432.4 283.7 L432.5 284 L432.6 283.9 L432.6 284.1 L432.7 284.1 L432.8 283.9 L432.9 283.9 L433 283.9 L433.1 284 L433.2 283.8 L433.3 284 L433.4 283.8 L433.5 284.1 L433.6 284.1 L433.6 283.8 L433.7 283.9 L433.8 284 L433.9 284.1 L434 283.6 L434.1 284.1 L434.2 284.3 L434.3 284 L434.4 283.9 L434.5 284.2 L434.5 284.1 L434.6 284.1 L434.7 284.2 L434.8 283.9 L434.9 284 L435 283.9 L435.1 283.9 L435.2 284.1 L435.2 284 L435.3 284.4 L435.4 284.2 L435.5 284.3 L435.6 283.9 L435.7 284.1 L435.8 284.1 L435.9 284.2 L435.9 284.2 L436 284.1 L436.1 284.1 L436.2 284.3 L436.3 284.5 L436.4 284.5 L436.5 284.2 L436.5 284.1 L436.6 284.3 L436.7 284.3 L436.8 284.5 L436.9 284.2 L437 284.2 L437.1 284.4 L437.1 284.2 L437.2 284.2 L437.3 284.4 L437.4 284.3 L437.5 284.2 L437.6 284.3 L437.6 284.3 L437.7 284.3 L437.8 284.2 L437.9 284.4 L438 284.3 L438.1 284.3 L438.1 284.5 L438.2 284.2 L438.3 284.5 L438.4 284.5 L438.5 284.3 L438.6 284.4 L438.6 284.2 L438.7 284.4 L438.8 284.3 L438.9 284.3 L439 284.5 L439.1 284.3 L439.1 284.4 L439.2 284.5 L439.3 284.6 L439.4 284.5 L439.5 284.6 L439.5 284.4 L439.6 284.4 L439.7 284.6 L439.8 284.6 L439.9 284.6 L439.9 284.4 L440 284.4 L440.1 284.4 L440.2 284.7 L440.3 284.4 L440.3 284.5 L440.4 284.6 L440.5 284.6 L440.6 284.5 L440.7 284.8 L440.7 284.6 L440.8 284.6 L440.9 284.7 L441 284.5 L441.1 284.7 L441.1 284.6 L441.2 284.5 L441.3 284.5 L441.4 284.7 L441.5 284.6 L441.5 284.6 L441.6 284.6 L441.7 284.6 L441.8 284.8 L441.8 284.8 L441.9 284.6 L442 284.7 L442.1 284.4 L442.2 284.5 L442.2 284.6 L442.3 284.6 L442.4 284.8 L442.5 284.4 L442.5 284.8 L442.6 284.8 L442.7 285 L442.8 284.7 L442.8 284.8 L442.9 284.9 L443 284.9 L443.1 284.6 L443.2 284.7 L443.2 284.6 L443.3 284.8 L443.4 284.9 L443.5 285 L443.5 284.9 L443.6 284.9 L443.7 284.9 L443.8 284.7 L443.8 284.9 L443.9 285 L444 284.8 L444.1 284.7 L444.1 284.9 L444.2 284.9 L444.3 284.9 L444.4 284.6 L444.4 284.8 L444.5 285.1 L444.6 285 L444.7 284.9 L444.7 284.9 L444.8 284.9 L444.9 284.8 L444.9 284.9 L445 284.9 L445.1 284.8 L445.2 284.9 L445.2 285 L445.3 284.8 L445.4 284.9 L445.5 284.8 L445.5 285 L445.6 285 L445.7 284.9 L445.8 285 L445.8 285 L445.9 285.1 L446 284.8 L446 285 L446.1 284.8 L446.2 284.8 L446.3 285.1 L446.3 285.1 L446.4 285.2 L446.5 285.1 L446.5 285 L446.6 285.1 L446.7 285 L446.8 285.2 L446.8 284.8 L446.9 285.1 L447 285 L447 285.2 L447.1 285.2 L447.2 285 L447.3 285.3 L447.3 285.2 L447.4 284.9 L447.5 285.3 L447.5 285 L447.6 285 L447.7 285.2 L447.7 285 L447.8 285.2 L447.9 285.1 L448 285 L448 285.3 L448.1 285.3 L448.2 285.2 L448.2 285.4 L448.3 285.2 L448.4 285.2 L448.4 285.1 L448.5 285 L448.6 285.2 L448.7 285.1 L448.7 285.3 L448.8 285.2 L448.9 285.1 L448.9 285.4 L449 285.3 L449.1 285.5 L449.1 285.2 L449.2 285.2 L449.3 285.2 L449.3 285.3 L449.4 285.2 L449.5 285.3 L449.5 285.5 L449.6 285.4 L449.7 285.2 L449.7 285.3 L449.8 285.3 L449.9 285.3 L449.9 285.3 L450 285.3 L450.1 285.4 L450.1 285.4 L450.2 285.3 L450.3 285.2 L450.3 285.3 L450.4 285.3 L450.5 285.3 L450.5 285.2 L450.6 285.3 L450.7 285.1 L450.7 285.5 L450.8 285.4 L450.9 285.5 L450.9 285.3 L451 285.4 L451.1 285.5 L451.1 285.4 L451.2 285.3 L451.3 285.4 L451.3 285.1 L451.4 285.5 L451.5 285.5 L451.5 285.2 L451.6 285.5 L451.7 285.6 L451.7 285.5 L451.8 285.5 L451.9 285.6 L451.9 285.5 L452 285.6 L452.1 285.4 L452.1 285.4 L452.2 285.4 L452.3 285.3 L452.3 285.5 L452.4 285.4 L452.4 285.5 L452.5 285.5 L452.6 285.7 L452.6 285.7 L452.7 285.4 L452.8 285.5 L452.8 285.5 L452.9 285.4 L453 285.7 L453 285.7 L453.1 285.5 L453.1 285.4 L453.2 285.5 L453.3 285.5 L453.3 285.7 L453.4 285.4 L453.5 285.7 L453.5 285.4 L453.6 285.6 L453.7 285.4 L453.7 285.5 L453.8 285.3 L453.8 285.6 L453.9 285.6 L454 285.5 L454 285.3 L454.1 285.6 L454.2 285.6 L454.2 285.4 L454.3 285.7 L454.3 285.6 L454.4 285.5 L454.5 285.5 L454.5 285.3 L454.6 285.7 L454.7 285.7 L454.7 285.6 L454.8 285.5 L454.8 285.5 L454.9 285.6 L455 285.5 L455 285.7 L455.1 285.6 L455.1 285.8 L455.2 285.8 L455.3 285.6 L455.3 285.6 L455.4 285.3 L455.4 285.7 L455.5 285.7 L455.6 285.6 L455.6 285.8 L455.7 285.6 L455.8 285.6 L455.8 285.8 L455.9 285.8 L455.9 285.5 L456 285.6 L456.1 285.6 L456.1 285.7 L456.2 285.7 L456.2 285.7 L456.3 285.8 L456.4 285.8 L456.4 285.7 L456.5 285.6 L456.5 285.6 L456.6 285.8 L456.7 285.9 L456.7 285.7 L456.8 285.8 L456.8 285.7 L456.9 285.7 L457 285.9 L457 285.7 L457.1 285.8 L457.1 285.8 L457.2 285.9 L457.2 285.8 L457.3 285.8 L457.4 285.8 L457.4 285.7 L457.5 285.9 L457.5 286 L457.6 285.6 L457.7 285.9 L457.7 285.7 L457.8 285.8 L457.8 285.8 L457.9 285.8 L458 285.8 L458 285.8 L458.1 286 L458.1 285.7 L458.2 285.8 L458.2 285.8 L458.3 285.9 L458.4 285.7 L458.4 285.9 L458.5 285.9 L458.5 286.1 L458.6 286 L458.6 285.9 L458.7 285.9 L458.8 286.1 L458.8 285.9 L458.9 285.8 L458.9 285.8 L459 285.9 L459 286 L459.1 285.8 L459.2 285.9 L459.2 285.9 L459.3 285.8 L459.3 286 L459.4 285.9 L459.4 286 L459.5 286 L459.6 286.1 L459.6 286.1 L459.7 285.9 L459.7 285.8 L459.8 285.8 L459.8 286 L459.9 286 L460 286 L460 286 L460.1 286.1 L460.1 286.1 L460.2 286 L460.2 286 L460.3 285.8 L460.3 286.1 L460.4 286.2 L460.5 286" stroke="#e51e10" stroke-width="0.75" fill="none" stroke-linejoin="round"/>
<path d="M72.4 121.8h6.3M75.6 118.6v6.3M111.1 124.4h6.3M114.2 121.2v6.3M133.7 126.4h6.3M136.8 123.2v6.3M149.7 127.4h6.3M152.8 124.2v6.3M162.1 127.9h6.3M165.3 124.8v6.3M172.3 128.4h6.3M175.4 125.2v6.3M180.9 130h6.3M184 126.8v6.3M188.3 130.6h6.3M191.5 127.4v6.3M194.9 130.6h6.3M198 127.4v6.3M200.7 130.8h6.3M203.9 127.7v6.3M206 130.6h6.3M209.2 127.4v6.3M210.9 130.6h6.3M214 127.4v6.3M215.4 131.2h6.3M218.5 128.1v6.3M219.5 131.2h6.3M222.6 128.1v6.3M223.3 130.6h6.3M226.5 127.4v6.3M226.9 129.8h6.3M230.1 126.7v6.3M230.3 130.6h6.3M233.5 127.4v6.3M233.5 131.2h6.3M236.6 128.1v6.3M236.5 131.2h6.3M239.6 128.1v6.3M239.4 130.8h6.3M242.5 127.7v6.3M242.1 131.2h6.3M245.2 128.1v6.3M244.7 131.7h6.3M247.8 128.5v6.3M247.1 131.9h6.3M250.3 128.8v6.3M249.5 132.7h6.3M252.7 129.5v6.3M251.8 134.2h6.3M254.9 131v6.3M254 135.6h6.3M257.1 132.4v6.3M256.1 137.6h6.3M259.2 134.4v6.3M258.1 140.5h6.3M261.3 137.3v6.3M260.1 143.5h6.3M263.2 140.3v6.3M261.9 147.8h6.3M265.1 144.7v6.3M263.8 153h6.3M266.9 149.8v6.3M265.5 159h6.3M268.7 155.8v6.3M267.3 164.4h6.3M270.4 161.2v6.3M268.9 170.1h6.3M272.1 166.9v6.3M270.5 173.4h6.3M273.7 170.2v6.3M272.1 182.7h6.3M275.3 179.5v6.3M273.6 188h6.3M276.8 184.8v6.3M275.1 192h6.3M278.3 188.8v6.3M276.6 196.5h6.3M279.7 193.3v6.3M278 199.5h6.3M281.1 196.3v6.3M279.3 202.4h6.3M282.5 199.2v6.3M280.7 204.7h6.3M283.8 201.5v6.3M282 206.2h6.3M285.2 203v6.3M283.3 207.4h6.3M286.4 204.2v6.3M284.5 210.3h6.3M287.7 207.2v6.3M285.8 208.7h6.3M288.9 205.5v6.3M287 210.4h6.3M290.1 207.2v6.3M288.1 211h6.3M291.3 207.9v6.3M289.3 212.5h6.3M292.4 209.3v6.3M290.4 211.5h6.3M293.6 208.3v6.3M291.5 213.2h6.3M294.7 210v6.3M292.6 213.8h6.3M295.7 210.6v6.3M293.7 214.3h6.3M296.8 211.2v6.3M294.7 215.3h6.3M297.8 212.2v6.3M295.7 216.4h6.3M298.9 213.2v6.3M296.7 217.3h6.3M299.9 214.2v6.3M297.7 217.6h6.3M300.9 214.5v6.3M298.7 219.4h6.3M301.8 216.2v6.3M299.6 219.3h6.3M302.8 216.2v6.3M300.6 218h6.3M303.7 214.9v6.3M301.5 222h6.3M304.6 218.8v6.3M302.4 221.5h6.3M305.5 218.3v6.3M303.3 221.9h6.3M306.4 218.7v6.3M304.2 223.3h6.3M307.3 220.1v6.3M305 223.9h6.3M308.2 220.7v6.3M305.9 224.3h6.3M309 221.2v6.3M306.7 224.3h6.3M309.9 221.2v6.3M307.5 225.6h6.3M310.7 222.5v6.3M308.3 225h6.3M311.5 221.9v6.3M309.2 227.6h6.3M312.3 224.5v6.3M309.9 226.4h6.3M313.1 223.2v6.3M310.7 227.7h6.3M313.9 224.5v6.3M311.5 228.3h6.3M314.6 225.2v6.3M312.2 229h6.3M315.4 225.9v6.3M313 229.2h6.3M316.1 226.1v6.3M313.7 230.2h6.3M316.9 227.1v6.3M314.5 228.2h6.3M317.6 225v6.3M315.2 230.8h6.3M318.3 227.6v6.3M315.9 231.3h6.3M319 228.1v6.3M316.6 231.6h6.3M319.7 228.4v6.3M317.3 233.3h6.3M320.4 230.1v6.3M318 232.2h6.3M321.1 229.1v6.3M318.6 233.2h6.3M321.8 230.1v6.3M319.3 232.5h6.3M322.5 229.4v6.3M320 234.3h6.3M323.1 231.2v6.3M320.6 233.7h6.3M323.8 230.5v6.3M321.3 234.2h6.3M324.4 231v6.3M321.9 236.9h6.3M325.1 233.7v6.3M322.5 236.3h6.3M325.7 233.2v6.3M323.2 236.4h6.3M326.3 233.2v6.3M323.8 236.9h6.3M326.9 233.7v6.3M324.4 236.4h6.3M327.5 233.2v6.3M325 237h6.3M328.1 233.9v6.3M325.6 238.2h6.3M328.7 235.1v6.3M326.2 237.2h6.3M329.3 234.1v6.3M326.7 238.9h6.3M329.9 235.8v6.3M327.3 238.2h6.3M330.5 235.1v6.3M327.9 239.6h6.3M331 236.5v6.3M328.5 239.3h6.3M331.6 236.2v6.3M329 241.2h6.3M332.2 238.1v6.3M329.6 241.2h6.3M332.7 238v6.3M330.1 240.7h6.3M333.3 237.6v6.3M330.7 240.4h6.3M333.8 237.2v6.3M331.2 241.3h6.3M334.4 238.2v6.3M331.7 242h6.3M334.9 238.9v6.3M332.3 241.9h6.3M335.4 238.8v6.3M332.8 242.9h6.3M335.9 239.8v6.3M333.3 243.6h6.3M336.5 240.4v6.3M333.8 243.4h6.3M337 240.2v6.3M334.3 243.5h6.3M337.5 240.4v6.3M334.8 244.5h6.3M338 241.3v6.3M335.3 244.3h6.3M338.5 241.1v6.3M335.8 245.1h6.3M339 242v6.3M336.3 244.9h6.3M339.5 241.7v6.3M336.8 246.1h6.3M340 243v6.3M337.3 245.5h6.3M340.4 242.4v6.3M337.8 245.4h6.3M340.9 242.3v6.3M338.2 246.3h6.3M341.4 243.1v6.3M338.7 246.2h6.3M341.9 243.1v6.3M339.2 246.4h6.3M342.3 243.2v6.3M339.6 247.1h6.3M342.8 243.9v6.3M340.1 247.8h6.3M343.3 244.6v6.3M340.6 246.7h6.3M343.7 243.5v6.3M341 247.9h6.3M344.2 244.8v6.3M341.5 248.2h6.3M344.6 245v6.3M341.9 248.5h6.3M345 245.3v6.3M342.3 249.2h6.3M345.5 246v6.3M342.8 248.5h6.3M345.9 245.3v6.3M343.2 249.6h6.3M346.4 246.5v6.3M343.6 249.5h6.3M346.8 246.3v6.3M344.1 249.9h6.3M347.2 246.8v6.3M344.5 250h6.3M347.6 246.9v6.3M344.9 250.2h6.3M348.1 247.1v6.3M345.3 250.4h6.3M348.5 247.2v6.3M345.7 251h6.3M348.9 247.9v6.3M346.2 252h6.3M349.3 248.9v6.3M346.6 251.8h6.3M349.7 248.7v6.3M347 252h6.3M350.1 248.8v6.3M347.4 252.1h6.3M350.5 248.9v6.3M347.8 251.9h6.3M350.9 248.7v6.3M348.2 252.6h6.3M351.3 249.4v6.3M348.6 253.4h6.3M351.7 250.3v6.3M349 252.3h6.3M352.1 249.1v6.3M349.3 253.4h6.3M352.5 250.2v6.3M349.7 253.7h6.3M352.9 250.5v6.3M350.1 253.6h6.3M353.3 250.4v6.3M350.5 254h6.3M353.6 250.9v6.3M350.9 254.5h6.3M354 251.3v6.3M351.2 255h6.3M354.4 251.9v6.3M351.6 254.9h6.3M354.8 251.7v6.3M352 255.2h6.3M355.1 252.1v6.3M352.4 254.9h6.3M355.5 251.8v6.3M352.7 255.3h6.3M355.9 252.2v6.3M353.1 255.3h6.3M356.2 252.1v6.3M353.4 255.5h6.3M356.6 252.4v6.3M353.8 255.4h6.3M356.9 252.3v6.3M354.2 256.1h6.3M357.3 252.9v6.3M354.5 256.6h6.3M357.7 253.4v6.3M354.9 256.2h6.3M358 253v6.3M355.2 256.5h6.3M358.4 253.4v6.3M355.6 256.9h6.3M358.7 253.7v6.3M355.9 256.8h6.3M359.1 253.7v6.3M356.2 257.4h6.3M359.4 254.2v6.3M356.6 257.3h6.3M359.7 254.1v6.3M356.9 257h6.3M360.1 253.8v6.3M357.3 257.2h6.3M360.4 254v6.3M357.6 258h6.3M360.7 254.9v6.3M357.9 258.2h6.3M361.1 255v6.3M358.3 258.5h6.3M361.4 255.4v6.3M358.6 258.4h6.3M361.7 255.3v6.3M358.9 258.6h6.3M362.1 255.4v6.3M359.2 258.1h6.3M362.4 255v6.3M359.6 259.4h6.3M362.7 256.2v6.3M359.9 258.7h6.3M363 255.5v6.3M360.2 259.6h6.3M363.4 256.4v6.3M360.5 259h6.3M363.7 255.8v6.3M360.8 259.3h6.3M364 256.2v6.3M361.1 259.8h6.3M364.3 256.6v6.3M361.5 259.7h6.3M364.6 256.6v6.3M361.8 259.8h6.3M364.9 256.7v6.3M362.1 260.5h6.3M365.2 257.4v6.3M362.4 260.6h6.3M365.5 257.5v6.3M362.7 260.7h6.3M365.8 257.5v6.3M363 260.6h6.3M366.1 257.4v6.3M363.3 260.6h6.3M366.4 257.4v6.3M363.6 260.9h6.3M366.7 257.7v6.3M363.9 261h6.3M367 257.9v6.3M364.2 261.3h6.3M367.3 258.2v6.3M364.5 261.8h6.3M367.6 258.6v6.3M364.8 261.6h6.3M367.9 258.5v6.3M365.1 261.5h6.3M368.2 258.4v6.3M365.4 261.8h6.3M368.5 258.6v6.3M365.7 262.5h6.3M368.8 259.4v6.3M365.9 262.3h6.3M369.1 259.2v6.3M366.2 262.5h6.3M369.4 259.3v6.3M366.5 262.7h6.3M369.7 259.5v6.3M366.8 262.9h6.3M369.9 259.8v6.3M367.1 262.9h6.3M370.2 259.7v6.3M367.4 263.4h6.3M370.5 260.2v6.3M367.6 263.4h6.3M370.8 260.3v6.3M367.9 262.4h6.3M371.1 259.2v6.3M368.2 263.4h6.3M371.3 260.2v6.3M368.5 264.5h6.3M371.6 261.4v6.3M368.7 263.3h6.3M371.9 260.1v6.3M369 263.9h6.3M372.2 260.7v6.3M369.3 264.3h6.3M372.4 261.2v6.3M369.6 264.1h6.3M372.7 261v6.3M369.8 264.7h6.3M373 261.5v6.3M370.1 264h6.3M373.2 260.8v6.3M370.4 264.1h6.3M373.5 261v6.3M370.6 264.6h6.3M373.8 261.4v6.3M370.9 264.6h6.3M374 261.4v6.3M371.1 264.6h6.3M374.3 261.4v6.3M371.4 265.2h6.3M374.6 262.1v6.3M371.7 265.3h6.3M374.8 262.1v6.3M371.9 265.3h6.3M375.1 262.2v6.3M372.2 265.3h6.3M375.3 262.2v6.3M372.4 265.6h6.3M375.6 262.5v6.3M372.7 265.6h6.3M375.8 262.5v6.3M373 265.6h6.3M376.1 262.4v6.3M373.2 266.1h6.3M376.4 262.9v6.3M373.5 266.2h6.3M376.6 263v6.3M373.7 266.2h6.3M376.9 263v6.3M374 266.5h6.3M377.1 263.4v6.3M374.2 266.1h6.3M377.4 262.9v6.3M374.5 266.5h6.3M377.6 263.3v6.3M374.7 266.5h6.3M377.8 263.3v6.3M374.9 267.2h6.3M378.1 264v6.3M375.2 267h6.3M378.3 263.9v6.3M375.4 267.6h6.3M378.6 264.5v6.3M375.7 267.6h6.3M378.8 264.4v6.3M375.9 267.1h6.3M379.1 264v6.3M376.2 267h6.3M379.3 263.9v6.3M376.4 267.6h6.3M379.5 264.4v6.3M376.6 267.5h6.3M379.8 264.3v6.3M376.9 267.6h6.3M380 264.5v6.3M377.1 267.5h6.3M380.2 264.3v6.3M377.3 268.1h6.3M380.5 264.9v6.3M377.6 268.1h6.3M380.7 264.9v6.3M377.8 268.2h6.3M380.9 265.1v6.3M378 268.3h6.3M381.2 265.2v6.3M378.3 268.1h6.3M381.4 264.9v6.3M378.5 267.8h6.3M381.6 264.7v6.3M378.7 268.5h6.3M381.9 265.3v6.3M378.9 268.5h6.3M382.1 265.3v6.3M379.2 268.6h6.3M382.3 265.5v6.3M379.4 269.1h6.3M382.6 266v6.3M379.6 268.9h6.3M382.8 265.8v6.3M379.9 269.5h6.3M383 266.3v6.3M380.1 269.2h6.3M383.2 266.1v6.3M380.3 269.5h6.3M383.4 266.3v6.3M380.5 269.5h6.3M383.7 266.4v6.3M380.7 269.7h6.3M383.9 266.5v6.3M381 269.2h6.3M384.1 266.1v6.3M381.2 270h6.3M384.3 266.8v6.3M381.4 269.8h6.3M384.5 266.6v6.3M381.6 269.6h6.3M384.8 266.4v6.3M381.8 270.1h6.3M385 267v6.3M382 270.1h6.3M385.2 267v6.3M382.3 270.5h6.3M385.4 267.3v6.3M382.5 270.4h6.3M385.6 267.3v6.3M382.7 270.4h6.3M385.8 267.3v6.3M382.9 270h6.3M386 266.8v6.3M383.1 271h6.3M386.3 267.8v6.3M383.3 271h6.3M386.5 267.9v6.3M383.5 270.9h6.3M386.7 267.8v6.3M383.7 270.9h6.3M386.9 267.8v6.3M383.9 271.2h6.3M387.1 268.1v6.3M384.2 270.8h6.3M387.3 267.6v6.3M384.4 271.3h6.3M387.5 268.1v6.3M384.6 271.2h6.3M387.7 268v6.3M384.8 271h6.3M387.9 267.8v6.3M385 271.4h6.3M388.1 268.3v6.3M385.2 271.5h6.3M388.3 268.4v6.3M385.4 271.9h6.3M388.5 268.8v6.3M385.6 271.8h6.3M388.7 268.7v6.3M385.8 271.3h6.3M388.9 268.1v6.3M386 271.3h6.3M389.1 268.1v6.3M386.2 271.8h6.3M389.3 268.7v6.3M386.4 271.9h6.3M389.5 268.7v6.3M386.6 271.8h6.3M389.7 268.6v6.3M386.8 271.7h6.3M389.9 268.6v6.3M387 272.1h6.3M390.1 269v6.3M387.2 272h6.3M390.3 268.8v6.3M387.4 272.2h6.3M390.5 269v6.3M387.6 272.6h6.3M390.7 269.5v6.3M387.8 272.6h6.3M390.9 269.4v6.3M388 272.4h6.3M391.1 269.3v6.3M388.2 272.4h6.3M391.3 269.2v6.3M388.3 272.7h6.3M391.5 269.6v6.3M388.5 273.3h6.3M391.7 270.1v6.3M388.7 272.8h6.3M391.9 269.6v6.3M388.9 273.4h6.3M392.1 270.3v6.3M389.1 272.9h6.3M392.3 269.7v6.3M389.3 273.1h6.3M392.4 270v6.3M389.5 273.4h6.3M392.6 270.3v6.3M389.7 273.1h6.3M392.8 270v6.3M389.9 273.4h6.3M393 270.2v6.3M390 273.1h6.3M393.2 270v6.3M390.2 273.7h6.3M393.4 270.6v6.3M390.4 273.9h6.3M393.6 270.7v6.3M390.6 273.5h6.3M393.8 270.4v6.3M390.8 273.8h6.3M393.9 270.7v6.3M391 273.7h6.3M394.1 270.6v6.3M391.2 273.4h6.3M394.3 270.2v6.3M391.3 274.6h6.3M394.5 271.5v6.3M391.5 274.2h6.3M394.7 271.1v6.3M391.7 274.3h6.3M394.8 271.2v6.3M391.9 274.3h6.3M395 271.2v6.3M392.1 274.3h6.3M395.2 271.2v6.3M392.2 274.9h6.3M395.4 271.8v6.3M392.4 274h6.3M395.6 270.8v6.3M392.6 274.4h6.3M395.7 271.3v6.3M392.8 274.5h6.3M395.9 271.3v6.3M392.9 274.6h6.3M396.1 271.4v6.3M393.1 274.9h6.3M396.3 271.7v6.3M393.3 274.6h6.3M396.5 271.5v6.3M393.5 274.5h6.3M396.6 271.4v6.3M393.7 274.6h6.3M396.8 271.5v6.3M393.8 275.1h6.3M397 271.9v6.3M394 275.3h6.3M397.2 272.1v6.3M394.2 275.3h6.3M397.3 272.1v6.3M394.3 275.5h6.3M397.5 272.4v6.3M394.5 275.1h6.3M397.7 272v6.3M394.7 275.5h6.3M397.8 272.4v6.3M394.9 275.5h6.3M398 272.4v6.3M395 275.4h6.3M398.2 272.2v6.3M395.2 275.3h6.3M398.4 272.2v6.3M395.4 275.8h6.3M398.5 272.6v6.3M395.5 275.5h6.3M398.7 272.3v6.3M395.7 275.6h6.3M398.9 272.5v6.3M395.9 275.5h6.3M399 272.4v6.3M396 276.2h6.3M399.2 273v6.3M396.2 275.8h6.3M399.4 272.7v6.3M396.4 275.8h6.3M399.5 272.7v6.3M396.5 275.9h6.3M399.7 272.8v6.3M396.7 276h6.3M399.9 272.8v6.3M396.9 276.1h6.3M400 273v6.3M397 275.8h6.3M400.2 272.6v6.3M397.2 275.9h6.3M400.4 272.8v6.3M397.4 276.4h6.3M400.5 273.2v6.3M397.5 276.6h6.3M400.7 273.4v6.3M397.7 276.2h6.3M400.8 273v6.3M397.9 276.5h6.3M401 273.3v6.3M398 276.4h6.3M401.2 273.2v6.3M398.2 276h6.3M401.3 272.9v6.3M398.3 276.5h6.3M401.5 273.4v6.3M398.5 276.4h6.3M401.7 273.3v6.3M398.7 276.9h6.3M401.8 273.7v6.3M398.8 276.7h6.3M402 273.6v6.3M399 276.8h6.3M402.1 273.6v6.3M399.1 276.5h6.3M402.3 273.4v6.3M399.3 276.9h6.3M402.4 273.8v6.3M399.5 276.5h6.3M402.6 273.4v6.3M399.6 277.1h6.3M402.8 273.9v6.3M399.8 277.4h6.3M402.9 274.2v6.3M399.9 276.9h6.3M403.1 273.7v6.3M400.1 277.3h6.3M403.2 274.2v6.3M400.2 277.5h6.3M403.4 274.4v6.3M400.4 277.2h6.3M403.5 274.1v6.3M400.5 277.5h6.3M403.7 274.4v6.3M400.7 277.4h6.3M403.8 274.2v6.3M400.9 277.3h6.3M404 274.2v6.3M401 277h6.3M404.2 273.9v6.3M401.2 277.3h6.3M404.3 274.1v6.3M401.3 277.2h6.3M404.5 274.1v6.3M401.5 278.1h6.3M404.6 274.9v6.3M401.6 277.7h6.3M404.8 274.5v6.3M401.8 277.7h6.3M404.9 274.5v6.3M401.9 277.5h6.3M405.1 274.3v6.3M402.1 278.1h6.3M405.2 275v6.3M402.2 277.6h6.3M405.4 274.4v6.3M402.4 278.2h6.3M405.5 275v6.3M402.5 278.1h6.3M405.7 275v6.3M402.7 278h6.3M405.8 274.8v6.3M402.8 277.9h6.3M406 274.7v6.3M403 278h6.3M406.1 274.9v6.3M403.1 277.8h6.3M406.3 274.7v6.3M403.3 278.3h6.3M406.4 275.1v6.3M403.4 278.5h6.3M406.6 275.4v6.3M403.5 278.4h6.3M406.7 275.3v6.3M403.7 278.5h6.3M406.8 275.3v6.3M403.8 278.2h6.3M407 275v6.3M404 278.4h6.3M407.1 275.3v6.3M404.1 278.2h6.3M407.3 275v6.3M404.3 278.4h6.3M407.4 275.2v6.3M404.4 278.6h6.3M407.6 275.5v6.3M404.6 279h6.3M407.7 275.9v6.3M404.7 278.6h6.3M407.9 275.4v6.3M404.8 278.6h6.3M408 275.5v6.3M405 278.3h6.3M408.1 275.1v6.3M405.1 278.7h6.3M408.3 275.6v6.3M405.3 278.6h6.3M408.4 275.4v6.3M405.4 278.5h6.3M408.6 275.3v6.3M405.6 278.5h6.3M408.7 275.4v6.3M405.7 278.9h6.3M408.8 275.7v6.3M405.8 278.8h6.3M409 275.7v6.3M406 279.1h6.3M409.1 275.9v6.3M406.1 278.9h6.3M409.3 275.8v6.3M406.3 279h6.3M409.4 275.9v6.3M406.4 279.3h6.3M409.5 276.2v6.3M406.5 279.3h6.3M409.7 276.1v6.3M406.7 279.3h6.3M409.8 276.1v6.3M406.8 279.5h6.3M410 276.3v6.3M407 279.3h6.3M410.1 276.1v6.3M407.1 279.1h6.3M410.2 275.9v6.3M407.2 279.1h6.3M410.4 276v6.3M407.4 279h6.3M410.5 275.9v6.3M407.5 279.4h6.3M410.6 276.3v6.3M407.6 279.3h6.3M410.8 276.2v6.3M407.8 279.5h6.3M410.9 276.4v6.3M407.9 279.6h6.3M411.1 276.5v6.3M408 279.3h6.3M411.2 276.2v6.3M408.2 279.6h6.3M411.3 276.4v6.3M408.3 279.8h6.3M411.5 276.7v6.3M408.4 279.6h6.3M411.6 276.5v6.3M408.6 279.8h6.3M411.7 276.7v6.3M408.7 279.7h6.3M411.9 276.5v6.3M408.8 279.5h6.3M412 276.4v6.3M409 279.7h6.3M412.1 276.6v6.3M409.1 279.4h6.3M412.3 276.3v6.3M409.2 280h6.3M412.4 276.8v6.3M409.4 279.8h6.3M412.5 276.6v6.3M409.5 280.2h6.3M412.7 277v6.3M409.6 279.7h6.3M412.8 276.6v6.3M409.8 280h6.3M412.9 276.8v6.3M409.9 280.1h6.3M413 276.9v6.3M410 280h6.3M413.2 276.9v6.3M410.2 280.1h6.3M413.3 277v6.3M410.3 280h6.3M413.4 276.8v6.3M410.4 279.9h6.3M413.6 276.8v6.3M410.5 279.9h6.3M413.7 276.8v6.3M410.7 280.1h6.3M413.8 277v6.3M410.8 280.1h6.3M414 276.9v6.3M410.9 280.3h6.3M414.1 277.2v6.3M411.1 280.2h6.3M414.2 277.1v6.3M411.2 280.2h6.3M414.3 277.1v6.3M411.3 280.2h6.3M414.5 277.1v6.3M411.4 280.1h6.3M414.6 276.9v6.3M411.6 280.4h6.3M414.7 277.2v6.3M411.7 280.6h6.3M414.8 277.4v6.3M411.8 280.3h6.3M415 277.1v6.3M411.9 280.5h6.3M415.1 277.3v6.3M412.1 280.7h6.3M415.2 277.5v6.3M412.2 280.5h6.3M415.3 277.3v6.3M412.3 280.7h6.3M415.5 277.5v6.3M412.4 280.6h6.3M415.6 277.4v6.3M412.6 281.2h6.3M415.7 278v6.3M412.7 281h6.3M415.8 277.8v6.3M412.8 281h6.3M416 277.8v6.3M412.9 280.7h6.3M416.1 277.5v6.3M413.1 280.9h6.3M416.2 277.8v6.3M413.2 280.8h6.3M416.3 277.7v6.3M413.3 280.9h6.3M416.5 277.8v6.3M413.4 280.8h6.3M416.6 277.7v6.3M413.6 281h6.3M416.7 277.8v6.3M413.7 280.8h6.3M416.8 277.7v6.3M413.8 281.1h6.3M417 277.9v6.3M413.9 281.3h6.3M417.1 278.2v6.3M414 280.8h6.3M417.2 277.7v6.3M414.2 280.8h6.3M417.3 277.7v6.3M414.3 281.2h6.3M417.4 278.1v6.3M414.4 281.3h6.3M417.6 278.1v6.3M414.5 281.1h6.3M417.7 278v6.3M414.6 281.3h6.3M417.8 278.2v6.3M414.8 281.3h6.3M417.9 278.2v6.3M414.9 281.4h6.3M418 278.2v6.3M415 281.5h6.3M418.2 278.4v6.3M415.1 281.2h6.3M418.3 278v6.3M415.2 281.5h6.3M418.4 278.3v6.3M415.4 281.4h6.3M418.5 278.3v6.3M415.5 281.3h6.3M418.6 278.1v6.3M415.6 281.5h6.3M418.7 278.4v6.3M415.7 281.2h6.3M418.9 278.1v6.3M415.8 281.2h6.3M419 278.1v6.3M416 281.7h6.3M419.1 278.5v6.3M416.1 281.3h6.3M419.2 278.2v6.3M416.2 281.9h6.3M419.3 278.7v6.3M416.3 281.8h6.3M419.5 278.6v6.3M416.4 281.5h6.3M419.6 278.4v6.3M416.5 281.5h6.3M419.7 278.3v6.3M416.6 281.3h6.3M419.8 278.1v6.3M416.8 281.7h6.3M419.9 278.5v6.3M416.9 281.4h6.3M420 278.3v6.3M417 282h6.3M420.1 278.9v6.3M417.1 281.5h6.3M420.3 278.3v6.3M417.2 281.8h6.3M420.4 278.6v6.3M417.3 281.3h6.3M420.5 278.2v6.3M417.5 281.8h6.3M420.6 278.6v6.3M417.6 282.1h6.3M420.7 278.9v6.3M417.7 281.8h6.3M420.8 278.7v6.3M417.8 281.8h6.3M420.9 278.6v6.3M417.9 281.9h6.3M421.1 278.7v6.3M418 282h6.3M421.2 278.9v6.3M418.1 282.1h6.3M421.3 279v6.3M418.2 282h6.3M421.4 278.8v6.3M418.4 281.7h6.3M421.5 278.5v6.3M418.5 282.1h6.3M421.6 279v6.3M418.6 282.3h6.3M421.7 279.1v6.3M418.7 282.5h6.3M421.8 279.4v6.3M418.8 282.2h6.3M422 279v6.3M418.9 282.2h6.3M422.1 279v6.3M419 282.1h6.3M422.2 278.9v6.3M419.1 282.3h6.3M422.3 279.2v6.3M419.2 282.5h6.3M422.4 279.4v6.3M419.4 282.1h6.3M422.5 278.9v6.3M419.5 282.3h6.3M422.6 279.1v6.3M419.6 282.1h6.3M422.7 279v6.3M419.7 282.2h6.3M422.8 279.1v6.3M419.8 282.3h6.3M422.9 279.2v6.3M419.9 282.5h6.3M423.1 279.3v6.3M420 282.3h6.3M423.2 279.1v6.3M420.1 282.4h6.3M423.3 279.2v6.3M420.2 282.7h6.3M423.4 279.5v6.3M420.3 282.6h6.3M423.5 279.4v6.3M420.4 282.6h6.3M423.6 279.5v6.3M420.6 282.6h6.3M423.7 279.4v6.3M420.7 282.5h6.3M423.8 279.4v6.3M420.8 282.6h6.3M423.9 279.5v6.3M420.9 282.7h6.3M424 279.5v6.3M421 282.6h6.3M424.1 279.5v6.3M421.1 282.8h6.3M424.2 279.7v6.3M421.2 282.7h6.3M424.3 279.5v6.3M421.3 282.8h6.3M424.5 279.7v6.3M421.4 282.7h6.3M424.6 279.6v6.3M421.5 282.8h6.3M424.7 279.7v6.3M421.6 282.6h6.3M424.8 279.5v6.3M421.7 282.7h6.3M424.9 279.5v6.3M421.8 282.6h6.3M425 279.4v6.3M421.9 283h6.3M425.1 279.9v6.3M422 282.9h6.3M425.2 279.8v6.3M422.1 282.9h6.3M425.3 279.7v6.3M422.3 283h6.3M425.4 279.8v6.3M422.4 282.8h6.3M425.5 279.6v6.3M422.5 282.9h6.3M425.6 279.8v6.3M422.6 282.8h6.3M425.7 279.7v6.3M422.7 282.6h6.3M425.8 279.5v6.3M422.8 282.9h6.3M425.9 279.8v6.3M422.9 282.9h6.3M426 279.7v6.3M423 283.2h6.3M426.1 280.1v6.3M423.1 282.9h6.3M426.2 279.8v6.3M423.2 283h6.3M426.3 279.8v6.3M423.3 283.2h6.3M426.4 280.1v6.3M423.4 283.1h6.3M426.5 279.9v6.3M423.5 282.9h6.3M426.6 279.7v6.3M423.6 283.2h6.3M426.7 280v6.3M423.7 283h6.3M426.8 279.9v6.3M423.8 283.4h6.3M426.9 280.3v6.3M423.9 283h6.3M427.1 279.9v6.3M424 283.1h6.3M427.2 279.9v6.3M424.1 282.8h6.3M427.3 279.6v6.3M424.2 283.1h6.3M427.4 280v6.3M424.3 283.6h6.3M427.5 280.4v6.3M424.4 283.3h6.3M427.6 280.1v6.3M424.5 283.1h6.3M427.7 280v6.3M424.6 283.4h6.3M427.8 280.2v6.3M424.7 283.3h6.3M427.9 280.1v6.3M424.8 283.3h6.3M428 280.2v6.3M424.9 283.8h6.3M428.1 280.6v6.3M425 283.7h6.3M428.2 280.5v6.3M425.1 283.6h6.3M428.3 280.5v6.3M425.2 283.7h6.3M428.4 280.5v6.3M425.3 283.3h6.3M428.5 280.1v6.3M425.4 283.1h6.3M428.6 280v6.3M425.5 283.6h6.3M428.7 280.4v6.3M425.6 283.5h6.3M428.7 280.4v6.3M425.7 283.5h6.3M428.8 280.3v6.3M425.8 283.5h6.3M428.9 280.3v6.3M425.9 283.6h6.3M429 280.5v6.3M426 283.6h6.3M429.1 280.5v6.3M426.1 283.6h6.3M429.2 280.4v6.3M426.2 283.6h6.3M429.3 280.5v6.3M426.3 283.5h6.3M429.4 280.4v6.3M426.4 283.5h6.3M429.5 280.4v6.3M426.5 283.8h6.3M429.6 280.7v6.3M426.6 283.6h6.3M429.7 280.4v6.3M426.7 283.9h6.3M429.8 280.8v6.3M426.8 283.7h6.3M429.9 280.6v6.3M426.9 283.6h6.3M430 280.5v6.3M427 283.8h6.3M430.1 280.7v6.3M427.1 283.6h6.3M430.2 280.4v6.3M427.2 283.6h6.3M430.3 280.5v6.3M427.2 283.6h6.3M430.4 280.5v6.3M427.3 283.7h6.3M430.5 280.5v6.3M427.4 283.8h6.3M430.6 280.7v6.3M427.5 284h6.3M430.7 280.9v6.3M427.6 283.8h6.3M430.8 280.7v6.3M427.7 283.6h6.3M430.9 280.4v6.3M427.8 283.6h6.3M431 280.5v6.3M427.9 283.5h6.3M431.1 280.3v6.3M428 283.9h6.3M431.2 280.7v6.3M428.1 283.9h6.3M431.3 280.8v6.3M428.2 283.8h6.3M431.3 280.7v6.3M428.3 283.8h6.3M431.4 280.7v6.3M428.4 283.9h6.3M431.5 280.7v6.3M428.5 283.9h6.3M431.6 280.7v6.3M428.6 283.9h6.3M431.7 280.8v6.3M428.7 283.9h6.3M431.8 280.7v6.3M428.8 283.7h6.3M431.9 280.5v6.3M428.8 284h6.3M432 280.8v6.3M428.9 284.1h6.3M432.1 280.9v6.3M429 283.6h6.3M432.2 280.5v6.3M429.1 283.8h6.3M432.3 280.7v6.3M429.2 283.7h6.3M432.4 280.6v6.3M429.3 284h6.3M432.5 280.8v6.3M429.4 283.9h6.3M432.6 280.7v6.3M429.5 284.1h6.3M432.6 281v6.3M429.6 284.1h6.3M432.7 280.9v6.3M429.7 283.9h6.3M432.8 280.7v6.3M429.8 283.9h6.3M432.9 280.7v6.3M429.9 283.9h6.3M433 280.7v6.3M430 284h6.3M433.1 280.9v6.3M430 283.8h6.3M433.2 280.7v6.3M430.1 284h6.3M433.3 280.9v6.3M430.2 283.8h6.3M433.4 280.6v6.3M430.3 284.1h6.3M433.5 281v6.3M430.4 284.1h6.3M433.6 280.9v6.3M430.5 283.8h6.3M433.6 280.7v6.3M430.6 283.9h6.3M433.7 280.7v6.3M430.7 284h6.3M433.8 280.9v6.3M430.8 284.1h6.3M433.9 280.9v6.3M430.9 283.6h6.3M434 280.5v6.3M430.9 284.1h6.3M434.1 280.9v6.3M431 284.3h6.3M434.2 281.1v6.3M431.1 284h6.3M434.3 280.8v6.3M431.2 283.9h6.3M434.4 280.7v6.3M431.3 284.2h6.3M434.5 281.1v6.3M431.4 284.1h6.3M434.5 281v6.3M431.5 284.1h6.3M434.6 281v6.3M431.6 284.2h6.3M434.7 281v6.3M431.7 283.9h6.3M434.8 280.8v6.3M431.7 284h6.3M434.9 280.9v6.3M431.8 283.9h6.3M435 280.8v6.3M431.9 283.9h6.3M435.1 280.8v6.3M432 284.1h6.3M435.2 280.9v6.3M432.1 284h6.3M435.2 280.8v6.3M432.2 284.4h6.3M435.3 281.2v6.3M432.3 284.2h6.3M435.4 281.1v6.3M432.4 284.3h6.3M435.5 281.1v6.3M432.4 283.9h6.3M435.6 280.8v6.3M432.5 284.1h6.3M435.7 281v6.3M432.6 284.1h6.3M435.8 281v6.3M432.7 284.2h6.3M435.9 281.1v6.3M432.8 284.2h6.3M435.9 281.1v6.3M432.9 284.1h6.3M436 280.9v6.3M433 284.1h6.3M436.1 280.9v6.3M433.1 284.3h6.3M436.2 281.2v6.3M433.1 284.5h6.3M436.3 281.4v6.3M433.2 284.5h6.3M436.4 281.4v6.3M433.3 284.2h6.3M436.5 281v6.3M433.4 284.1h6.3M436.5 281v6.3M433.5 284.3h6.3M436.6 281.1v6.3M433.6 284.3h6.3M436.7 281.2v6.3M433.7 284.5h6.3M436.8 281.4v6.3M433.7 284.2h6.3M436.9 281.1v6.3M433.8 284.2h6.3M437 281v6.3M433.9 284.4h6.3M437.1 281.3v6.3M434 284.2h6.3M437.1 281v6.3M434.1 284.2h6.3M437.2 281v6.3M434.2 284.4h6.3M437.3 281.2v6.3M434.2 284.3h6.3M437.4 281.1v6.3M434.3 284.2h6.3M437.5 281v6.3M434.4 284.3h6.3M437.6 281.1v6.3M434.5 284.3h6.3M437.6 281.1v6.3M434.6 284.3h6.3M437.7 281.1v6.3M434.7 284.2h6.3M437.8 281.1v6.3M434.7 284.4h6.3M437.9 281.3v6.3M434.8 284.3h6.3M438 281.1v6.3M434.9 284.3h6.3M438.1 281.1v6.3M435 284.5h6.3M438.1 281.4v6.3M435.1 284.2h6.3M438.2 281.1v6.3M435.2 284.5h6.3M438.3 281.3v6.3M435.2 284.5h6.3M438.4 281.3v6.3M435.3 284.3h6.3M438.5 281.2v6.3M435.4 284.4h6.3M438.6 281.3v6.3M435.5 284.2h6.3M438.6 281v6.3M435.6 284.4h6.3M438.7 281.3v6.3M435.7 284.3h6.3M438.8 281.1v6.3M435.7 284.3h6.3M438.9 281.1v6.3M435.8 284.5h6.3M439 281.3v6.3M435.9 284.3h6.3M439.1 281.2v6.3M436 284.4h6.3M439.1 281.3v6.3M436.1 284.5h6.3M439.2 281.3v6.3M436.1 284.6h6.3M439.3 281.4v6.3M436.2 284.5h6.3M439.4 281.4v6.3M436.3 284.6h6.3M439.5 281.4v6.3M436.4 284.4h6.3M439.5 281.2v6.3M436.5 284.4h6.3M439.6 281.3v6.3M436.6 284.6h6.3M439.7 281.4v6.3M436.6 284.6h6.3M439.8 281.5v6.3M436.7 284.6h6.3M439.9 281.4v6.3M436.8 284.4h6.3M439.9 281.3v6.3M436.9 284.4h6.3M440 281.2v6.3M437 284.4h6.3M440.1 281.2v6.3M437 284.7h6.3M440.2 281.5v6.3M437.1 284.4h6.3M440.3 281.2v6.3M437.2 284.5h6.3M440.3 281.3v6.3M437.3 284.6h6.3M440.4 281.5v6.3M437.4 284.6h6.3M440.5 281.5v6.3M437.4 284.5h6.3M440.6 281.3v6.3M437.5 284.8h6.3M440.7 281.7v6.3M437.6 284.6h6.3M440.7 281.4v6.3M437.7 284.6h6.3M440.8 281.5v6.3M437.8 284.7h6.3M440.9 281.5v6.3M437.8 284.5h6.3M441 281.4v6.3M437.9 284.7h6.3M441.1 281.5v6.3M438 284.6h6.3M441.1 281.4v6.3M438.1 284.5h6.3M441.2 281.3v6.3M438.1 284.5h6.3M441.3 281.3v6.3M438.2 284.7h6.3M441.4 281.5v6.3M438.3 284.6h6.3M441.5 281.5v6.3M438.4 284.6h6.3M441.5 281.5v6.3M438.5 284.6h6.3M441.6 281.4v6.3M438.5 284.6h6.3M441.7 281.5v6.3M438.6 284.8h6.3M441.8 281.6v6.3M438.7 284.8h6.3M441.8 281.6v6.3M438.8 284.6h6.3M441.9 281.5v6.3M438.9 284.7h6.3M442 281.6v6.3M438.9 284.4h6.3M442.1 281.3v6.3M439 284.5h6.3M442.2 281.4v6.3M439.1 284.6h6.3M442.2 281.4v6.3M439.2 284.6h6.3M442.3 281.4v6.3M439.2 284.8h6.3M442.4 281.6v6.3M439.3 284.4h6.3M442.5 281.3v6.3M439.4 284.8h6.3M442.5 281.6v6.3M439.5 284.8h6.3M442.6 281.7v6.3M439.5 285h6.3M442.7 281.9v6.3M439.6 284.7h6.3M442.8 281.5v6.3M439.7 284.8h6.3M442.8 281.6v6.3M439.8 284.9h6.3M442.9 281.8v6.3M439.9 284.9h6.3M443 281.7v6.3M439.9 284.6h6.3M443.1 281.5v6.3M440 284.7h6.3M443.2 281.6v6.3M440.1 284.6h6.3M443.2 281.5v6.3M440.2 284.8h6.3M443.3 281.6v6.3M440.2 284.9h6.3M443.4 281.7v6.3M440.3 285h6.3M443.5 281.8v6.3M440.4 284.9h6.3M443.5 281.7v6.3M440.5 284.9h6.3M443.6 281.8v6.3M440.5 284.9h6.3M443.7 281.8v6.3M440.6 284.7h6.3M443.8 281.6v6.3M440.7 284.9h6.3M443.8 281.8v6.3M440.8 285h6.3M443.9 281.8v6.3M440.8 284.8h6.3M444 281.7v6.3M440.9 284.7h6.3M444.1 281.6v6.3M441 284.9h6.3M444.1 281.7v6.3M441.1 284.9h6.3M444.2 281.7v6.3M441.1 284.9h6.3M444.3 281.8v6.3M441.2 284.6h6.3M444.4 281.5v6.3M441.3 284.8h6.3M444.4 281.7v6.3M441.4 285.1h6.3M444.5 282v6.3M441.4 285h6.3M444.6 281.9v6.3M441.5 284.9h6.3M444.7 281.7v6.3M441.6 284.9h6.3M444.7 281.7v6.3M441.7 284.9h6.3M444.8 281.7v6.3M441.7 284.8h6.3M444.9 281.6v6.3M441.8 284.9h6.3M444.9 281.7v6.3M441.9 284.9h6.3M445 281.8v6.3M441.9 284.8h6.3M445.1 281.6v6.3M442 284.9h6.3M445.2 281.8v6.3M442.1 285h6.3M445.2 281.8v6.3M442.2 284.8h6.3M445.3 281.6v6.3M442.2 284.9h6.3M445.4 281.7v6.3M442.3 284.8h6.3M445.5 281.6v6.3M442.4 285h6.3M445.5 281.8v6.3M442.5 285h6.3M445.6 281.8v6.3M442.5 284.9h6.3M445.7 281.8v6.3M442.6 285h6.3M445.8 281.8v6.3M442.7 285h6.3M445.8 281.9v6.3M442.7 285.1h6.3M445.9 281.9v6.3M442.8 284.8h6.3M446 281.7v6.3M442.9 285h6.3M446 281.8v6.3M443 284.8h6.3M446.1 281.7v6.3M443 284.8h6.3M446.2 281.6v6.3M443.1 285.1h6.3M446.3 282v6.3M443.2 285.1h6.3M446.3 282v6.3M443.3 285.2h6.3M446.4 282v6.3M443.3 285.1h6.3M446.5 282v6.3M443.4 285h6.3M446.5 281.8v6.3M443.5 285.1h6.3M446.6 281.9v6.3M443.5 285h6.3M446.7 281.8v6.3M443.6 285.2h6.3M446.8 282.1v6.3M443.7 284.8h6.3M446.8 281.6v6.3M443.8 285.1h6.3M446.9 282v6.3M443.8 285h6.3M447 281.9v6.3M443.9 285.2h6.3M447 282v6.3M444 285.2h6.3M447.1 282.1v6.3M444 285h6.3M447.2 281.9v6.3M444.1 285.3h6.3M447.3 282.1v6.3M444.2 285.2h6.3M447.3 282.1v6.3M444.2 284.9h6.3M447.4 281.8v6.3M444.3 285.3h6.3M447.5 282.2v6.3M444.4 285h6.3M447.5 281.8v6.3M444.5 285h6.3M447.6 281.8v6.3M444.5 285.2h6.3M447.7 282.1v6.3M444.6 285h6.3M447.7 281.9v6.3M444.7 285.2h6.3M447.8 282v6.3M444.7 285.1h6.3M447.9 282v6.3M444.8 285h6.3M448 281.9v6.3M444.9 285.3h6.3M448 282.2v6.3M444.9 285.3h6.3M448.1 282.2v6.3M445 285.2h6.3M448.2 282v6.3M445.1 285.4h6.3M448.2 282.2v6.3M445.2 285.2h6.3M448.3 282v6.3M445.2 285.2h6.3M448.4 282.1v6.3M445.3 285.1h6.3M448.4 282v6.3M445.4 285h6.3M448.5 281.9v6.3M445.4 285.2h6.3M448.6 282v6.3M445.5 285.1h6.3M448.7 281.9v6.3M445.6 285.3h6.3M448.7 282.1v6.3M445.6 285.2h6.3M448.8 282.1v6.3M445.7 285.1h6.3M448.9 282v6.3M445.8 285.4h6.3M448.9 282.2v6.3M445.8 285.3h6.3M449 282.1v6.3M445.9 285.5h6.3M449.1 282.3v6.3M446 285.2h6.3M449.1 282v6.3M446 285.2h6.3M449.2 282v6.3M446.1 285.2h6.3M449.3 282v6.3M446.2 285.3h6.3M449.3 282.1v6.3M446.3 285.2h6.3M449.4 282.1v6.3M446.3 285.3h6.3M449.5 282.1v6.3M446.4 285.5h6.3M449.5 282.3v6.3M446.5 285.4h6.3M449.6 282.2v6.3M446.5 285.2h6.3M449.7 282.1v6.3M446.6 285.3h6.3M449.7 282.2v6.3M446.7 285.3h6.3M449.8 282.1v6.3M446.7 285.3h6.3M449.9 282.1v6.3M446.8 285.3h6.3M449.9 282.1v6.3M446.9 285.3h6.3M450 282.2v6.3M446.9 285.4h6.3M450.1 282.2v6.3M447 285.4h6.3M450.1 282.3v6.3M447.1 285.3h6.3M450.2 282.2v6.3M447.1 285.2h6.3M450.3 282.1v6.3M447.2 285.3h6.3M450.3 282.2v6.3M447.3 285.3h6.3M450.4 282.2v6.3M447.3 285.3h6.3M450.5 282.2v6.3M447.4 285.2h6.3M450.5 282v6.3M447.5 285.3h6.3M450.6 282.2v6.3M447.5 285.1h6.3M450.7 282v6.3M447.6 285.5h6.3M450.7 282.4v6.3M447.7 285.4h6.3M450.8 282.3v6.3M447.7 285.5h6.3M450.9 282.3v6.3M447.8 285.3h6.3M450.9 282.1v6.3M447.9 285.4h6.3M451 282.3v6.3M447.9 285.5h6.3M451.1 282.4v6.3M448 285.4h6.3M451.1 282.2v6.3M448.1 285.3h6.3M451.2 282.1v6.3M448.1 285.4h6.3M451.3 282.2v6.3M448.2 285.1h6.3M451.3 282v6.3M448.3 285.5h6.3M451.4 282.4v6.3M448.3 285.5h6.3M451.5 282.3v6.3M448.4 285.2h6.3M451.5 282.1v6.3M448.5 285.5h6.3M451.6 282.3v6.3M448.5 285.6h6.3M451.7 282.4v6.3M448.6 285.5h6.3M451.7 282.3v6.3M448.6 285.5h6.3M451.8 282.4v6.3M448.7 285.6h6.3M451.9 282.5v6.3M448.8 285.5h6.3M451.9 282.3v6.3M448.8 285.6h6.3M452 282.5v6.3M448.9 285.4h6.3M452.1 282.3v6.3M449 285.4h6.3M452.1 282.2v6.3M449 285.4h6.3M452.2 282.3v6.3M449.1 285.3h6.3M452.3 282.2v6.3M449.2 285.5h6.3M452.3 282.4v6.3M449.2 285.4h6.3M452.4 282.2v6.3M449.3 285.5h6.3M452.4 282.4v6.3M449.4 285.5h6.3M452.5 282.4v6.3M449.4 285.7h6.3M452.6 282.5v6.3M449.5 285.7h6.3M452.6 282.5v6.3M449.6 285.4h6.3M452.7 282.3v6.3M449.6 285.5h6.3M452.8 282.3v6.3M449.7 285.5h6.3M452.8 282.3v6.3M449.7 285.4h6.3M452.9 282.3v6.3M449.8 285.7h6.3M453 282.6v6.3M449.9 285.7h6.3M453 282.5v6.3M449.9 285.5h6.3M453.1 282.3v6.3M450 285.4h6.3M453.1 282.2v6.3M450.1 285.5h6.3M453.2 282.3v6.3M450.1 285.5h6.3M453.3 282.4v6.3M450.2 285.7h6.3M453.3 282.6v6.3M450.3 285.4h6.3M453.4 282.2v6.3M450.3 285.7h6.3M453.5 282.6v6.3M450.4 285.4h6.3M453.5 282.2v6.3M450.4 285.6h6.3M453.6 282.4v6.3M450.5 285.4h6.3M453.7 282.3v6.3M450.6 285.5h6.3M453.7 282.4v6.3M450.6 285.3h6.3M453.8 282.1v6.3M450.7 285.6h6.3M453.8 282.5v6.3M450.8 285.6h6.3M453.9 282.4v6.3M450.8 285.5h6.3M454 282.3v6.3M450.9 285.3h6.3M454 282.2v6.3M450.9 285.6h6.3M454.1 282.4v6.3M451 285.6h6.3M454.2 282.4v6.3M451.1 285.4h6.3M454.2 282.3v6.3M451.1 285.7h6.3M454.3 282.5v6.3M451.2 285.6h6.3M454.3 282.4v6.3M451.3 285.5h6.3M454.4 282.3v6.3M451.3 285.5h6.3M454.5 282.4v6.3M451.4 285.3h6.3M454.5 282.2v6.3M451.4 285.7h6.3M454.6 282.6v6.3M451.5 285.7h6.3M454.7 282.6v6.3M451.6 285.6h6.3M454.7 282.5v6.3M451.6 285.5h6.3M454.8 282.3v6.3M451.7 285.5h6.3M454.8 282.4v6.3M451.7 285.6h6.3M454.9 282.5v6.3M451.8 285.5h6.3M455 282.4v6.3M451.9 285.7h6.3M455 282.5v6.3M451.9 285.6h6.3M455.1 282.4v6.3M452 285.8h6.3M455.1 282.6v6.3M452.1 285.8h6.3M455.2 282.6v6.3M452.1 285.6h6.3M455.3 282.5v6.3M452.2 285.6h6.3M455.3 282.4v6.3M452.2 285.3h6.3M455.4 282.2v6.3M452.3 285.7h6.3M455.4 282.5v6.3M452.4 285.7h6.3M455.5 282.6v6.3M452.4 285.6h6.3M455.6 282.4v6.3M452.5 285.8h6.3M455.6 282.7v6.3M452.5 285.6h6.3M455.7 282.5v6.3M452.6 285.6h6.3M455.8 282.4v6.3M452.7 285.8h6.3M455.8 282.6v6.3M452.7 285.8h6.3M455.9 282.6v6.3M452.8 285.5h6.3M455.9 282.3v6.3M452.8 285.6h6.3M456 282.5v6.3M452.9 285.6h6.3M456.1 282.4v6.3M453 285.7h6.3M456.1 282.5v6.3M453 285.7h6.3M456.2 282.6v6.3M453.1 285.7h6.3M456.2 282.5v6.3M453.1 285.8h6.3M456.3 282.6v6.3M453.2 285.8h6.3M456.4 282.7v6.3M453.3 285.7h6.3M456.4 282.6v6.3M453.3 285.6h6.3M456.5 282.5v6.3M453.4 285.6h6.3M456.5 282.5v6.3M453.4 285.8h6.3M456.6 282.7v6.3M453.5 285.9h6.3M456.7 282.8v6.3M453.6 285.7h6.3M456.7 282.6v6.3M453.6 285.8h6.3M456.8 282.7v6.3M453.7 285.7h6.3M456.8 282.5v6.3M453.7 285.7h6.3M456.9 282.6v6.3M453.8 285.9h6.3M457 282.7v6.3M453.9 285.7h6.3M457 282.6v6.3M453.9 285.8h6.3M457.1 282.7v6.3M454 285.8h6.3M457.1 282.7v6.3M454 285.9h6.3M457.2 282.8v6.3M454.1 285.8h6.3M457.2 282.7v6.3M454.2 285.8h6.3M457.3 282.6v6.3M454.2 285.8h6.3M457.4 282.6v6.3M454.3 285.7h6.3M457.4 282.6v6.3M454.3 285.9h6.3M457.5 282.8v6.3M454.4 286h6.3M457.5 282.9v6.3M454.5 285.6h6.3M457.6 282.5v6.3M454.5 285.9h6.3M457.7 282.8v6.3M454.6 285.7h6.3M457.7 282.6v6.3M454.6 285.8h6.3M457.8 282.6v6.3M454.7 285.8h6.3M457.8 282.7v6.3M454.7 285.8h6.3M457.9 282.6v6.3M454.8 285.8h6.3M458 282.7v6.3M454.9 285.8h6.3M458 282.6v6.3M454.9 286h6.3M458.1 282.9v6.3M455 285.7h6.3M458.1 282.5v6.3M455 285.8h6.3M458.2 282.6v6.3M455.1 285.8h6.3M458.2 282.6v6.3M455.2 285.9h6.3M458.3 282.7v6.3M455.2 285.7h6.3M458.4 282.6v6.3M455.3 285.9h6.3M458.4 282.7v6.3M455.3 285.9h6.3M458.5 282.7v6.3M455.4 286.1h6.3M458.5 282.9v6.3M455.4 286h6.3M458.6 282.8v6.3M455.5 285.9h6.3M458.6 282.7v6.3M455.6 285.9h6.3M458.7 282.7v6.3M455.6 286.1h6.3M458.8 282.9v6.3M455.7 285.9h6.3M458.8 282.7v6.3M455.7 285.8h6.3M458.9 282.7v6.3M455.8 285.8h6.3M458.9 282.7v6.3M455.8 285.9h6.3M459 282.7v6.3M455.9 286h6.3M459 282.9v6.3M456 285.8h6.3M459.1 282.7v6.3M456 285.9h6.3M459.2 282.7v6.3M456.1 285.9h6.3M459.2 282.8v6.3M456.1 285.8h6.3M459.3 282.7v6.3M456.2 286h6.3M459.3 282.8v6.3M456.2 285.9h6.3M459.4 282.7v6.3M456.3 286h6.3M459.4 282.8v6.3M456.4 286h6.3M459.5 282.8v6.3M456.4 286.1h6.3M459.6 282.9v6.3M456.5 286.1h6.3M459.6 283v6.3M456.5 285.9h6.3M459.7 282.7v6.3M456.6 285.8h6.3M459.7 282.7v6.3M456.6 285.8h6.3M459.8 282.7v6.3M456.7 286h6.3M459.8 282.9v6.3M456.7 286h6.3M459.9 282.9v6.3M456.8 286h6.3M460 282.8v6.3M456.9 286h6.3M460 282.8v6.3M456.9 286.1h6.3M460.1 283v6.3M457 286.1h6.3M460.1 282.9v6.3M457 286h6.3M460.2 282.9v6.3M457.1 286h6.3M460.2 282.9v6.3M457.1 285.8h6.3M460.3 282.7v6.3M457.2 286.1h6.3M460.3 283v6.3M457.3 286.2h6.3M460.4 283.1v6.3M457.3 286h6.3M460.5 282.9v6.3" stroke="#e51e10" stroke-width="0.9" fill="none"/>
<path d="M75.6 174.2 L114.2 176.4 L136.8 178.4 L152.8 179.2 L165.3 179.7 L175.4 180.4 L184 180.6 L191.5 181.4 L198 181.6 L203.9 182.6 L209.2 183.8 L214 184.8 L218.5 186.4 L222.6 188.6 L226.5 191.2 L230.1 193.9 L233.5 196.3 L236.6 199.3 L239.6 201.9 L242.5 204.8 L245.2 207.4 L247.8 209.4 L250.3 211.4 L252.7 213.4 L254.9 215.4 L257.1 217.1 L259.2 218.5 L261.3 219.8 L263.2 221 L265.1 222.1 L266.9 223.1 L268.7 224.2 L270.4 225.1 L272.1 226.1 L273.7 227 L275.3 227.9 L276.8 228.7 L278.3 229.5 L279.7 230.3 L281.1 231.1 L282.5 231.9 L283.8 232.6 L285.2 233.4 L286.4 234.1 L287.7 234.9 L288.9 236.6 L290.1 235.4 L291.3 237.7 L292.4 237.3 L293.6 237.9 L294.7 240.4 L295.7 239.5 L296.8 240 L297.8 241.2 L298.9 242 L299.9 241.7 L300.9 242.7 L301.8 242 L302.8 243 L303.7 243.4 L304.6 243.2 L305.5 243.6 L306.4 244 L307.3 245.5 L308.2 246 L309 246.3 L309.9 247 L310.7 246.5 L311.5 247.8 L312.3 248.4 L313.1 249.2 L313.9 248.5 L314.6 249.2 L315.4 248.6 L316.1 249.9 L316.9 249.2 L317.6 250.1 L318.3 252.1 L319 250.4 L319.7 252.6 L320.4 252.7 L321.1 252.6 L321.8 253.4 L322.5 253.8 L323.1 254.4 L323.8 254 L324.4 254.1 L325.1 254.5 L325.7 254.6 L326.3 255.4 L326.9 255.3 L327.5 256.7 L328.1 255.3 L328.7 256.1 L329.3 256.4 L329.9 256.1 L330.5 258.5 L331 256.5 L331.6 257.9 L332.2 258.1 L332.7 259.5 L333.3 257.9 L333.8 259.7 L334.4 259.1 L334.9 259.6 L335.4 259.6 L335.9 260.5 L336.5 259.9 L337 260.7 L337.5 261.1 L338 262.1 L338.5 260.3 L339 262.4 L339.5 262.3 L340 261.9 L340.4 262.5 L340.9 262.3 L341.4 263.6 L341.9 263.1 L342.3 263.1 L342.8 263.3 L343.3 263.6 L343.7 263.8 L344.2 263.7 L344.6 265.2 L345 263.6 L345.5 263.1 L345.9 264.8 L346.4 265 L346.8 265.4 L347.2 265.4 L347.6 265.6 L348.1 266 L348.5 266.4 L348.9 266 L349.3 266.2 L349.7 267.4 L350.1 267 L350.5 266.5 L350.9 268.1 L351.3 267.6 L351.7 267.2 L352.1 267.1 L352.5 267.9 L352.9 267.6 L353.3 267.7 L353.6 267.8 L354 268.2 L354.4 269 L354.8 268.6 L355.1 268.3 L355.5 269.3 L355.9 269.2 L356.2 269.7 L356.6 270 L356.9 269.6 L357.3 269.8 L357.7 270 L358 269.7 L358.4 270.5 L358.7 270.9 L359.1 270.6 L359.4 270.6 L359.7 270.7 L360.1 270.7 L360.4 270.8 L360.7 271.1 L361.1 271 L361.4 271.3 L361.7 271 L362.1 271.9 L362.4 271.9 L362.7 271.6 L363 271.3 L363.4 272.2 L363.7 272.8 L364 272.2 L364.3 272.4 L364.6 272.5 L364.9 273.1 L365.2 272.7 L365.5 273.4 L365.8 273.1 L366.1 273.6 L366.4 273.4 L366.7 273.5 L367 273.2 L367.3 273.5 L367.6 273.8 L367.9 274.2 L368.2 274.2 L368.5 274 L368.8 274.4 L369.1 274.7 L369.4 274.5 L369.7 274.5 L369.9 274.6 L370.2 275.1 L370.5 275.1 L370.8 274.7 L371.1 275.2 L371.3 275.1 L371.6 275.1 L371.9 275.8 L372.2 275.8 L372.4 275.4 L372.7 275.7 L373 275.9 L373.2 275.7 L373.5 275.9 L373.8 276.3 L374 275.6 L374.3 276.3 L374.6 276.5 L374.8 276.6 L375.1 276.1 L375.3 276.7 L375.6 276.4 L375.8 276.9 L376.1 277 L376.4 277 L376.6 276.8 L376.9 276.9 L377.1 277.4 L377.4 277 L377.6 277.5 L377.8 277.6 L378.1 277.4 L378.3 278.3 L378.6 277.7 L378.8 278.3 L379.1 277.2 L379.3 277.2 L379.5 278.2 L379.8 278.2 L380 278 L380.2 278.1 L380.5 277.7 L380.7 278.1 L380.9 278.1 L381.2 278.4 L381.4 278.8 L381.6 278.6 L381.9 278.7 L382.1 278.5 L382.3 278.7 L382.6 278.9 L382.8 278.8 L383 279.3 L383.2 278.8 L383.4 279.6 L383.7 278.9 L383.9 279.5 L384.1 279.1 L384.3 279.8 L384.5 279.5 L384.8 279.6 L385 279.7 L385.2 279.4 L385.4 279.4 L385.6 279.2 L385.8 280.1 L386 279.7 L386.3 279.7 L386.5 280 L386.7 280.5 L386.9 279.6 L387.1 280.2 L387.3 280.1 L387.5 280.4 L387.7 279.8 L387.9 280.2 L388.1 280.6 L388.3 280.9 L388.5 280.9 L388.7 280.3 L388.9 280.6 L389.1 280.6 L389.3 280.4 L389.5 280.4 L389.7 281 L389.9 280.9 L390.1 280.9 L390.3 281.3 L390.5 280.8 L390.7 281.2 L390.9 281.1 L391.1 281.1 L391.3 281.3 L391.5 281.3 L391.7 281.4 L391.9 281.4 L392.1 281.9 L392.3 281.4 L392.4 281.7 L392.6 281.7 L392.8 281.5 L393 281.8 L393.2 281.5 L393.4 282 L393.6 281.6 L393.8 281.7 L393.9 281.9 L394.1 282.1 L394.3 282.1 L394.5 282.2 L394.7 282 L394.8 281.8 L395 282.2 L395.2 282.2 L395.4 282 L395.6 282.5 L395.7 282.3 L395.9 282.1 L396.1 282.4 L396.3 282.1 L396.5 282.2 L396.6 282.5 L396.8 282.1 L397 282.5 L397.2 282.2 L397.3 282.8 L397.5 282.5 L397.7 282.7 L397.8 282.4 L398 282.7 L398.2 283 L398.4 282.9 L398.5 282.4 L398.7 283.1 L398.9 283.1 L399 282.8 L399.2 283.3 L399.4 282.7 L399.5 283 L399.7 283.3 L399.9 283.4 L400 283.4 L400.2 282.9 L400.4 282.7 L400.5 283.2 L400.7 282.9 L400.8 283.2 L401 283 L401.2 283.5 L401.3 283.5 L401.5 283.4 L401.7 283.3 L401.8 283.4 L402 283.3 L402.1 283.5 L402.3 283.5 L402.4 283.6 L402.6 283.4 L402.8 283.9 L402.9 283.6 L403.1 283.8 L403.2 283.9 L403.4 283.4 L403.5 283.2 L403.7 283.9 L403.8 283.6 L404 283.7 L404.2 283.6 L404.3 283.7 L404.5 283.5 L404.6 283.7 L404.8 283.7 L404.9 283.8 L405.1 283.3 L405.2 284 L405.4 283.9 L405.5 283.5 L405.7 283.7 L405.8 283.9 L406 284.1 L406.1 283.9 L406.3 284.2 L406.4 284 L406.6 283.8 L406.7 283.9 L406.8 284.2 L407 283.9 L407.1 284.2 L407.3 284.3 L407.4 284.2 L407.6 284.3 L407.7 284.1 L407.9 284.1 L408 284 L408.1 284 L408.3 283.8 L408.4 284.1 L408.6 284 L408.7 283.9 L408.8 284.2 L409 284.3 L409.1 284.2 L409.3 284.5 L409.4 284.4 L409.5 284.5 L409.7 284.2 L409.8 284 L410 284.4 L410.1 284.4 L410.2 284.4 L410.4 284.4 L410.5 284.6 L410.6 284.3 L410.8 284.5 L410.9 284.2 L411.1 283.9 L411.2 284.3 L411.3 284.7 L411.5 284 L411.6 284.6 L411.7 284.3 L411.9 284.3 L412 284.4 L412.1 284.4 L412.3 284.2 L412.4 284.4 L412.5 284.5 L412.7 284.6 L412.8 284.3 L412.9 284.7 L413 284.8 L413.2 284.9 L413.3 284.2 L413.4 284.5 L413.6 284.1 L413.7 284.5 L413.8 284.6 L414 284.3 L414.1 284.2 L414.2 284.5 L414.3 284.6 L414.5 284.3 L414.6 284.5 L414.7 284 L414.8 284.4 L415 284.5 L415.1 284.5 L415.2 284.8 L415.3 284.3 L415.5 284.1 L415.6 284.6 L415.7 284.4 L415.8 284.6 L416 284.7 L416.1 284.7 L416.2 284.8 L416.3 284.8 L416.5 284.3 L416.6 284.6 L416.7 284.9 L416.8 284.5 L417 284.8 L417.1 284.6 L417.2 284.5 L417.3 284.9 L417.4 284.8 L417.6 284.6 L417.7 284.8 L417.8 284.4 L417.9 284.5 L418 284.8 L418.2 284.6 L418.3 284.4 L418.4 284.7 L418.5 284.7 L418.6 284.9 L418.7 284.8 L418.9 284.6 L419 284.6 L419.1 284.6 L419.2 284.6 L419.3 284.9 L419.5 285 L419.6 284.9 L419.7 284.8 L419.8 284.6 L419.9 284.9 L420 284.6 L420.1 284.7 L420.3 284.4 L420.4 284.6 L420.5 285 L420.6 284.6 L420.7 284.5 L420.8 284.7 L420.9 285 L421.1 285 L421.2 284.7 L421.3 284.7 L421.4 284.7 L421.5 284.6 L421.6 284.8 L421.7 284.7 L421.8 284.5 L422 284.7 L422.1 284.8 L422.2 284.7 L422.3 284.6 L422.4 285 L422.5 285.1 L422.6 284.8 L422.7 284.8 L422.8 284.9 L422.9 284.8 L423.1 284.7 L423.2 285.1 L423.3 284.7 L423.4 284.7 L423.5 284.8 L423.6 284.7 L423.7 284.8 L423.8 285 L423.9 285.1 L424 285 L424.1 284.9 L424.2 284.7 L424.3 284.9 L424.5 284.8 L424.6 284.9 L424.7 285.1 L424.8 285 L424.9 284.9 L425 284.8 L425.1 285 L425.2 285 L425.3 284.8 L425.4 284.9 L425.5 285.1 L425.6 284.7 L425.7 284.9 L425.8 284.8 L425.9 285.2 L426 285.1 L426.1 285.1 L426.2 285.1 L426.3 285.1 L426.4 285.1 L426.5 284.8 L426.6 285.1 L426.7 285.1 L426.8 284.8 L426.9 285.2 L427.1 285.2 L427.2 284.8 L427.3 285 L427.4 285 L427.5 285 L427.6 285.1 L427.7 284.9 L427.8 285.1 L427.9 285.1 L428 285.2 L428.1 285.1 L428.2 285.1 L428.3 285.2 L428.4 284.8 L428.5 285.3 L428.6 285.1 L428.7 284.9 L428.7 285.1 L428.8 284.9 L428.9 284.8 L429 285.1 L429.1 285 L429.2 285.3 L429.3 285 L429.4 285 L429.5 285 L429.6 285.5 L429.7 285.2 L429.8 285.1 L429.9 285.1 L430 285 L430.1 285.2 L430.2 285.3 L430.3 285.4 L430.4 285.4 L430.5 285.3 L430.6 285.1 L430.7 285.1 L430.8 284.9 L430.9 285.1 L431 285.3 L431.1 285.2 L431.2 285.3 L431.3 285.1 L431.3 285.4 L431.4 285.3 L431.5 285.3 L431.6 285.3 L431.7 285 L431.8 285.2 L431.9 285.2 L432 285.6 L432.1 285.3 L432.2 285.2 L432.3 285.4 L432.4 285.2 L432.5 285.5 L432.6 285.2 L432.6 285.3 L432.7 285.2 L432.8 285.5 L432.9 285 L433 285.4 L433.1 285.2 L433.2 285.4 L433.3 285.2 L433.4 285.4 L433.5 285.4 L433.6 285.5 L433.6 285.4 L433.7 285.5 L433.8 285.5 L433.9 285.3 L434 285.2 L434.1 285.2 L434.2 285.5 L434.3 285.3 L434.4 285.6 L434.5 285.4 L434.5 285.3 L434.6 285.5 L434.7 285.7 L434.8 285.4 L434.9 285.3 L435 285.3 L435.1 285.6 L435.2 285.4 L435.2 285.4 L435.3 285.5 L435.4 285.5 L435.5 285.5 L435.6 285.4 L435.7 285.4 L435.8 285.5 L435.9 285.5 L435.9 285.6 L436 285.4 L436.1 285.5 L436.2 285.6 L436.3 285.5 L436.4 285.6 L436.5 285.6 L436.5 285.5 L436.6 285.5 L436.7 285.4 L436.8 285.6 L436.9 285.5 L437 285.5 L437.1 285.4 L437.1 285.6 L437.2 285.9 L437.3 285.6 L437.4 285.5 L437.5 285.6 L437.6 285.5 L437.6 285.6 L437.7 285.5 L437.8 285.5 L437.9 285.6 L438 285.6 L438.1 285.5 L438.1 285.5 L438.2 285.6 L438.3 285.4 L438.4 285.7 L438.5 285.5 L438.6 285.6 L438.6 285.7 L438.7 285.7 L438.8 285.4 L438.9 285.6 L439 285.6 L439.1 285.5 L439.1 285.3 L439.2 285.6 L439.3 285.6 L439.4 285.7 L439.5 285.6 L439.5 285.6 L439.6 285.7 L439.7 285.8 L439.8 285.7 L439.9 285.7 L439.9 285.6 L440 285.8 L440.1 285.6 L440.2 285.7 L440.3 285.4 L440.3 285.7 L440.4 285.6 L440.5 285.6 L440.6 285.8 L440.7 285.7 L440.7 285.6 L440.8 285.6 L440.9 285.9 L441 285.8 L441.1 285.8 L441.1 285.6 L441.2 285.9 L441.3 285.8 L441.4 285.7 L441.5 285.7 L441.5 285.5 L441.6 285.8 L441.7 285.6 L441.8 285.8 L441.8 285.6 L441.9 285.6 L442 285.8 L442.1 285.7 L442.2 285.6 L442.2 285.7 L442.3 285.8 L442.4 285.7 L442.5 285.5 L442.5 285.7 L442.6 285.6 L442.7 285.7 L442.8 285.7 L442.8 285.7 L442.9 285.7 L443 285.5 L443.1 285.8 L443.2 285.7 L443.2 285.7 L443.3 285.8 L443.4 286 L443.5 285.6 L443.5 285.6 L443.6 285.9 L443.7 285.7 L443.8 285.9 L443.8 285.6 L443.9 285.7 L444 285.9 L444.1 285.9 L444.1 285.8 L444.2 285.8 L444.3 285.8 L444.4 285.7 L444.4 285.8 L444.5 285.9 L444.6 285.9 L444.7 285.8 L444.7 285.8 L444.8 285.9 L444.9 285.9 L444.9 285.8 L445 285.8 L445.1 285.8 L445.2 286.1 L445.2 285.8 L445.3 286 L445.4 285.6 L445.5 285.9 L445.5 285.6 L445.6 285.7 L445.7 285.7 L445.8 285.8 L445.8 285.8 L445.9 285.9 L446 285.9 L446 285.8 L446.1 286.2 L446.2 285.9 L446.3 285.9 L446.3 286.1 L446.4 286 L446.5 285.9 L446.5 285.9 L446.6 286.1 L446.7 285.7 L446.8 285.7 L446.8 285.9 L446.9 285.6 L447 285.8 L447 286 L447.1 285.8 L447.2 285.9 L447.3 285.9 L447.3 285.7 L447.4 285.9 L447.5 285.8 L447.5 285.7 L447.6 285.8 L447.7 285.9 L447.7 285.8 L447.8 285.8 L447.9 286 L448 286 L448 285.9 L448.1 285.9 L448.2 285.8 L448.2 285.8 L448.3 285.8 L448.4 285.9 L448.4 286 L448.5 286 L448.6 285.9 L448.7 285.8 L448.7 285.9 L448.8 285.9 L448.9 286 L448.9 286.1 L449 285.8 L449.1 286.2 L449.1 285.7 L449.2 285.7 L449.3 285.7 L449.3 285.8 L449.4 285.9 L449.5 286.2 L449.5 285.8 L449.6 286 L449.7 285.9 L449.7 285.9 L449.8 285.8 L449.9 286.2 L449.9 285.9 L450 285.9 L450.1 286.2 L450.1 285.9 L450.2 286 L450.3 285.9 L450.3 285.8 L450.4 285.8 L450.5 285.9 L450.5 286.1 L450.6 286 L450.7 285.9 L450.7 286.1 L450.8 285.8 L450.9 286.1 L450.9 285.9 L451 285.8 L451.1 286 L451.1 286 L451.2 285.9 L451.3 286 L451.3 286.1 L451.4 286.1 L451.5 285.9 L451.5 285.7 L451.6 286.2 L451.7 285.9 L451.7 285.9 L451.8 286 L451.9 285.9 L451.9 286.1 L452 285.8 L452.1 285.9 L452.1 285.8 L452.2 286.1 L452.3 285.9 L452.3 286.1 L452.4 286.1 L452.4 285.8 L452.5 286 L452.6 286.1 L452.6 286 L452.7 286 L452.8 286.1 L452.8 286.1 L452.9 285.9 L453 286 L453 286.1 L453.1 286 L453.1 286 L453.2 285.9 L453.3 286.2 L453.3 286 L453.4 286 L453.5 286 L453.5 286 L453.6 286 L453.7 285.9 L453.7 286 L453.8 286.1 L453.8 286 L453.9 286.1 L454 286.1 L454 286 L454.1 286.2 L454.2 285.9 L454.2 286.1 L454.3 286.1 L454.3 286 L454.4 285.9 L454.5 285.9 L454.5 286.2 L454.6 285.9 L454.7 286 L454.7 286.1 L454.8 286 L454.8 285.8 L454.9 285.8 L455 286 L455 285.9 L455.1 286 L455.1 286 L455.2 286 L455.3 285.9 L455.3 285.8 L455.4 286.1 L455.4 286 L455.5 285.9 L455.6 285.8 L455.6 286.1 L455.7 285.9 L455.8 285.9 L455.8 286.1 L455.9 286.1 L455.9 286.1 L456 285.9 L456.1 285.7 L456.1 285.9 L456.2 286 L456.2 286 L456.3 286.1 L456.4 286.1 L456.4 285.9 L456.5 286.1 L456.5 286 L456.6 286 L456.7 286.2 L456.7 285.9 L456.8 286.2 L456.8 286.2 L456.9 285.8 L457 286 L457 286 L457.1 285.9 L457.1 286 L457.2 286 L457.2 286.1 L457.3 286 L457.4 285.8 L457.4 286.2 L457.5 286.2 L457.5 286 L457.6 286.2 L457.7 286.3 L457.7 285.9 L457.8 286 L457.8 286 L457.9 286.1 L458 286 L458 285.9 L458.1 286.2 L458.1 286 L458.2 286.2 L458.2 286.3 L458.3 286 L458.4 286 L458.4 286.2 L458.5 286.1 L458.5 286.1 L458.6 286.1 L458.6 286.4 L458.7 286.1 L458.8 286.1 L458.8 286.1 L458.9 286.1 L458.9 285.9 L459 286.1 L459 286.2 L459.1 286 L459.2 286.1 L459.2 286.1 L459.3 286 L459.3 286.4 L459.4 286.2 L459.4 286.1 L459.5 286 L459.6 286.1 L459.6 286.1 L459.7 286.1 L459.7 286.1 L459.8 286.4 L459.8 286.2 L459.9 286.3 L460 286.2 L460 286.4 L460.1 286 L460.1 286 L460.2 286.1 L460.2 286.1 L460.3 286.1 L460.3 286 L460.4 286.2 L460.5 286.3" stroke="#009e73" stroke-width="0.75" fill="none" stroke-linejoin="round"/>
<path d="M72.4 171l6.3 6.3M72.4 177.3l6.3 -6.3M111.1 173.2l6.3 6.3M111.1 179.6l6.3 -6.3M133.7 175.2l6.3 6.3M133.7 181.6l6.3 -6.3M149.7 176l6.3 6.3M149.7 182.3l6.3 -6.3M162.1 176.5l6.3 6.3M162.1 182.8l6.3 -6.3M172.3 177.2l6.3 6.3M172.3 183.6l6.3 -6.3M180.9 177.4l6.3 6.3M180.9 183.8l6.3 -6.3M188.3 178.2l6.3 6.3M188.3 184.6l6.3 -6.3M194.9 178.4l6.3 6.3M194.9 184.8l6.3 -6.3M200.7 179.4l6.3 6.3M200.7 185.8l6.3 -6.3M206 180.7l6.3 6.3M206 187l6.3 -6.3M210.9 181.7l6.3 6.3M210.9 188l6.3 -6.3M215.4 183.2l6.3 6.3M215.4 189.6l6.3 -6.3M219.5 185.4l6.3 6.3M219.5 191.8l6.3 -6.3M223.3 188.1l6.3 6.3M223.3 194.4l6.3 -6.3M226.9 190.8l6.3 6.3M226.9 197.1l6.3 -6.3M230.3 193.2l6.3 6.3M230.3 199.5l6.3 -6.3M233.5 196.2l6.3 6.3M233.5 202.5l6.3 -6.3M236.5 198.8l6.3 6.3M236.5 205.1l6.3 -6.3M239.4 201.7l6.3 6.3M239.4 208l6.3 -6.3M242.1 204.2l6.3 6.3M242.1 210.6l6.3 -6.3M244.7 206.2l6.3 6.3M244.7 212.6l6.3 -6.3M247.1 208.2l6.3 6.3M247.1 214.6l6.3 -6.3M249.5 210.2l6.3 6.3M249.5 216.6l6.3 -6.3M251.8 212.2l6.3 6.3M251.8 218.6l6.3 -6.3M254 213.9l6.3 6.3M254 220.2l6.3 -6.3M256.1 215.3l6.3 6.3M256.1 221.7l6.3 -6.3M258.1 216.6l6.3 6.3M258.1 222.9l6.3 -6.3M260.1 217.8l6.3 6.3M260.1 224.1l6.3 -6.3M261.9 218.9l6.3 6.3M261.9 225.2l6.3 -6.3M263.8 220l6.3 6.3M263.8 226.3l6.3 -6.3M265.5 221l6.3 6.3M265.5 227.3l6.3 -6.3M267.3 222l6.3 6.3M267.3 228.3l6.3 -6.3M268.9 222.9l6.3 6.3M268.9 229.2l6.3 -6.3M270.5 223.8l6.3 6.3M270.5 230.1l6.3 -6.3M272.1 224.7l6.3 6.3M272.1 231l6.3 -6.3M273.6 225.5l6.3 6.3M273.6 231.8l6.3 -6.3M275.1 226.4l6.3 6.3M275.1 232.7l6.3 -6.3M276.6 227.1l6.3 6.3M276.6 233.4l6.3 -6.3M278 227.9l6.3 6.3M278 234.2l6.3 -6.3M279.3 228.7l6.3 6.3M279.3 235l6.3 -6.3M280.7 229.5l6.3 6.3M280.7 235.8l6.3 -6.3M282 230.2l6.3 6.3M282 236.5l6.3 -6.3M283.3 231l6.3 6.3M283.3 237.3l6.3 -6.3M284.5 231.8l6.3 6.3M284.5 238.1l6.3 -6.3M285.8 233.4l6.3 6.3M285.8 239.7l6.3 -6.3M287 232.3l6.3 6.3M287 238.6l6.3 -6.3M288.1 234.6l6.3 6.3M288.1 240.9l6.3 -6.3M289.3 234.2l6.3 6.3M289.3 240.5l6.3 -6.3M290.4 234.8l6.3 6.3M290.4 241.1l6.3 -6.3M291.5 237.2l6.3 6.3M291.5 243.5l6.3 -6.3M292.6 236.4l6.3 6.3M292.6 242.7l6.3 -6.3M293.7 236.8l6.3 6.3M293.7 243.1l6.3 -6.3M294.7 238l6.3 6.3M294.7 244.3l6.3 -6.3M295.7 238.9l6.3 6.3M295.7 245.2l6.3 -6.3M296.7 238.5l6.3 6.3M296.7 244.8l6.3 -6.3M297.7 239.5l6.3 6.3M297.7 245.8l6.3 -6.3M298.7 238.8l6.3 6.3M298.7 245.1l6.3 -6.3M299.6 239.8l6.3 6.3M299.6 246.1l6.3 -6.3M300.6 240.3l6.3 6.3M300.6 246.6l6.3 -6.3M301.5 240.1l6.3 6.3M301.5 246.4l6.3 -6.3M302.4 240.5l6.3 6.3M302.4 246.8l6.3 -6.3M303.3 240.8l6.3 6.3M303.3 247.1l6.3 -6.3M304.2 242.3l6.3 6.3M304.2 248.6l6.3 -6.3M305 242.8l6.3 6.3M305 249.1l6.3 -6.3M305.9 243.2l6.3 6.3M305.9 249.5l6.3 -6.3M306.7 243.9l6.3 6.3M306.7 250.2l6.3 -6.3M307.5 243.3l6.3 6.3M307.5 249.6l6.3 -6.3M308.3 244.6l6.3 6.3M308.3 250.9l6.3 -6.3M309.2 245.3l6.3 6.3M309.2 251.6l6.3 -6.3M309.9 246l6.3 6.3M309.9 252.3l6.3 -6.3M310.7 245.4l6.3 6.3M310.7 251.7l6.3 -6.3M311.5 246.1l6.3 6.3M311.5 252.4l6.3 -6.3M312.2 245.4l6.3 6.3M312.2 251.7l6.3 -6.3M313 246.8l6.3 6.3M313 253.1l6.3 -6.3M313.7 246.1l6.3 6.3M313.7 252.4l6.3 -6.3M314.5 247l6.3 6.3M314.5 253.3l6.3 -6.3M315.2 248.9l6.3 6.3M315.2 255.2l6.3 -6.3M315.9 247.2l6.3 6.3M315.9 253.5l6.3 -6.3M316.6 249.4l6.3 6.3M316.6 255.7l6.3 -6.3M317.3 249.5l6.3 6.3M317.3 255.8l6.3 -6.3M318 249.5l6.3 6.3M318 255.8l6.3 -6.3M318.6 250.3l6.3 6.3M318.6 256.6l6.3 -6.3M319.3 250.7l6.3 6.3M319.3 257l6.3 -6.3M320 251.3l6.3 6.3M320 257.6l6.3 -6.3M320.6 250.9l6.3 6.3M320.6 257.2l6.3 -6.3M321.3 251l6.3 6.3M321.3 257.3l6.3 -6.3M321.9 251.3l6.3 6.3M321.9 257.6l6.3 -6.3M322.5 251.4l6.3 6.3M322.5 257.7l6.3 -6.3M323.2 252.3l6.3 6.3M323.2 258.6l6.3 -6.3M323.8 252.2l6.3 6.3M323.8 258.5l6.3 -6.3M324.4 253.5l6.3 6.3M324.4 259.8l6.3 -6.3M325 252.2l6.3 6.3M325 258.5l6.3 -6.3M325.6 252.9l6.3 6.3M325.6 259.2l6.3 -6.3M326.2 253.3l6.3 6.3M326.2 259.6l6.3 -6.3M326.7 253l6.3 6.3M326.7 259.3l6.3 -6.3M327.3 255.4l6.3 6.3M327.3 261.7l6.3 -6.3M327.9 253.4l6.3 6.3M327.9 259.7l6.3 -6.3M328.5 254.8l6.3 6.3M328.5 261.1l6.3 -6.3M329 254.9l6.3 6.3M329 261.2l6.3 -6.3M329.6 256.3l6.3 6.3M329.6 262.6l6.3 -6.3M330.1 254.7l6.3 6.3M330.1 261l6.3 -6.3M330.7 256.6l6.3 6.3M330.7 262.9l6.3 -6.3M331.2 255.9l6.3 6.3M331.2 262.2l6.3 -6.3M331.7 256.5l6.3 6.3M331.7 262.8l6.3 -6.3M332.3 256.5l6.3 6.3M332.3 262.8l6.3 -6.3M332.8 257.4l6.3 6.3M332.8 263.7l6.3 -6.3M333.3 256.7l6.3 6.3M333.3 263l6.3 -6.3M333.8 257.5l6.3 6.3M333.8 263.8l6.3 -6.3M334.3 258l6.3 6.3M334.3 264.3l6.3 -6.3M334.8 258.9l6.3 6.3M334.8 265.2l6.3 -6.3M335.3 257.1l6.3 6.3M335.3 263.4l6.3 -6.3M335.8 259.2l6.3 6.3M335.8 265.5l6.3 -6.3M336.3 259.2l6.3 6.3M336.3 265.5l6.3 -6.3M336.8 258.7l6.3 6.3M336.8 265l6.3 -6.3M337.3 259.3l6.3 6.3M337.3 265.6l6.3 -6.3M337.8 259.2l6.3 6.3M337.8 265.5l6.3 -6.3M338.2 260.4l6.3 6.3M338.2 266.7l6.3 -6.3M338.7 260l6.3 6.3M338.7 266.3l6.3 -6.3M339.2 260l6.3 6.3M339.2 266.3l6.3 -6.3M339.6 260.2l6.3 6.3M339.6 266.5l6.3 -6.3M340.1 260.4l6.3 6.3M340.1 266.7l6.3 -6.3M340.6 260.6l6.3 6.3M340.6 266.9l6.3 -6.3M341 260.5l6.3 6.3M341 266.8l6.3 -6.3M341.5 262l6.3 6.3M341.5 268.3l6.3 -6.3M341.9 260.5l6.3 6.3M341.9 266.8l6.3 -6.3M342.3 259.9l6.3 6.3M342.3 266.2l6.3 -6.3M342.8 261.7l6.3 6.3M342.8 268l6.3 -6.3M343.2 261.9l6.3 6.3M343.2 268.2l6.3 -6.3M343.6 262.3l6.3 6.3M343.6 268.6l6.3 -6.3M344.1 262.2l6.3 6.3M344.1 268.5l6.3 -6.3M344.5 262.4l6.3 6.3M344.5 268.7l6.3 -6.3M344.9 262.8l6.3 6.3M344.9 269.1l6.3 -6.3M345.3 263.3l6.3 6.3M345.3 269.6l6.3 -6.3M345.7 262.9l6.3 6.3M345.7 269.2l6.3 -6.3M346.2 263.1l6.3 6.3M346.2 269.4l6.3 -6.3M346.6 264.2l6.3 6.3M346.6 270.5l6.3 -6.3M347 263.8l6.3 6.3M347 270.1l6.3 -6.3M347.4 263.4l6.3 6.3M347.4 269.7l6.3 -6.3M347.8 264.9l6.3 6.3M347.8 271.2l6.3 -6.3M348.2 264.4l6.3 6.3M348.2 270.7l6.3 -6.3M348.6 264.1l6.3 6.3M348.6 270.4l6.3 -6.3M349 264l6.3 6.3M349 270.3l6.3 -6.3M349.3 264.8l6.3 6.3M349.3 271.1l6.3 -6.3M349.7 264.5l6.3 6.3M349.7 270.8l6.3 -6.3M350.1 264.5l6.3 6.3M350.1 270.8l6.3 -6.3M350.5 264.6l6.3 6.3M350.5 270.9l6.3 -6.3M350.9 265.1l6.3 6.3M350.9 271.4l6.3 -6.3M351.2 265.9l6.3 6.3M351.2 272.2l6.3 -6.3M351.6 265.4l6.3 6.3M351.6 271.7l6.3 -6.3M352 265.2l6.3 6.3M352 271.5l6.3 -6.3M352.4 266.2l6.3 6.3M352.4 272.5l6.3 -6.3M352.7 266.1l6.3 6.3M352.7 272.4l6.3 -6.3M353.1 266.6l6.3 6.3M353.1 272.9l6.3 -6.3M353.4 266.8l6.3 6.3M353.4 273.1l6.3 -6.3M353.8 266.5l6.3 6.3M353.8 272.8l6.3 -6.3M354.2 266.6l6.3 6.3M354.2 272.9l6.3 -6.3M354.5 266.8l6.3 6.3M354.5 273.1l6.3 -6.3M354.9 266.5l6.3 6.3M354.9 272.8l6.3 -6.3M355.2 267.4l6.3 6.3M355.2 273.7l6.3 -6.3M355.6 267.8l6.3 6.3M355.6 274.1l6.3 -6.3M355.9 267.5l6.3 6.3M355.9 273.8l6.3 -6.3M356.2 267.4l6.3 6.3M356.2 273.7l6.3 -6.3M356.6 267.6l6.3 6.3M356.6 273.9l6.3 -6.3M356.9 267.5l6.3 6.3M356.9 273.8l6.3 -6.3M357.3 267.6l6.3 6.3M357.3 273.9l6.3 -6.3M357.6 267.9l6.3 6.3M357.6 274.2l6.3 -6.3M357.9 267.9l6.3 6.3M357.9 274.2l6.3 -6.3M358.3 268.2l6.3 6.3M358.3 274.5l6.3 -6.3M358.6 267.9l6.3 6.3M358.6 274.2l6.3 -6.3M358.9 268.7l6.3 6.3M358.9 275l6.3 -6.3M359.2 268.7l6.3 6.3M359.2 275l6.3 -6.3M359.6 268.4l6.3 6.3M359.6 274.7l6.3 -6.3M359.9 268.2l6.3 6.3M359.9 274.5l6.3 -6.3M360.2 269.1l6.3 6.3M360.2 275.4l6.3 -6.3M360.5 269.6l6.3 6.3M360.5 275.9l6.3 -6.3M360.8 269.1l6.3 6.3M360.8 275.4l6.3 -6.3M361.1 269.3l6.3 6.3M361.1 275.6l6.3 -6.3M361.5 269.4l6.3 6.3M361.5 275.7l6.3 -6.3M361.8 269.9l6.3 6.3M361.8 276.2l6.3 -6.3M362.1 269.5l6.3 6.3M362.1 275.8l6.3 -6.3M362.4 270.3l6.3 6.3M362.4 276.6l6.3 -6.3M362.7 270l6.3 6.3M362.7 276.3l6.3 -6.3M363 270.5l6.3 6.3M363 276.8l6.3 -6.3M363.3 270.3l6.3 6.3M363.3 276.6l6.3 -6.3M363.6 270.3l6.3 6.3M363.6 276.6l6.3 -6.3M363.9 270l6.3 6.3M363.9 276.3l6.3 -6.3M364.2 270.4l6.3 6.3M364.2 276.7l6.3 -6.3M364.5 270.6l6.3 6.3M364.5 276.9l6.3 -6.3M364.8 271.1l6.3 6.3M364.8 277.4l6.3 -6.3M365.1 271l6.3 6.3M365.1 277.3l6.3 -6.3M365.4 270.8l6.3 6.3M365.4 277.1l6.3 -6.3M365.7 271.3l6.3 6.3M365.7 277.6l6.3 -6.3M365.9 271.6l6.3 6.3M365.9 277.9l6.3 -6.3M366.2 271.3l6.3 6.3M366.2 277.6l6.3 -6.3M366.5 271.3l6.3 6.3M366.5 277.6l6.3 -6.3M366.8 271.4l6.3 6.3M366.8 277.7l6.3 -6.3M367.1 271.9l6.3 6.3M367.1 278.2l6.3 -6.3M367.4 271.9l6.3 6.3M367.4 278.2l6.3 -6.3M367.6 271.6l6.3 6.3M367.6 277.9l6.3 -6.3M367.9 272.1l6.3 6.3M367.9 278.4l6.3 -6.3M368.2 271.9l6.3 6.3M368.2 278.2l6.3 -6.3M368.5 271.9l6.3 6.3M368.5 278.2l6.3 -6.3M368.7 272.6l6.3 6.3M368.7 278.9l6.3 -6.3M369 272.6l6.3 6.3M369 278.9l6.3 -6.3M369.3 272.2l6.3 6.3M369.3 278.5l6.3 -6.3M369.6 272.6l6.3 6.3M369.6 278.9l6.3 -6.3M369.8 272.8l6.3 6.3M369.8 279.1l6.3 -6.3M370.1 272.5l6.3 6.3M370.1 278.8l6.3 -6.3M370.4 272.8l6.3 6.3M370.4 279.1l6.3 -6.3M370.6 273.1l6.3 6.3M370.6 279.4l6.3 -6.3M370.9 272.4l6.3 6.3M370.9 278.7l6.3 -6.3M371.1 273.2l6.3 6.3M371.1 279.5l6.3 -6.3M371.4 273.4l6.3 6.3M371.4 279.7l6.3 -6.3M371.7 273.4l6.3 6.3M371.7 279.7l6.3 -6.3M371.9 272.9l6.3 6.3M371.9 279.2l6.3 -6.3M372.2 273.5l6.3 6.3M372.2 279.8l6.3 -6.3M372.4 273.3l6.3 6.3M372.4 279.6l6.3 -6.3M372.7 273.8l6.3 6.3M372.7 280.1l6.3 -6.3M373 273.9l6.3 6.3M373 280.2l6.3 -6.3M373.2 273.8l6.3 6.3M373.2 280.1l6.3 -6.3M373.5 273.6l6.3 6.3M373.5 279.9l6.3 -6.3M373.7 273.8l6.3 6.3M373.7 280.1l6.3 -6.3M374 274.3l6.3 6.3M374 280.6l6.3 -6.3M374.2 273.8l6.3 6.3M374.2 280.1l6.3 -6.3M374.5 274.3l6.3 6.3M374.5 280.6l6.3 -6.3M374.7 274.4l6.3 6.3M374.7 280.7l6.3 -6.3M374.9 274.3l6.3 6.3M374.9 280.6l6.3 -6.3M375.2 275.1l6.3 6.3M375.2 281.4l6.3 -6.3M375.4 274.5l6.3 6.3M375.4 280.8l6.3 -6.3M375.7 275.2l6.3 6.3M375.7 281.5l6.3 -6.3M375.9 274.1l6.3 6.3M375.9 280.4l6.3 -6.3M376.2 274.1l6.3 6.3M376.2 280.4l6.3 -6.3M376.4 275.1l6.3 6.3M376.4 281.4l6.3 -6.3M376.6 275l6.3 6.3M376.6 281.3l6.3 -6.3M376.9 274.8l6.3 6.3M376.9 281.1l6.3 -6.3M377.1 275l6.3 6.3M377.1 281.3l6.3 -6.3M377.3 274.5l6.3 6.3M377.3 280.8l6.3 -6.3M377.6 275l6.3 6.3M377.6 281.3l6.3 -6.3M377.8 274.9l6.3 6.3M377.8 281.2l6.3 -6.3M378 275.2l6.3 6.3M378 281.5l6.3 -6.3M378.3 275.6l6.3 6.3M378.3 281.9l6.3 -6.3M378.5 275.4l6.3 6.3M378.5 281.7l6.3 -6.3M378.7 275.6l6.3 6.3M378.7 281.9l6.3 -6.3M378.9 275.4l6.3 6.3M378.9 281.7l6.3 -6.3M379.2 275.5l6.3 6.3M379.2 281.8l6.3 -6.3M379.4 275.7l6.3 6.3M379.4 282l6.3 -6.3M379.6 275.7l6.3 6.3M379.6 282l6.3 -6.3M379.9 276.2l6.3 6.3M379.9 282.5l6.3 -6.3M380.1 275.6l6.3 6.3M380.1 281.9l6.3 -6.3M380.3 276.5l6.3 6.3M380.3 282.8l6.3 -6.3M380.5 275.8l6.3 6.3M380.5 282.1l6.3 -6.3M380.7 276.4l6.3 6.3M380.7 282.7l6.3 -6.3M381 275.9l6.3 6.3M381 282.2l6.3 -6.3M381.2 276.7l6.3 6.3M381.2 283l6.3 -6.3M381.4 276.3l6.3 6.3M381.4 282.6l6.3 -6.3M381.6 276.4l6.3 6.3M381.6 282.7l6.3 -6.3M381.8 276.6l6.3 6.3M381.8 282.9l6.3 -6.3M382 276.3l6.3 6.3M382 282.6l6.3 -6.3M382.3 276.2l6.3 6.3M382.3 282.5l6.3 -6.3M382.5 276l6.3 6.3M382.5 282.3l6.3 -6.3M382.7 277l6.3 6.3M382.7 283.3l6.3 -6.3M382.9 276.5l6.3 6.3M382.9 282.8l6.3 -6.3M383.1 276.6l6.3 6.3M383.1 282.9l6.3 -6.3M383.3 276.8l6.3 6.3M383.3 283.1l6.3 -6.3M383.5 277.4l6.3 6.3M383.5 283.7l6.3 -6.3M383.7 276.5l6.3 6.3M383.7 282.8l6.3 -6.3M383.9 277l6.3 6.3M383.9 283.3l6.3 -6.3M384.2 276.9l6.3 6.3M384.2 283.2l6.3 -6.3M384.4 277.2l6.3 6.3M384.4 283.5l6.3 -6.3M384.6 276.7l6.3 6.3M384.6 283l6.3 -6.3M384.8 277.1l6.3 6.3M384.8 283.4l6.3 -6.3M385 277.5l6.3 6.3M385 283.8l6.3 -6.3M385.2 277.7l6.3 6.3M385.2 284l6.3 -6.3M385.4 277.8l6.3 6.3M385.4 284.1l6.3 -6.3M385.6 277.2l6.3 6.3M385.6 283.5l6.3 -6.3M385.8 277.5l6.3 6.3M385.8 283.8l6.3 -6.3M386 277.5l6.3 6.3M386 283.8l6.3 -6.3M386.2 277.2l6.3 6.3M386.2 283.5l6.3 -6.3M386.4 277.2l6.3 6.3M386.4 283.5l6.3 -6.3M386.6 277.9l6.3 6.3M386.6 284.2l6.3 -6.3M386.8 277.8l6.3 6.3M386.8 284.1l6.3 -6.3M387 277.7l6.3 6.3M387 284l6.3 -6.3M387.2 278.1l6.3 6.3M387.2 284.4l6.3 -6.3M387.4 277.6l6.3 6.3M387.4 283.9l6.3 -6.3M387.6 278l6.3 6.3M387.6 284.3l6.3 -6.3M387.8 278l6.3 6.3M387.8 284.3l6.3 -6.3M388 278l6.3 6.3M388 284.3l6.3 -6.3M388.2 278.2l6.3 6.3M388.2 284.5l6.3 -6.3M388.3 278.1l6.3 6.3M388.3 284.4l6.3 -6.3M388.5 278.2l6.3 6.3M388.5 284.5l6.3 -6.3M388.7 278.3l6.3 6.3M388.7 284.6l6.3 -6.3M388.9 278.7l6.3 6.3M388.9 285l6.3 -6.3M389.1 278.2l6.3 6.3M389.1 284.5l6.3 -6.3M389.3 278.6l6.3 6.3M389.3 284.9l6.3 -6.3M389.5 278.5l6.3 6.3M389.5 284.8l6.3 -6.3M389.7 278.3l6.3 6.3M389.7 284.6l6.3 -6.3M389.9 278.7l6.3 6.3M389.9 285l6.3 -6.3M390 278.3l6.3 6.3M390 284.6l6.3 -6.3M390.2 278.8l6.3 6.3M390.2 285.1l6.3 -6.3M390.4 278.4l6.3 6.3M390.4 284.7l6.3 -6.3M390.6 278.5l6.3 6.3M390.6 284.8l6.3 -6.3M390.8 278.8l6.3 6.3M390.8 285.1l6.3 -6.3M391 278.9l6.3 6.3M391 285.2l6.3 -6.3M391.2 279l6.3 6.3M391.2 285.3l6.3 -6.3M391.3 279l6.3 6.3M391.3 285.3l6.3 -6.3M391.5 278.8l6.3 6.3M391.5 285.1l6.3 -6.3M391.7 278.7l6.3 6.3M391.7 285l6.3 -6.3M391.9 279.1l6.3 6.3M391.9 285.4l6.3 -6.3M392.1 279.1l6.3 6.3M392.1 285.4l6.3 -6.3M392.2 278.8l6.3 6.3M392.2 285.1l6.3 -6.3M392.4 279.3l6.3 6.3M392.4 285.6l6.3 -6.3M392.6 279.2l6.3 6.3M392.6 285.5l6.3 -6.3M392.8 278.9l6.3 6.3M392.8 285.2l6.3 -6.3M392.9 279.3l6.3 6.3M392.9 285.6l6.3 -6.3M393.1 278.9l6.3 6.3M393.1 285.2l6.3 -6.3M393.3 279.1l6.3 6.3M393.3 285.4l6.3 -6.3M393.5 279.4l6.3 6.3M393.5 285.7l6.3 -6.3M393.7 279l6.3 6.3M393.7 285.3l6.3 -6.3M393.8 279.4l6.3 6.3M393.8 285.7l6.3 -6.3M394 279.1l6.3 6.3M394 285.4l6.3 -6.3M394.2 279.6l6.3 6.3M394.2 285.9l6.3 -6.3M394.3 279.3l6.3 6.3M394.3 285.6l6.3 -6.3M394.5 279.6l6.3 6.3M394.5 285.9l6.3 -6.3M394.7 279.2l6.3 6.3M394.7 285.5l6.3 -6.3M394.9 279.5l6.3 6.3M394.9 285.8l6.3 -6.3M395 279.8l6.3 6.3M395 286.1l6.3 -6.3M395.2 279.8l6.3 6.3M395.2 286.1l6.3 -6.3M395.4 279.3l6.3 6.3M395.4 285.6l6.3 -6.3M395.5 279.9l6.3 6.3M395.5 286.2l6.3 -6.3M395.7 279.9l6.3 6.3M395.7 286.2l6.3 -6.3M395.9 279.7l6.3 6.3M395.9 286l6.3 -6.3M396 280.1l6.3 6.3M396 286.4l6.3 -6.3M396.2 279.6l6.3 6.3M396.2 285.9l6.3 -6.3M396.4 279.8l6.3 6.3M396.4 286.1l6.3 -6.3M396.5 280.1l6.3 6.3M396.5 286.4l6.3 -6.3M396.7 280.2l6.3 6.3M396.7 286.5l6.3 -6.3M396.9 280.2l6.3 6.3M396.9 286.5l6.3 -6.3M397 279.7l6.3 6.3M397 286l6.3 -6.3M397.2 279.6l6.3 6.3M397.2 285.9l6.3 -6.3M397.4 280.1l6.3 6.3M397.4 286.4l6.3 -6.3M397.5 279.7l6.3 6.3M397.5 286l6.3 -6.3M397.7 280l6.3 6.3M397.7 286.3l6.3 -6.3M397.9 279.8l6.3 6.3M397.9 286.1l6.3 -6.3M398 280.3l6.3 6.3M398 286.6l6.3 -6.3M398.2 280.3l6.3 6.3M398.2 286.6l6.3 -6.3M398.3 280.3l6.3 6.3M398.3 286.6l6.3 -6.3M398.5 280.2l6.3 6.3M398.5 286.5l6.3 -6.3M398.7 280.2l6.3 6.3M398.7 286.5l6.3 -6.3M398.8 280.2l6.3 6.3M398.8 286.5l6.3 -6.3M399 280.3l6.3 6.3M399 286.6l6.3 -6.3M399.1 280.3l6.3 6.3M399.1 286.6l6.3 -6.3M399.3 280.4l6.3 6.3M399.3 286.7l6.3 -6.3M399.5 280.2l6.3 6.3M399.5 286.5l6.3 -6.3M399.6 280.8l6.3 6.3M399.6 287.1l6.3 -6.3M399.8 280.4l6.3 6.3M399.8 286.7l6.3 -6.3M399.9 280.7l6.3 6.3M399.9 287l6.3 -6.3M400.1 280.7l6.3 6.3M400.1 287l6.3 -6.3M400.2 280.2l6.3 6.3M400.2 286.5l6.3 -6.3M400.4 280.1l6.3 6.3M400.4 286.4l6.3 -6.3M400.5 280.7l6.3 6.3M400.5 287l6.3 -6.3M400.7 280.4l6.3 6.3M400.7 286.7l6.3 -6.3M400.9 280.5l6.3 6.3M400.9 286.8l6.3 -6.3M401 280.5l6.3 6.3M401 286.8l6.3 -6.3M401.2 280.6l6.3 6.3M401.2 286.9l6.3 -6.3M401.3 280.3l6.3 6.3M401.3 286.6l6.3 -6.3M401.5 280.6l6.3 6.3M401.5 286.9l6.3 -6.3M401.6 280.5l6.3 6.3M401.6 286.8l6.3 -6.3M401.8 280.6l6.3 6.3M401.8 286.9l6.3 -6.3M401.9 280.2l6.3 6.3M401.9 286.5l6.3 -6.3M402.1 280.9l6.3 6.3M402.1 287.2l6.3 -6.3M402.2 280.8l6.3 6.3M402.2 287.1l6.3 -6.3M402.4 280.4l6.3 6.3M402.4 286.7l6.3 -6.3M402.5 280.6l6.3 6.3M402.5 286.9l6.3 -6.3M402.7 280.8l6.3 6.3M402.7 287.1l6.3 -6.3M402.8 280.9l6.3 6.3M402.8 287.2l6.3 -6.3M403 280.8l6.3 6.3M403 287.1l6.3 -6.3M403.1 281.1l6.3 6.3M403.1 287.4l6.3 -6.3M403.3 280.8l6.3 6.3M403.3 287.1l6.3 -6.3M403.4 280.6l6.3 6.3M403.4 286.9l6.3 -6.3M403.5 280.7l6.3 6.3M403.5 287l6.3 -6.3M403.7 281l6.3 6.3M403.7 287.3l6.3 -6.3M403.8 280.8l6.3 6.3M403.8 287.1l6.3 -6.3M404 281.1l6.3 6.3M404 287.4l6.3 -6.3M404.1 281.1l6.3 6.3M404.1 287.4l6.3 -6.3M404.3 281.1l6.3 6.3M404.3 287.4l6.3 -6.3M404.4 281.2l6.3 6.3M404.4 287.5l6.3 -6.3M404.6 280.9l6.3 6.3M404.6 287.2l6.3 -6.3M404.7 281l6.3 6.3M404.7 287.3l6.3 -6.3M404.8 280.9l6.3 6.3M404.8 287.2l6.3 -6.3M405 280.9l6.3 6.3M405 287.2l6.3 -6.3M405.1 280.7l6.3 6.3M405.1 287l6.3 -6.3M405.3 280.9l6.3 6.3M405.3 287.2l6.3 -6.3M405.4 280.8l6.3 6.3M405.4 287.1l6.3 -6.3M405.6 280.8l6.3 6.3M405.6 287.1l6.3 -6.3M405.7 281.1l6.3 6.3M405.7 287.4l6.3 -6.3M405.8 281.2l6.3 6.3M405.8 287.5l6.3 -6.3M406 281l6.3 6.3M406 287.3l6.3 -6.3M406.1 281.4l6.3 6.3M406.1 287.7l6.3 -6.3M406.3 281.3l6.3 6.3M406.3 287.6l6.3 -6.3M406.4 281.3l6.3 6.3M406.4 287.6l6.3 -6.3M406.5 281l6.3 6.3M406.5 287.3l6.3 -6.3M406.7 280.8l6.3 6.3M406.7 287.1l6.3 -6.3M406.8 281.2l6.3 6.3M406.8 287.5l6.3 -6.3M407 281.2l6.3 6.3M407 287.5l6.3 -6.3M407.1 281.3l6.3 6.3M407.1 287.6l6.3 -6.3M407.2 281.2l6.3 6.3M407.2 287.5l6.3 -6.3M407.4 281.4l6.3 6.3M407.4 287.7l6.3 -6.3M407.5 281.1l6.3 6.3M407.5 287.4l6.3 -6.3M407.6 281.3l6.3 6.3M407.6 287.6l6.3 -6.3M407.8 281l6.3 6.3M407.8 287.3l6.3 -6.3M407.9 280.8l6.3 6.3M407.9 287.1l6.3 -6.3M408 281.1l6.3 6.3M408 287.4l6.3 -6.3M408.2 281.5l6.3 6.3M408.2 287.8l6.3 -6.3M408.3 280.9l6.3 6.3M408.3 287.2l6.3 -6.3M408.4 281.4l6.3 6.3M408.4 287.7l6.3 -6.3M408.6 281.1l6.3 6.3M408.6 287.4l6.3 -6.3M408.7 281.2l6.3 6.3M408.7 287.5l6.3 -6.3M408.8 281.3l6.3 6.3M408.8 287.6l6.3 -6.3M409 281.3l6.3 6.3M409 287.6l6.3 -6.3M409.1 281.1l6.3 6.3M409.1 287.4l6.3 -6.3M409.2 281.3l6.3 6.3M409.2 287.6l6.3 -6.3M409.4 281.4l6.3 6.3M409.4 287.7l6.3 -6.3M409.5 281.4l6.3 6.3M409.5 287.7l6.3 -6.3M409.6 281.1l6.3 6.3M409.6 287.4l6.3 -6.3M409.8 281.6l6.3 6.3M409.8 287.9l6.3 -6.3M409.9 281.7l6.3 6.3M409.9 288l6.3 -6.3M410 281.8l6.3 6.3M410 288.1l6.3 -6.3M410.2 281.1l6.3 6.3M410.2 287.4l6.3 -6.3M410.3 281.3l6.3 6.3M410.3 287.6l6.3 -6.3M410.4 281l6.3 6.3M410.4 287.3l6.3 -6.3M410.5 281.4l6.3 6.3M410.5 287.7l6.3 -6.3M410.7 281.4l6.3 6.3M410.7 287.7l6.3 -6.3M410.8 281.1l6.3 6.3M410.8 287.4l6.3 -6.3M410.9 281l6.3 6.3M410.9 287.3l6.3 -6.3M411.1 281.4l6.3 6.3M411.1 287.7l6.3 -6.3M411.2 281.5l6.3 6.3M411.2 287.8l6.3 -6.3M411.3 281.2l6.3 6.3M411.3 287.5l6.3 -6.3M411.4 281.3l6.3 6.3M411.4 287.6l6.3 -6.3M411.6 280.9l6.3 6.3M411.6 287.2l6.3 -6.3M411.7 281.2l6.3 6.3M411.7 287.5l6.3 -6.3M411.8 281.4l6.3 6.3M411.8 287.7l6.3 -6.3M411.9 281.4l6.3 6.3M411.9 287.7l6.3 -6.3M412.1 281.7l6.3 6.3M412.1 288l6.3 -6.3M412.2 281.2l6.3 6.3M412.2 287.5l6.3 -6.3M412.3 281l6.3 6.3M412.3 287.3l6.3 -6.3M412.4 281.5l6.3 6.3M412.4 287.8l6.3 -6.3M412.6 281.3l6.3 6.3M412.6 287.6l6.3 -6.3M412.7 281.4l6.3 6.3M412.7 287.7l6.3 -6.3M412.8 281.5l6.3 6.3M412.8 287.8l6.3 -6.3M412.9 281.5l6.3 6.3M412.9 287.8l6.3 -6.3M413.1 281.7l6.3 6.3M413.1 288l6.3 -6.3M413.2 281.7l6.3 6.3M413.2 288l6.3 -6.3M413.3 281.1l6.3 6.3M413.3 287.4l6.3 -6.3M413.4 281.4l6.3 6.3M413.4 287.7l6.3 -6.3M413.6 281.8l6.3 6.3M413.6 288.1l6.3 -6.3M413.7 281.4l6.3 6.3M413.7 287.7l6.3 -6.3M413.8 281.6l6.3 6.3M413.8 287.9l6.3 -6.3M413.9 281.4l6.3 6.3M413.9 287.7l6.3 -6.3M414 281.4l6.3 6.3M414 287.7l6.3 -6.3M414.2 281.7l6.3 6.3M414.2 288l6.3 -6.3M414.3 281.6l6.3 6.3M414.3 287.9l6.3 -6.3M414.4 281.4l6.3 6.3M414.4 287.7l6.3 -6.3M414.5 281.6l6.3 6.3M414.5 287.9l6.3 -6.3M414.6 281.2l6.3 6.3M414.6 287.5l6.3 -6.3M414.8 281.3l6.3 6.3M414.8 287.6l6.3 -6.3M414.9 281.6l6.3 6.3M414.9 287.9l6.3 -6.3M415 281.5l6.3 6.3M415 287.8l6.3 -6.3M415.1 281.3l6.3 6.3M415.1 287.6l6.3 -6.3M415.2 281.6l6.3 6.3M415.2 287.9l6.3 -6.3M415.4 281.5l6.3 6.3M415.4 287.8l6.3 -6.3M415.5 281.7l6.3 6.3M415.5 288l6.3 -6.3M415.6 281.7l6.3 6.3M415.6 288l6.3 -6.3M415.7 281.5l6.3 6.3M415.7 287.8l6.3 -6.3M415.8 281.4l6.3 6.3M415.8 287.7l6.3 -6.3M416 281.5l6.3 6.3M416 287.8l6.3 -6.3M416.1 281.5l6.3 6.3M416.1 287.8l6.3 -6.3M416.2 281.8l6.3 6.3M416.2 288.1l6.3 -6.3M416.3 281.8l6.3 6.3M416.3 288.1l6.3 -6.3M416.4 281.8l6.3 6.3M416.4 288.1l6.3 -6.3M416.5 281.6l6.3 6.3M416.5 287.9l6.3 -6.3M416.6 281.5l6.3 6.3M416.6 287.8l6.3 -6.3M416.8 281.7l6.3 6.3M416.8 288l6.3 -6.3M416.9 281.5l6.3 6.3M416.9 287.8l6.3 -6.3M417 281.6l6.3 6.3M417 287.9l6.3 -6.3M417.1 281.3l6.3 6.3M417.1 287.6l6.3 -6.3M417.2 281.5l6.3 6.3M417.2 287.8l6.3 -6.3M417.3 281.8l6.3 6.3M417.3 288.1l6.3 -6.3M417.5 281.4l6.3 6.3M417.5 287.7l6.3 -6.3M417.6 281.3l6.3 6.3M417.6 287.6l6.3 -6.3M417.7 281.6l6.3 6.3M417.7 287.9l6.3 -6.3M417.8 281.9l6.3 6.3M417.8 288.2l6.3 -6.3M417.9 281.8l6.3 6.3M417.9 288.1l6.3 -6.3M418 281.5l6.3 6.3M418 287.8l6.3 -6.3M418.1 281.5l6.3 6.3M418.1 287.8l6.3 -6.3M418.2 281.6l6.3 6.3M418.2 287.9l6.3 -6.3M418.4 281.5l6.3 6.3M418.4 287.8l6.3 -6.3M418.5 281.6l6.3 6.3M418.5 287.9l6.3 -6.3M418.6 281.6l6.3 6.3M418.6 287.9l6.3 -6.3M418.7 281.4l6.3 6.3M418.7 287.7l6.3 -6.3M418.8 281.5l6.3 6.3M418.8 287.8l6.3 -6.3M418.9 281.6l6.3 6.3M418.9 287.9l6.3 -6.3M419 281.5l6.3 6.3M419 287.8l6.3 -6.3M419.1 281.5l6.3 6.3M419.1 287.8l6.3 -6.3M419.2 281.8l6.3 6.3M419.2 288.1l6.3 -6.3M419.4 282l6.3 6.3M419.4 288.3l6.3 -6.3M419.5 281.6l6.3 6.3M419.5 287.9l6.3 -6.3M419.6 281.6l6.3 6.3M419.6 287.9l6.3 -6.3M419.7 281.8l6.3 6.3M419.7 288.1l6.3 -6.3M419.8 281.7l6.3 6.3M419.8 288l6.3 -6.3M419.9 281.6l6.3 6.3M419.9 287.9l6.3 -6.3M420 281.9l6.3 6.3M420 288.2l6.3 -6.3M420.1 281.5l6.3 6.3M420.1 287.8l6.3 -6.3M420.2 281.6l6.3 6.3M420.2 287.9l6.3 -6.3M420.3 281.6l6.3 6.3M420.3 287.9l6.3 -6.3M420.4 281.6l6.3 6.3M420.4 287.9l6.3 -6.3M420.6 281.7l6.3 6.3M420.6 288l6.3 -6.3M420.7 281.8l6.3 6.3M420.7 288.1l6.3 -6.3M420.8 282l6.3 6.3M420.8 288.3l6.3 -6.3M420.9 281.9l6.3 6.3M420.9 288.2l6.3 -6.3M421 281.8l6.3 6.3M421 288.1l6.3 -6.3M421.1 281.6l6.3 6.3M421.1 287.9l6.3 -6.3M421.2 281.8l6.3 6.3M421.2 288.1l6.3 -6.3M421.3 281.6l6.3 6.3M421.3 287.9l6.3 -6.3M421.4 281.8l6.3 6.3M421.4 288.1l6.3 -6.3M421.5 281.9l6.3 6.3M421.5 288.2l6.3 -6.3M421.6 281.8l6.3 6.3M421.6 288.1l6.3 -6.3M421.7 281.8l6.3 6.3M421.7 288.1l6.3 -6.3M421.8 281.7l6.3 6.3M421.8 288l6.3 -6.3M421.9 281.8l6.3 6.3M421.9 288.1l6.3 -6.3M422 281.8l6.3 6.3M422 288.1l6.3 -6.3M422.1 281.7l6.3 6.3M422.1 288l6.3 -6.3M422.3 281.7l6.3 6.3M422.3 288l6.3 -6.3M422.4 282l6.3 6.3M422.4 288.3l6.3 -6.3M422.5 281.6l6.3 6.3M422.5 287.9l6.3 -6.3M422.6 281.8l6.3 6.3M422.6 288.1l6.3 -6.3M422.7 281.7l6.3 6.3M422.7 288l6.3 -6.3M422.8 282.1l6.3 6.3M422.8 288.4l6.3 -6.3M422.9 282l6.3 6.3M422.9 288.3l6.3 -6.3M423 281.9l6.3 6.3M423 288.2l6.3 -6.3M423.1 281.9l6.3 6.3M423.1 288.2l6.3 -6.3M423.2 281.9l6.3 6.3M423.2 288.2l6.3 -6.3M423.3 281.9l6.3 6.3M423.3 288.2l6.3 -6.3M423.4 281.6l6.3 6.3M423.4 287.9l6.3 -6.3M423.5 281.9l6.3 6.3M423.5 288.2l6.3 -6.3M423.6 282l6.3 6.3M423.6 288.3l6.3 -6.3M423.7 281.7l6.3 6.3M423.7 288l6.3 -6.3M423.8 282l6.3 6.3M423.8 288.3l6.3 -6.3M423.9 282l6.3 6.3M423.9 288.3l6.3 -6.3M424 281.7l6.3 6.3M424 288l6.3 -6.3M424.1 281.8l6.3 6.3M424.1 288.1l6.3 -6.3M424.2 281.9l6.3 6.3M424.2 288.2l6.3 -6.3M424.3 281.8l6.3 6.3M424.3 288.1l6.3 -6.3M424.4 282l6.3 6.3M424.4 288.3l6.3 -6.3M424.5 281.7l6.3 6.3M424.5 288l6.3 -6.3M424.6 281.9l6.3 6.3M424.6 288.2l6.3 -6.3M424.7 282l6.3 6.3M424.7 288.3l6.3 -6.3M424.8 282.1l6.3 6.3M424.8 288.4l6.3 -6.3M424.9 282l6.3 6.3M424.9 288.3l6.3 -6.3M425 281.9l6.3 6.3M425 288.2l6.3 -6.3M425.1 282.1l6.3 6.3M425.1 288.4l6.3 -6.3M425.2 281.7l6.3 6.3M425.2 288l6.3 -6.3M425.3 282.1l6.3 6.3M425.3 288.4l6.3 -6.3M425.4 281.9l6.3 6.3M425.4 288.2l6.3 -6.3M425.5 281.8l6.3 6.3M425.5 288.1l6.3 -6.3M425.6 281.9l6.3 6.3M425.6 288.2l6.3 -6.3M425.7 281.7l6.3 6.3M425.7 288l6.3 -6.3M425.8 281.7l6.3 6.3M425.8 288l6.3 -6.3M425.9 282l6.3 6.3M425.9 288.3l6.3 -6.3M426 281.9l6.3 6.3M426 288.2l6.3 -6.3M426.1 282.1l6.3 6.3M426.1 288.4l6.3 -6.3M426.2 281.9l6.3 6.3M426.2 288.2l6.3 -6.3M426.3 281.8l6.3 6.3M426.3 288.1l6.3 -6.3M426.4 281.9l6.3 6.3M426.4 288.2l6.3 -6.3M426.5 282.3l6.3 6.3M426.5 288.6l6.3 -6.3M426.6 282l6.3 6.3M426.6 288.3l6.3 -6.3M426.7 282l6.3 6.3M426.7 288.3l6.3 -6.3M426.8 281.9l6.3 6.3M426.8 288.2l6.3 -6.3M426.9 281.9l6.3 6.3M426.9 288.2l6.3 -6.3M427 282l6.3 6.3M427 288.3l6.3 -6.3M427.1 282.1l6.3 6.3M427.1 288.4l6.3 -6.3M427.2 282.2l6.3 6.3M427.2 288.5l6.3 -6.3M427.2 282.3l6.3 6.3M427.2 288.6l6.3 -6.3M427.3 282.1l6.3 6.3M427.3 288.4l6.3 -6.3M427.4 282l6.3 6.3M427.4 288.3l6.3 -6.3M427.5 282l6.3 6.3M427.5 288.3l6.3 -6.3M427.6 281.7l6.3 6.3M427.6 288l6.3 -6.3M427.7 281.9l6.3 6.3M427.7 288.2l6.3 -6.3M427.8 282.2l6.3 6.3M427.8 288.5l6.3 -6.3M427.9 282.1l6.3 6.3M427.9 288.4l6.3 -6.3M428 282.2l6.3 6.3M428 288.5l6.3 -6.3M428.1 281.9l6.3 6.3M428.1 288.2l6.3 -6.3M428.2 282.3l6.3 6.3M428.2 288.6l6.3 -6.3M428.3 282.2l6.3 6.3M428.3 288.5l6.3 -6.3M428.4 282.1l6.3 6.3M428.4 288.4l6.3 -6.3M428.5 282.2l6.3 6.3M428.5 288.5l6.3 -6.3M428.6 281.8l6.3 6.3M428.6 288.1l6.3 -6.3M428.7 282.1l6.3 6.3M428.7 288.4l6.3 -6.3M428.8 282l6.3 6.3M428.8 288.3l6.3 -6.3M428.8 282.4l6.3 6.3M428.8 288.7l6.3 -6.3M428.9 282.1l6.3 6.3M428.9 288.4l6.3 -6.3M429 282.1l6.3 6.3M429 288.4l6.3 -6.3M429.1 282.3l6.3 6.3M429.1 288.6l6.3 -6.3M429.2 282l6.3 6.3M429.2 288.3l6.3 -6.3M429.3 282.4l6.3 6.3M429.3 288.7l6.3 -6.3M429.4 282.1l6.3 6.3M429.4 288.4l6.3 -6.3M429.5 282.2l6.3 6.3M429.5 288.5l6.3 -6.3M429.6 282l6.3 6.3M429.6 288.3l6.3 -6.3M429.7 282.3l6.3 6.3M429.7 288.6l6.3 -6.3M429.8 281.9l6.3 6.3M429.8 288.2l6.3 -6.3M429.9 282.3l6.3 6.3M429.9 288.6l6.3 -6.3M430 282.1l6.3 6.3M430 288.4l6.3 -6.3M430 282.2l6.3 6.3M430 288.5l6.3 -6.3M430.1 282l6.3 6.3M430.1 288.3l6.3 -6.3M430.2 282.2l6.3 6.3M430.2 288.5l6.3 -6.3M430.3 282.2l6.3 6.3M430.3 288.5l6.3 -6.3M430.4 282.3l6.3 6.3M430.4 288.6l6.3 -6.3M430.5 282.3l6.3 6.3M430.5 288.6l6.3 -6.3M430.6 282.3l6.3 6.3M430.6 288.6l6.3 -6.3M430.7 282.4l6.3 6.3M430.7 288.7l6.3 -6.3M430.8 282.2l6.3 6.3M430.8 288.5l6.3 -6.3M430.9 282.1l6.3 6.3M430.9 288.4l6.3 -6.3M430.9 282.1l6.3 6.3M430.9 288.4l6.3 -6.3M431 282.3l6.3 6.3M431 288.6l6.3 -6.3M431.1 282.2l6.3 6.3M431.1 288.5l6.3 -6.3M431.2 282.4l6.3 6.3M431.2 288.7l6.3 -6.3M431.3 282.3l6.3 6.3M431.3 288.6l6.3 -6.3M431.4 282.1l6.3 6.3M431.4 288.4l6.3 -6.3M431.5 282.4l6.3 6.3M431.5 288.7l6.3 -6.3M431.6 282.5l6.3 6.3M431.6 288.8l6.3 -6.3M431.7 282.2l6.3 6.3M431.7 288.5l6.3 -6.3M431.7 282.1l6.3 6.3M431.7 288.4l6.3 -6.3M431.8 282.2l6.3 6.3M431.8 288.5l6.3 -6.3M431.9 282.4l6.3 6.3M431.9 288.7l6.3 -6.3M432 282.2l6.3 6.3M432 288.5l6.3 -6.3M432.1 282.2l6.3 6.3M432.1 288.5l6.3 -6.3M432.2 282.4l6.3 6.3M432.2 288.7l6.3 -6.3M432.3 282.3l6.3 6.3M432.3 288.6l6.3 -6.3M432.4 282.3l6.3 6.3M432.4 288.6l6.3 -6.3M432.4 282.2l6.3 6.3M432.4 288.5l6.3 -6.3M432.5 282.2l6.3 6.3M432.5 288.5l6.3 -6.3M432.6 282.3l6.3 6.3M432.6 288.6l6.3 -6.3M432.7 282.3l6.3 6.3M432.7 288.6l6.3 -6.3M432.8 282.4l6.3 6.3M432.8 288.7l6.3 -6.3M432.9 282.3l6.3 6.3M432.9 288.6l6.3 -6.3M433 282.4l6.3 6.3M433 288.7l6.3 -6.3M433.1 282.4l6.3 6.3M433.1 288.7l6.3 -6.3M433.1 282.3l6.3 6.3M433.1 288.6l6.3 -6.3M433.2 282.4l6.3 6.3M433.2 288.7l6.3 -6.3M433.3 282.5l6.3 6.3M433.3 288.8l6.3 -6.3M433.4 282.4l6.3 6.3M433.4 288.7l6.3 -6.3M433.5 282.4l6.3 6.3M433.5 288.7l6.3 -6.3M433.6 282.2l6.3 6.3M433.6 288.5l6.3 -6.3M433.7 282.4l6.3 6.3M433.7 288.7l6.3 -6.3M433.7 282.3l6.3 6.3M433.7 288.6l6.3 -6.3M433.8 282.3l6.3 6.3M433.8 288.6l6.3 -6.3M433.9 282.3l6.3 6.3M433.9 288.6l6.3 -6.3M434 282.5l6.3 6.3M434 288.8l6.3 -6.3M434.1 282.7l6.3 6.3M434.1 289l6.3 -6.3M434.2 282.4l6.3 6.3M434.2 288.7l6.3 -6.3M434.2 282.4l6.3 6.3M434.2 288.7l6.3 -6.3M434.3 282.4l6.3 6.3M434.3 288.7l6.3 -6.3M434.4 282.3l6.3 6.3M434.4 288.6l6.3 -6.3M434.5 282.4l6.3 6.3M434.5 288.7l6.3 -6.3M434.6 282.3l6.3 6.3M434.6 288.6l6.3 -6.3M434.7 282.3l6.3 6.3M434.7 288.6l6.3 -6.3M434.7 282.4l6.3 6.3M434.7 288.7l6.3 -6.3M434.8 282.4l6.3 6.3M434.8 288.7l6.3 -6.3M434.9 282.4l6.3 6.3M434.9 288.7l6.3 -6.3M435 282.3l6.3 6.3M435 288.6l6.3 -6.3M435.1 282.5l6.3 6.3M435.1 288.8l6.3 -6.3M435.2 282.3l6.3 6.3M435.2 288.6l6.3 -6.3M435.2 282.5l6.3 6.3M435.2 288.8l6.3 -6.3M435.3 282.4l6.3 6.3M435.3 288.7l6.3 -6.3M435.4 282.4l6.3 6.3M435.4 288.7l6.3 -6.3M435.5 282.5l6.3 6.3M435.5 288.8l6.3 -6.3M435.6 282.5l6.3 6.3M435.6 288.8l6.3 -6.3M435.7 282.3l6.3 6.3M435.7 288.6l6.3 -6.3M435.7 282.4l6.3 6.3M435.7 288.7l6.3 -6.3M435.8 282.5l6.3 6.3M435.8 288.8l6.3 -6.3M435.9 282.3l6.3 6.3M435.9 288.6l6.3 -6.3M436 282.1l6.3 6.3M436 288.4l6.3 -6.3M436.1 282.4l6.3 6.3M436.1 288.7l6.3 -6.3M436.1 282.5l6.3 6.3M436.1 288.8l6.3 -6.3M436.2 282.5l6.3 6.3M436.2 288.8l6.3 -6.3M436.3 282.5l6.3 6.3M436.3 288.8l6.3 -6.3M436.4 282.5l6.3 6.3M436.4 288.8l6.3 -6.3M436.5 282.5l6.3 6.3M436.5 288.8l6.3 -6.3M436.6 282.7l6.3 6.3M436.6 289l6.3 -6.3M436.6 282.5l6.3 6.3M436.6 288.8l6.3 -6.3M436.7 282.6l6.3 6.3M436.7 288.9l6.3 -6.3M436.8 282.4l6.3 6.3M436.8 288.7l6.3 -6.3M436.9 282.6l6.3 6.3M436.9 288.9l6.3 -6.3M437 282.5l6.3 6.3M437 288.8l6.3 -6.3M437 282.6l6.3 6.3M437 288.9l6.3 -6.3M437.1 282.2l6.3 6.3M437.1 288.5l6.3 -6.3M437.2 282.5l6.3 6.3M437.2 288.8l6.3 -6.3M437.3 282.5l6.3 6.3M437.3 288.8l6.3 -6.3M437.4 282.4l6.3 6.3M437.4 288.7l6.3 -6.3M437.4 282.7l6.3 6.3M437.4 289l6.3 -6.3M437.5 282.6l6.3 6.3M437.5 288.9l6.3 -6.3M437.6 282.5l6.3 6.3M437.6 288.8l6.3 -6.3M437.7 282.4l6.3 6.3M437.7 288.7l6.3 -6.3M437.8 282.8l6.3 6.3M437.8 289.1l6.3 -6.3M437.8 282.6l6.3 6.3M437.8 288.9l6.3 -6.3M437.9 282.6l6.3 6.3M437.9 288.9l6.3 -6.3M438 282.4l6.3 6.3M438 288.7l6.3 -6.3M438.1 282.7l6.3 6.3M438.1 289l6.3 -6.3M438.1 282.6l6.3 6.3M438.1 288.9l6.3 -6.3M438.2 282.5l6.3 6.3M438.2 288.8l6.3 -6.3M438.3 282.5l6.3 6.3M438.3 288.8l6.3 -6.3M438.4 282.3l6.3 6.3M438.4 288.6l6.3 -6.3M438.5 282.6l6.3 6.3M438.5 288.9l6.3 -6.3M438.5 282.4l6.3 6.3M438.5 288.7l6.3 -6.3M438.6 282.7l6.3 6.3M438.6 289l6.3 -6.3M438.7 282.5l6.3 6.3M438.7 288.8l6.3 -6.3M438.8 282.5l6.3 6.3M438.8 288.8l6.3 -6.3M438.9 282.6l6.3 6.3M438.9 288.9l6.3 -6.3M438.9 282.6l6.3 6.3M438.9 288.9l6.3 -6.3M439 282.4l6.3 6.3M439 288.7l6.3 -6.3M439.1 282.6l6.3 6.3M439.1 288.9l6.3 -6.3M439.2 282.6l6.3 6.3M439.2 288.9l6.3 -6.3M439.2 282.5l6.3 6.3M439.2 288.8l6.3 -6.3M439.3 282.4l6.3 6.3M439.3 288.7l6.3 -6.3M439.4 282.5l6.3 6.3M439.4 288.8l6.3 -6.3M439.5 282.5l6.3 6.3M439.5 288.8l6.3 -6.3M439.5 282.5l6.3 6.3M439.5 288.8l6.3 -6.3M439.6 282.6l6.3 6.3M439.6 288.9l6.3 -6.3M439.7 282.6l6.3 6.3M439.7 288.9l6.3 -6.3M439.8 282.6l6.3 6.3M439.8 288.9l6.3 -6.3M439.9 282.4l6.3 6.3M439.9 288.7l6.3 -6.3M439.9 282.6l6.3 6.3M439.9 288.9l6.3 -6.3M440 282.6l6.3 6.3M440 288.9l6.3 -6.3M440.1 282.5l6.3 6.3M440.1 288.8l6.3 -6.3M440.2 282.6l6.3 6.3M440.2 288.9l6.3 -6.3M440.2 282.9l6.3 6.3M440.2 289.2l6.3 -6.3M440.3 282.4l6.3 6.3M440.3 288.7l6.3 -6.3M440.4 282.4l6.3 6.3M440.4 288.7l6.3 -6.3M440.5 282.7l6.3 6.3M440.5 289l6.3 -6.3M440.5 282.5l6.3 6.3M440.5 288.8l6.3 -6.3M440.6 282.8l6.3 6.3M440.6 289.1l6.3 -6.3M440.7 282.5l6.3 6.3M440.7 288.8l6.3 -6.3M440.8 282.6l6.3 6.3M440.8 288.9l6.3 -6.3M440.8 282.7l6.3 6.3M440.8 289l6.3 -6.3M440.9 282.7l6.3 6.3M440.9 289l6.3 -6.3M441 282.7l6.3 6.3M441 289l6.3 -6.3M441.1 282.7l6.3 6.3M441.1 289l6.3 -6.3M441.1 282.6l6.3 6.3M441.1 288.9l6.3 -6.3M441.2 282.6l6.3 6.3M441.2 288.9l6.3 -6.3M441.3 282.6l6.3 6.3M441.3 288.9l6.3 -6.3M441.4 282.8l6.3 6.3M441.4 289.1l6.3 -6.3M441.4 282.7l6.3 6.3M441.4 289l6.3 -6.3M441.5 282.6l6.3 6.3M441.5 288.9l6.3 -6.3M441.6 282.7l6.3 6.3M441.6 289l6.3 -6.3M441.7 282.7l6.3 6.3M441.7 289l6.3 -6.3M441.7 282.8l6.3 6.3M441.7 289.1l6.3 -6.3M441.8 282.6l6.3 6.3M441.8 288.9l6.3 -6.3M441.9 282.6l6.3 6.3M441.9 288.9l6.3 -6.3M441.9 282.7l6.3 6.3M441.9 289l6.3 -6.3M442 283l6.3 6.3M442 289.3l6.3 -6.3M442.1 282.7l6.3 6.3M442.1 289l6.3 -6.3M442.2 282.8l6.3 6.3M442.2 289.1l6.3 -6.3M442.2 282.5l6.3 6.3M442.2 288.8l6.3 -6.3M442.3 282.8l6.3 6.3M442.3 289.1l6.3 -6.3M442.4 282.5l6.3 6.3M442.4 288.8l6.3 -6.3M442.5 282.5l6.3 6.3M442.5 288.8l6.3 -6.3M442.5 282.6l6.3 6.3M442.5 288.9l6.3 -6.3M442.6 282.7l6.3 6.3M442.6 289l6.3 -6.3M442.7 282.7l6.3 6.3M442.7 289l6.3 -6.3M442.7 282.7l6.3 6.3M442.7 289l6.3 -6.3M442.8 282.7l6.3 6.3M442.8 289l6.3 -6.3M442.9 282.6l6.3 6.3M442.9 288.9l6.3 -6.3M443 283l6.3 6.3M443 289.3l6.3 -6.3M443 282.7l6.3 6.3M443 289l6.3 -6.3M443.1 282.8l6.3 6.3M443.1 289.1l6.3 -6.3M443.2 282.9l6.3 6.3M443.2 289.2l6.3 -6.3M443.3 282.8l6.3 6.3M443.3 289.1l6.3 -6.3M443.3 282.8l6.3 6.3M443.3 289.1l6.3 -6.3M443.4 282.7l6.3 6.3M443.4 289l6.3 -6.3M443.5 282.9l6.3 6.3M443.5 289.2l6.3 -6.3M443.5 282.6l6.3 6.3M443.5 288.9l6.3 -6.3M443.6 282.6l6.3 6.3M443.6 288.9l6.3 -6.3M443.7 282.7l6.3 6.3M443.7 289l6.3 -6.3M443.8 282.4l6.3 6.3M443.8 288.7l6.3 -6.3M443.8 282.6l6.3 6.3M443.8 288.9l6.3 -6.3M443.9 282.8l6.3 6.3M443.9 289.1l6.3 -6.3M444 282.6l6.3 6.3M444 288.9l6.3 -6.3M444 282.7l6.3 6.3M444 289l6.3 -6.3M444.1 282.8l6.3 6.3M444.1 289.1l6.3 -6.3M444.2 282.6l6.3 6.3M444.2 288.9l6.3 -6.3M444.2 282.7l6.3 6.3M444.2 289l6.3 -6.3M444.3 282.6l6.3 6.3M444.3 288.9l6.3 -6.3M444.4 282.6l6.3 6.3M444.4 288.9l6.3 -6.3M444.5 282.7l6.3 6.3M444.5 289l6.3 -6.3M444.5 282.7l6.3 6.3M444.5 289l6.3 -6.3M444.6 282.7l6.3 6.3M444.6 289l6.3 -6.3M444.7 282.6l6.3 6.3M444.7 288.9l6.3 -6.3M444.7 282.8l6.3 6.3M444.7 289.1l6.3 -6.3M444.8 282.9l6.3 6.3M444.8 289.2l6.3 -6.3M444.9 282.8l6.3 6.3M444.9 289.1l6.3 -6.3M444.9 282.7l6.3 6.3M444.9 289l6.3 -6.3M445 282.6l6.3 6.3M445 288.9l6.3 -6.3M445.1 282.6l6.3 6.3M445.1 288.9l6.3 -6.3M445.2 282.6l6.3 6.3M445.2 288.9l6.3 -6.3M445.2 282.8l6.3 6.3M445.2 289.1l6.3 -6.3M445.3 282.8l6.3 6.3M445.3 289.1l6.3 -6.3M445.4 282.8l6.3 6.3M445.4 289.1l6.3 -6.3M445.4 282.7l6.3 6.3M445.4 289l6.3 -6.3M445.5 282.7l6.3 6.3M445.5 289l6.3 -6.3M445.6 282.8l6.3 6.3M445.6 289.1l6.3 -6.3M445.6 282.8l6.3 6.3M445.6 289.1l6.3 -6.3M445.7 282.8l6.3 6.3M445.7 289.1l6.3 -6.3M445.8 282.9l6.3 6.3M445.8 289.2l6.3 -6.3M445.8 282.7l6.3 6.3M445.8 289l6.3 -6.3M445.9 283l6.3 6.3M445.9 289.3l6.3 -6.3M446 282.5l6.3 6.3M446 288.8l6.3 -6.3M446 282.5l6.3 6.3M446 288.8l6.3 -6.3M446.1 282.6l6.3 6.3M446.1 288.9l6.3 -6.3M446.2 282.6l6.3 6.3M446.2 288.9l6.3 -6.3M446.3 282.7l6.3 6.3M446.3 289l6.3 -6.3M446.3 283l6.3 6.3M446.3 289.3l6.3 -6.3M446.4 282.7l6.3 6.3M446.4 289l6.3 -6.3M446.5 282.9l6.3 6.3M446.5 289.2l6.3 -6.3M446.5 282.7l6.3 6.3M446.5 289l6.3 -6.3M446.6 282.8l6.3 6.3M446.6 289.1l6.3 -6.3M446.7 282.6l6.3 6.3M446.7 288.9l6.3 -6.3M446.7 283l6.3 6.3M446.7 289.3l6.3 -6.3M446.8 282.8l6.3 6.3M446.8 289.1l6.3 -6.3M446.9 282.7l6.3 6.3M446.9 289l6.3 -6.3M446.9 283l6.3 6.3M446.9 289.3l6.3 -6.3M447 282.8l6.3 6.3M447 289.1l6.3 -6.3M447.1 282.8l6.3 6.3M447.1 289.1l6.3 -6.3M447.1 282.8l6.3 6.3M447.1 289.1l6.3 -6.3M447.2 282.7l6.3 6.3M447.2 289l6.3 -6.3M447.3 282.6l6.3 6.3M447.3 288.9l6.3 -6.3M447.3 282.8l6.3 6.3M447.3 289.1l6.3 -6.3M447.4 283l6.3 6.3M447.4 289.3l6.3 -6.3M447.5 282.8l6.3 6.3M447.5 289.1l6.3 -6.3M447.5 282.8l6.3 6.3M447.5 289.1l6.3 -6.3M447.6 282.9l6.3 6.3M447.6 289.2l6.3 -6.3M447.7 282.7l6.3 6.3M447.7 289l6.3 -6.3M447.7 283l6.3 6.3M447.7 289.3l6.3 -6.3M447.8 282.8l6.3 6.3M447.8 289.1l6.3 -6.3M447.9 282.7l6.3 6.3M447.9 289l6.3 -6.3M447.9 282.9l6.3 6.3M447.9 289.2l6.3 -6.3M448 282.9l6.3 6.3M448 289.2l6.3 -6.3M448.1 282.8l6.3 6.3M448.1 289.1l6.3 -6.3M448.1 282.8l6.3 6.3M448.1 289.1l6.3 -6.3M448.2 282.9l6.3 6.3M448.2 289.2l6.3 -6.3M448.3 283l6.3 6.3M448.3 289.3l6.3 -6.3M448.3 282.7l6.3 6.3M448.3 289l6.3 -6.3M448.4 282.5l6.3 6.3M448.4 288.8l6.3 -6.3M448.5 283l6.3 6.3M448.5 289.3l6.3 -6.3M448.5 282.8l6.3 6.3M448.5 289.1l6.3 -6.3M448.6 282.8l6.3 6.3M448.6 289.1l6.3 -6.3M448.6 282.9l6.3 6.3M448.6 289.2l6.3 -6.3M448.7 282.8l6.3 6.3M448.7 289.1l6.3 -6.3M448.8 282.9l6.3 6.3M448.8 289.2l6.3 -6.3M448.8 282.7l6.3 6.3M448.8 289l6.3 -6.3M448.9 282.8l6.3 6.3M448.9 289.1l6.3 -6.3M449 282.7l6.3 6.3M449 289l6.3 -6.3M449 283l6.3 6.3M449 289.3l6.3 -6.3M449.1 282.8l6.3 6.3M449.1 289.1l6.3 -6.3M449.2 282.9l6.3 6.3M449.2 289.2l6.3 -6.3M449.2 283l6.3 6.3M449.2 289.3l6.3 -6.3M449.3 282.7l6.3 6.3M449.3 289l6.3 -6.3M449.4 282.8l6.3 6.3M449.4 289.1l6.3 -6.3M449.4 282.9l6.3 6.3M449.4 289.2l6.3 -6.3M449.5 282.8l6.3 6.3M449.5 289.1l6.3 -6.3M449.6 282.8l6.3 6.3M449.6 289.1l6.3 -6.3M449.6 282.9l6.3 6.3M449.6 289.2l6.3 -6.3M449.7 282.9l6.3 6.3M449.7 289.2l6.3 -6.3M449.7 282.8l6.3 6.3M449.7 289.1l6.3 -6.3M449.8 282.8l6.3 6.3M449.8 289.1l6.3 -6.3M449.9 282.9l6.3 6.3M449.9 289.2l6.3 -6.3M449.9 282.9l6.3 6.3M449.9 289.2l6.3 -6.3M450 282.9l6.3 6.3M450 289.2l6.3 -6.3M450.1 282.7l6.3 6.3M450.1 289l6.3 -6.3M450.1 283l6.3 6.3M450.1 289.3l6.3 -6.3M450.2 282.8l6.3 6.3M450.2 289.1l6.3 -6.3M450.3 282.9l6.3 6.3M450.3 289.2l6.3 -6.3M450.3 282.8l6.3 6.3M450.3 289.1l6.3 -6.3M450.4 282.9l6.3 6.3M450.4 289.2l6.3 -6.3M450.4 282.9l6.3 6.3M450.4 289.2l6.3 -6.3M450.5 282.8l6.3 6.3M450.5 289.1l6.3 -6.3M450.6 282.9l6.3 6.3M450.6 289.2l6.3 -6.3M450.6 283l6.3 6.3M450.6 289.3l6.3 -6.3M450.7 282.9l6.3 6.3M450.7 289.2l6.3 -6.3M450.8 282.9l6.3 6.3M450.8 289.2l6.3 -6.3M450.8 282.9l6.3 6.3M450.8 289.2l6.3 -6.3M450.9 282.9l6.3 6.3M450.9 289.2l6.3 -6.3M450.9 283.1l6.3 6.3M450.9 289.4l6.3 -6.3M451 282.8l6.3 6.3M451 289.1l6.3 -6.3M451.1 282.9l6.3 6.3M451.1 289.2l6.3 -6.3M451.1 283l6.3 6.3M451.1 289.3l6.3 -6.3M451.2 282.9l6.3 6.3M451.2 289.2l6.3 -6.3M451.3 282.7l6.3 6.3M451.3 289l6.3 -6.3M451.3 282.7l6.3 6.3M451.3 289l6.3 -6.3M451.4 283l6.3 6.3M451.4 289.3l6.3 -6.3M451.4 282.8l6.3 6.3M451.4 289.1l6.3 -6.3M451.5 282.9l6.3 6.3M451.5 289.2l6.3 -6.3M451.6 282.9l6.3 6.3M451.6 289.2l6.3 -6.3M451.6 282.9l6.3 6.3M451.6 289.2l6.3 -6.3M451.7 282.7l6.3 6.3M451.7 289l6.3 -6.3M451.7 282.7l6.3 6.3M451.7 289l6.3 -6.3M451.8 282.9l6.3 6.3M451.8 289.2l6.3 -6.3M451.9 282.8l6.3 6.3M451.9 289.1l6.3 -6.3M451.9 282.8l6.3 6.3M451.9 289.1l6.3 -6.3M452 282.9l6.3 6.3M452 289.2l6.3 -6.3M452.1 282.9l6.3 6.3M452.1 289.2l6.3 -6.3M452.1 282.7l6.3 6.3M452.1 289l6.3 -6.3M452.2 282.7l6.3 6.3M452.2 289l6.3 -6.3M452.2 283l6.3 6.3M452.2 289.3l6.3 -6.3M452.3 282.8l6.3 6.3M452.3 289.1l6.3 -6.3M452.4 282.8l6.3 6.3M452.4 289.1l6.3 -6.3M452.4 282.7l6.3 6.3M452.4 289l6.3 -6.3M452.5 282.9l6.3 6.3M452.5 289.2l6.3 -6.3M452.5 282.7l6.3 6.3M452.5 289l6.3 -6.3M452.6 282.8l6.3 6.3M452.6 289.1l6.3 -6.3M452.7 283l6.3 6.3M452.7 289.3l6.3 -6.3M452.7 282.9l6.3 6.3M452.7 289.2l6.3 -6.3M452.8 283l6.3 6.3M452.8 289.3l6.3 -6.3M452.8 282.8l6.3 6.3M452.8 289.1l6.3 -6.3M452.9 282.6l6.3 6.3M452.9 288.9l6.3 -6.3M453 282.8l6.3 6.3M453 289.1l6.3 -6.3M453 282.9l6.3 6.3M453 289.2l6.3 -6.3M453.1 282.8l6.3 6.3M453.1 289.1l6.3 -6.3M453.1 283l6.3 6.3M453.1 289.3l6.3 -6.3M453.2 282.9l6.3 6.3M453.2 289.2l6.3 -6.3M453.3 282.8l6.3 6.3M453.3 289.1l6.3 -6.3M453.3 283l6.3 6.3M453.3 289.3l6.3 -6.3M453.4 282.9l6.3 6.3M453.4 289.2l6.3 -6.3M453.4 282.8l6.3 6.3M453.4 289.1l6.3 -6.3M453.5 283l6.3 6.3M453.5 289.3l6.3 -6.3M453.6 282.7l6.3 6.3M453.6 289l6.3 -6.3M453.6 283l6.3 6.3M453.6 289.3l6.3 -6.3M453.7 283l6.3 6.3M453.7 289.3l6.3 -6.3M453.7 282.7l6.3 6.3M453.7 289l6.3 -6.3M453.8 282.9l6.3 6.3M453.8 289.2l6.3 -6.3M453.9 282.9l6.3 6.3M453.9 289.2l6.3 -6.3M453.9 282.8l6.3 6.3M453.9 289.1l6.3 -6.3M454 282.8l6.3 6.3M454 289.1l6.3 -6.3M454 282.8l6.3 6.3M454 289.1l6.3 -6.3M454.1 282.9l6.3 6.3M454.1 289.2l6.3 -6.3M454.2 282.9l6.3 6.3M454.2 289.2l6.3 -6.3M454.2 282.7l6.3 6.3M454.2 289l6.3 -6.3M454.3 283l6.3 6.3M454.3 289.3l6.3 -6.3M454.3 283l6.3 6.3M454.3 289.3l6.3 -6.3M454.4 282.8l6.3 6.3M454.4 289.1l6.3 -6.3M454.5 283l6.3 6.3M454.5 289.3l6.3 -6.3M454.5 283.1l6.3 6.3M454.5 289.4l6.3 -6.3M454.6 282.8l6.3 6.3M454.6 289.1l6.3 -6.3M454.6 282.9l6.3 6.3M454.6 289.2l6.3 -6.3M454.7 282.9l6.3 6.3M454.7 289.2l6.3 -6.3M454.7 283l6.3 6.3M454.7 289.3l6.3 -6.3M454.8 282.9l6.3 6.3M454.8 289.2l6.3 -6.3M454.9 282.8l6.3 6.3M454.9 289.1l6.3 -6.3M454.9 283.1l6.3 6.3M454.9 289.4l6.3 -6.3M455 282.9l6.3 6.3M455 289.2l6.3 -6.3M455 283l6.3 6.3M455 289.3l6.3 -6.3M455.1 283.2l6.3 6.3M455.1 289.5l6.3 -6.3M455.2 282.8l6.3 6.3M455.2 289.1l6.3 -6.3M455.2 282.9l6.3 6.3M455.2 289.2l6.3 -6.3M455.3 283l6.3 6.3M455.3 289.3l6.3 -6.3M455.3 282.9l6.3 6.3M455.3 289.2l6.3 -6.3M455.4 283l6.3 6.3M455.4 289.3l6.3 -6.3M455.4 282.9l6.3 6.3M455.4 289.2l6.3 -6.3M455.5 283.2l6.3 6.3M455.5 289.5l6.3 -6.3M455.6 283l6.3 6.3M455.6 289.3l6.3 -6.3M455.6 283l6.3 6.3M455.6 289.3l6.3 -6.3M455.7 282.9l6.3 6.3M455.7 289.2l6.3 -6.3M455.7 283l6.3 6.3M455.7 289.3l6.3 -6.3M455.8 282.8l6.3 6.3M455.8 289.1l6.3 -6.3M455.8 282.9l6.3 6.3M455.8 289.2l6.3 -6.3M455.9 283l6.3 6.3M455.9 289.3l6.3 -6.3M456 282.8l6.3 6.3M456 289.1l6.3 -6.3M456 282.9l6.3 6.3M456 289.2l6.3 -6.3M456.1 282.9l6.3 6.3M456.1 289.2l6.3 -6.3M456.1 282.9l6.3 6.3M456.1 289.2l6.3 -6.3M456.2 283.2l6.3 6.3M456.2 289.5l6.3 -6.3M456.2 283l6.3 6.3M456.2 289.3l6.3 -6.3M456.3 283l6.3 6.3M456.3 289.3l6.3 -6.3M456.4 282.9l6.3 6.3M456.4 289.2l6.3 -6.3M456.4 282.9l6.3 6.3M456.4 289.2l6.3 -6.3M456.5 282.9l6.3 6.3M456.5 289.2l6.3 -6.3M456.5 282.9l6.3 6.3M456.5 289.2l6.3 -6.3M456.6 283l6.3 6.3M456.6 289.3l6.3 -6.3M456.6 283.2l6.3 6.3M456.6 289.5l6.3 -6.3M456.7 283.1l6.3 6.3M456.7 289.4l6.3 -6.3M456.7 283.1l6.3 6.3M456.7 289.4l6.3 -6.3M456.8 283.1l6.3 6.3M456.8 289.4l6.3 -6.3M456.9 283.2l6.3 6.3M456.9 289.5l6.3 -6.3M456.9 282.9l6.3 6.3M456.9 289.2l6.3 -6.3M457 282.8l6.3 6.3M457 289.1l6.3 -6.3M457 283l6.3 6.3M457 289.3l6.3 -6.3M457.1 283l6.3 6.3M457.1 289.3l6.3 -6.3M457.1 283l6.3 6.3M457.1 289.3l6.3 -6.3M457.2 282.9l6.3 6.3M457.2 289.2l6.3 -6.3M457.3 283l6.3 6.3M457.3 289.3l6.3 -6.3M457.3 283.1l6.3 6.3M457.3 289.4l6.3 -6.3" stroke="#009e73" stroke-width="0.9" fill="none"/>
<path d="M447.1 30.6H468.1" stroke="#0072b2" stroke-width="0.75" fill="none"/>
<path d="M454.5 30.6h6.3M457.6 27.5v6.3" stroke="#0072b2" stroke-width="0.9" fill="none"/>
<path d="M447.1 56H468.1" stroke="#e51e10" stroke-width="0.75" fill="none"/>
<path d="M454.5 56h6.3M457.6 52.9v6.3" stroke="#e51e10" stroke-width="0.9" fill="none"/>
<path d="M447.1 81.4H468.1" stroke="#009e73" stroke-width="0.75" fill="none"/>
<path d="M454.5 78.2l6.3 6.3M454.5 84.6l6.3 -6.3" stroke="#009e73" stroke-width="0.9" fill="none"/>
<g fill="#000" font-family="Liberation Sans, sans-serif" font-size="18.67"><path d="M763 0H583V1147Q518 1085 412.5 1023T223 930V1104Q374 1175 487 1276T647 1472H763Z" transform="translate(37.57 18.40) scale(0.00912 -0.00912)"/><text transform="translate(47.87 18.40) scale(0.98 1.03)">0</text><text transform="translate(58.17 18.40) scale(0.98 1.03)">0</text><path d="M763 0H583V1147Q518 1085 412.5 1023T223 930V1104Q374 1175 487 1276T647 1472H763Z" transform="translate(47.77 155.20) scale(0.00912 -0.00912)"/><text transform="translate(58.17 155.20) scale(0.98 1.03)">0</text><path d="M763 0H583V1147Q518 1085 412.5 1023T223 930V1104Q374 1175 487 1276T647 1472H763Z" transform="translate(57.57 292.30) scale(0.00912 -0.00912)"/><path d="M763 0H583V1147Q518 1085 412.5 1023T223 930V1104Q374 1175 487 1276T647 1472H763Z" transform="translate(72.47 305.10) scale(0.00912 -0.00912)"/><path d="M763 0H583V1147Q518 1085 412.5 1023T223 930V1104Q374 1175 487 1276T647 1472H763Z" transform="translate(195.87 305.10) scale(0.00912 -0.00912)"/><text transform="translate(206.67 305.10) scale(0.98 1.03)">0</text><path d="M763 0H583V1147Q518 1085 412.5 1023T223 930V1104Q374 1175 487 1276T647 1472H763Z" transform="translate(319.17 305.10) scale(0.00912 -0.00912)"/><text transform="translate(329.57 305.10) scale(0.98 1.03)">0</text><text transform="translate(339.97 305.10) scale(0.98 1.03)">0</text><path d="M763 0H583V1147Q518 1085 412.5 1023T223 930V1104Q374 1175 487 1276T647 1472H763Z" transform="translate(442.77 305.10) scale(0.00912 -0.00912)"/><text transform="translate(452.27 305.10) scale(0.98 1.03)">0</text><text transform="translate(462.67 305.10) scale(0.98 1.03)">0</text><text transform="translate(472.97 305.10) scale(0.98 1.03)">0</text><text x="274.5" y="323.3">n</text><text transform="translate(32.6 155.2) rotate(-90)">&#956;</text></g>
<rect x="75.60" y="12.50" width="407.45" height="273.35" fill="none" stroke="#000" stroke-width="1.33"/>
</svg>
<div class="k" style="left:402.3px;top:23.5px"><i>&Gamma;</i><sub>0</sub>=0.5</div>
<div class="k" style="left:402.3px;top:48.8px"><i>&Gamma;</i><sub>0</sub>=1</div>
<div class="k" style="left:402.3px;top:74.2px"><i>&Gamma;</i><sub>0</sub>=1.5</div>
</body></html>
